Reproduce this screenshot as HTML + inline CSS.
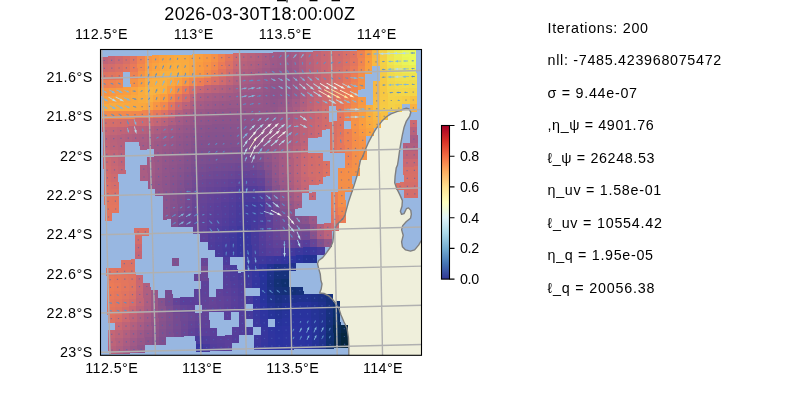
<!DOCTYPE html><html><head><meta charset="utf-8"><title>fig</title><style>html,body{margin:0;padding:0;background:#fff}svg{display:block;will-change:transform}text{font-family:"Liberation Sans",sans-serif;fill:#000}</style></head><body>
<svg width="800" height="400" viewBox="0 0 800 400">
<defs><clipPath id="ax"><rect x="100.5" y="49.5" width="321" height="305.8"/></clipPath>
<linearGradient id="cb" x1="0" y1="0" x2="0" y2="1"><stop offset="0.0" stop-color="#a50026"/><stop offset="0.1" stop-color="#d73027"/><stop offset="0.2" stop-color="#f46d43"/><stop offset="0.3" stop-color="#fdae61"/><stop offset="0.4" stop-color="#fee090"/><stop offset="0.5" stop-color="#ffffbf"/><stop offset="0.6" stop-color="#e0f3f8"/><stop offset="0.7" stop-color="#abd9e9"/><stop offset="0.8" stop-color="#74add1"/><stop offset="0.9" stop-color="#4575b4"/><stop offset="1.0" stop-color="#313695"/></linearGradient></defs>
<rect x="0" y="0" width="800" height="400" fill="#fff"/>
<g clip-path="url(#ax)">
<rect x="100" y="49" width="322" height="307" fill="#98b7e1"/>
<path d="M406.4 108.1 L408.9 108.9 L410.8 112.2 L409.7 116.2 L406.4 121.1 L404 127.6 L402.4 134.9 L400.7 143.9 L399.4 152 L398.3 160.1 L397.5 165 L396.2 168.1 L395.1 176.3 L394.7 182.8 L396.7 188.4 L399.9 194.9 L402.4 200.6 L402 206.3 L400.4 211.2 L401.6 214.4 L404 213.6 L406.4 208.7 L408.5 207.9 L410.8 210.4 L411.3 214.4 L410.5 218.3 L406.4 221.5 L402.7 225.6 L401.6 229.6 L403.2 235.3 L401.6 241.8 L402.4 246.7 L405.6 249.9 L410.5 251.1 L414.6 249.9 L418.6 245.1 L421 241 L430 238 L430 360 L348.8 360 L348.8 346.5 L348.4 337.5 L347 328 L344 322 L341 315 L339 309 L336 304 L333 300 L329 296 L324 293.5 L319.6 293 L321.2 289 L322 284 L320.8 280 L320.3 274.3 L318.7 268.6 L317.5 263.7 L318.7 260.5 L322.7 257.6 L326.8 252.4 L330.9 246.5 L332.8 242 L333.4 236.8 L333.9 232.3 L334.9 228.5 L336.4 225.5 L339 222.5 L342.8 218.8 L345 215 L346.2 210.4 L348.7 201.4 L351.7 192.5 L354.4 184.4 L356.9 176.3 L358.8 168.1 L360.4 160.5 L362.6 156.9 L365 150.4 L368.2 143 L371.5 136.6 L374.7 130.9 L378 126 L382 121.1 L386.1 117 L391 113.8 L397.5 111.4 L404 109Z" fill="#efefdb"/>
<g shape-rendering="crispEdges">
<path d="M100.4 56.7 107.8 56.5 108 64.4 100.7 64.5z" fill="#bf6478"/>
<path d="M107.8 56.5 115.1 56.4 115.3 64.2 108 64.4z" fill="#c66775"/>
<path d="M115.1 56.4 122.5 56.2 122.7 64 115.3 64.2z" fill="#ce6a70"/>
<path d="M122.5 56.2 129.8 56 130 63.8 122.7 64z" fill="#d76f68"/>
<path d="M129.8 56 137.2 55.8 137.4 63.7 130 63.8z" fill="#e2755f"/>
<path d="M137.2 55.8 144.5 55.6 144.7 63.5 137.4 63.7z" fill="#ef8351"/>
<path d="M144.5 55.6 151.8 55.5 152 63.3 144.7 63.5z" fill="#f79544"/>
<path d="M151.8 55.5 159.2 55.3 159.4 63.1 152 63.3z" fill="#fa9b40"/>
<path d="M159.2 55.3 166.5 55.1 166.7 62.9 159.4 63.1z" fill="#faa33f"/>
<path d="M166.5 55.1 173.9 54.9 174.1 62.8 166.7 62.9z" fill="#f9a740"/>
<path d="M173.9 54.9 181.2 54.8 181.4 62.6 174.1 62.8z" fill="#f9ab40"/>
<path d="M181.2 54.8 188.5 54.6 188.7 62.4 181.4 62.6z" fill="#f9aa40"/>
<path d="M188.5 54.6 195.9 54.4 196.1 62.2 188.7 62.4z" fill="#f9a540"/>
<path d="M195.9 54.4 203.2 54.2 203.4 62 196.1 62.2z" fill="#faa03f"/>
<path d="M203.2 54.2 210.6 54 210.8 61.9 203.4 62z" fill="#f99941"/>
<path d="M210.6 54 217.9 53.9 218.1 61.7 210.8 61.9z" fill="#f59047"/>
<path d="M217.9 53.9 225.3 53.7 225.4 61.5 218.1 61.7z" fill="#ee8252"/>
<path d="M225.3 53.7 232.6 53.5 232.8 61.3 225.4 61.5z" fill="#e3765d"/>
<path d="M232.6 53.5 239.9 53.3 240.1 61.1 232.8 61.3z" fill="#d16c6d"/>
<path d="M239.9 53.3 247.3 53.1 247.4 61 240.1 61.1z" fill="#be6479"/>
<path d="M247.3 53.1 254.6 53 254.8 60.8 247.4 61z" fill="#b8627c"/>
<path d="M254.6 53 262 52.8 262.1 60.6 254.8 60.8z" fill="#b3607e"/>
<path d="M262 52.8 269.3 52.6 269.5 60.4 262.1 60.6z" fill="#ab5d82"/>
<path d="M269.3 52.6 276.6 52.4 276.8 60.3 269.5 60.4z" fill="#a25a85"/>
<path d="M276.6 52.4 284 52.3 284.1 60.1 276.8 60.3z" fill="#9f5986"/>
<path d="M284 52.3 291.3 52.1 291.5 59.9 284.1 60.1z" fill="#9f5986"/>
<path d="M291.3 52.1 298.7 51.9 298.8 59.7 291.5 59.9z" fill="#a45b85"/>
<path d="M298.7 51.9 306 51.7 306.2 59.5 298.8 59.7z" fill="#af5f80"/>
<path d="M306 51.7 313.4 51.5 313.5 59.4 306.2 59.5z" fill="#b9627b"/>
<path d="M313.4 51.5 320.7 51.4 320.8 59.2 313.5 59.4z" fill="#c26577"/>
<path d="M320.7 51.4 328 51.2 328.2 59 320.8 59.2z" fill="#ca6873"/>
<path d="M328 51.2 335.4 51 335.5 58.8 328.2 59z" fill="#cd6a70"/>
<path d="M335.4 51 342.7 50.8 342.9 58.6 335.5 58.8z" fill="#d06b6e"/>
<path d="M342.7 50.8 350.1 50.6 350.2 58.5 342.9 58.6z" fill="#d86f68"/>
<path d="M350.1 50.6 357.4 50.5 357.5 58.3 350.2 58.5z" fill="#df7461"/>
<path d="M357.4 50.5 364.7 50.3 364.9 58.1 357.5 58.3z" fill="#ee8251"/>
<path d="M364.7 50.3 372.1 50.1 372.2 57.9 364.9 58.1z" fill="#f99b40"/>
<path d="M372.1 50.1 379.4 49.9 379.6 57.8 372.2 57.9z" fill="#f8b641"/>
<path d="M379.4 49.9 386.8 49.7 386.9 57.6 379.6 57.8z" fill="#f5cf46"/>
<path d="M386.8 49.7 394.1 49.6 394.2 57.4 386.9 57.6z" fill="#eee450"/>
<path d="M394.1 49.6 401.5 49.4 401.6 57.2 394.2 57.4z" fill="#ebef55"/>
<path d="M401.5 49.4 408.8 49.2 408.9 57 401.6 57.2z" fill="#e9f85a"/>
<path d="M408.8 49.2 416.1 49 416.3 56.9 408.9 57z" fill="#e8f95a"/>
<path d="M100.7 64.5 108 64.4 108.2 72.2 100.9 72.4z" fill="#cf6b6f"/>
<path d="M108 64.4 115.3 64.2 115.5 72 108.2 72.2z" fill="#d36d6b"/>
<path d="M115.3 64.2 122.7 64 122.9 71.8 115.5 72z" fill="#d97066"/>
<path d="M122.7 64 130 63.8 130.2 71.7 122.9 71.8z" fill="#e07460"/>
<path d="M130 63.8 137.4 63.7 137.6 71.5 130.2 71.7z" fill="#ea7a58"/>
<path d="M137.4 63.7 144.7 63.5 144.9 71.3 137.6 71.5z" fill="#f28a4b"/>
<path d="M144.7 63.5 152 63.3 152.2 71.1 144.9 71.3z" fill="#fa9b40"/>
<path d="M152 63.3 159.4 63.1 159.6 70.9 152.2 71.1z" fill="#faa23f"/>
<path d="M159.4 63.1 166.7 62.9 166.9 70.8 159.6 70.9z" fill="#f9a940"/>
<path d="M166.7 62.9 174.1 62.8 174.2 70.6 166.9 70.8z" fill="#f9ac40"/>
<path d="M174.1 62.8 181.4 62.6 181.6 70.4 174.2 70.6z" fill="#f9ae40"/>
<path d="M181.4 62.6 188.7 62.4 188.9 70.2 181.6 70.4z" fill="#f9ab40"/>
<path d="M188.7 62.4 196.1 62.2 196.3 70 188.9 70.2z" fill="#f9a540"/>
<path d="M196.1 62.2 203.4 62 203.6 69.9 196.3 70z" fill="#fa9c3f"/>
<path d="M203.4 62 210.8 61.9 210.9 69.7 203.6 69.9z" fill="#f79444"/>
<path d="M210.8 61.9 218.1 61.7 218.3 69.5 210.9 69.7z" fill="#f28a4c"/>
<path d="M218.1 61.7 225.4 61.5 225.6 69.3 218.3 69.5z" fill="#eb7b57"/>
<path d="M225.4 61.5 232.8 61.3 232.9 69.2 225.6 69.3z" fill="#dc7264"/>
<path d="M232.8 61.3 240.1 61.1 240.3 69 232.9 69.2z" fill="#cb6972"/>
<path d="M240.1 61.1 247.4 61 247.6 68.8 240.3 69z" fill="#b7627c"/>
<path d="M247.4 61 254.8 60.8 255 68.6 247.6 68.8z" fill="#b2607e"/>
<path d="M254.8 60.8 262.1 60.6 262.3 68.4 255 68.6z" fill="#ae5e80"/>
<path d="M262.1 60.6 269.5 60.4 269.6 68.3 262.3 68.4z" fill="#a65c84"/>
<path d="M269.5 60.4 276.8 60.3 277 68.1 269.6 68.3z" fill="#9e5987"/>
<path d="M276.8 60.3 284.1 60.1 284.3 67.9 277 68.1z" fill="#9b5887"/>
<path d="M284.1 60.1 291.5 59.9 291.6 67.7 284.3 67.9z" fill="#9b5887"/>
<path d="M291.5 59.9 298.8 59.7 299 67.5 291.6 67.7z" fill="#a15a86"/>
<path d="M298.8 59.7 306.2 59.5 306.3 67.4 299 67.5z" fill="#ad5e81"/>
<path d="M306.2 59.5 313.5 59.4 313.7 67.2 306.3 67.4z" fill="#b9627b"/>
<path d="M313.5 59.4 320.8 59.2 321 67 313.7 67.2z" fill="#c26577"/>
<path d="M320.8 59.2 328.2 59 328.3 66.8 321 67z" fill="#ca6873"/>
<path d="M328.2 59 335.5 58.8 335.7 66.6 328.3 66.8z" fill="#ce6a70"/>
<path d="M335.5 58.8 342.9 58.6 343 66.5 335.7 66.6z" fill="#d16c6d"/>
<path d="M342.9 58.6 350.2 58.5 350.3 66.3 343 66.5z" fill="#da7166"/>
<path d="M350.2 58.5 357.5 58.3 357.7 66.1 350.3 66.3z" fill="#e3765e"/>
<path d="M357.5 58.3 364.9 58.1 365 65.9 357.7 66.1z" fill="#f0864f"/>
<path d="M364.9 58.1 372.2 57.9 372.4 65.8 365 65.9z" fill="#fa9f3f"/>
<path d="M372.2 57.9 379.6 57.8 379.7 65.6 372.4 65.8z" fill="#f8b941"/>
<path d="M379.6 57.8 386.9 57.6 387 65.4 379.7 65.6z" fill="#f4d146"/>
<path d="M386.9 57.6 394.2 57.4 394.4 65.2 387 65.4z" fill="#efe450"/>
<path d="M394.2 57.4 401.6 57.2 401.7 65 394.4 65.2z" fill="#eced55"/>
<path d="M401.6 57.2 408.9 57 409 64.9 401.7 65z" fill="#e9f559"/>
<path d="M408.9 57 416.3 56.9 416.4 64.7 409 64.9z" fill="#e9f85a"/>
<path d="M100.9 72.4 108.2 72.2 108.4 80 101.1 80.2z" fill="#de7362"/>
<path d="M108.2 72.2 115.5 72 115.8 79.8 108.4 80z" fill="#e1755f"/>
<path d="M115.5 72 122.9 71.8 123.1 79.7 115.8 79.8z" fill="#e5775c"/>
<path d="M130.2 71.7 137.6 71.5 137.8 79.3 130.4 79.5z" fill="#ef8351"/>
<path d="M137.6 71.5 144.9 71.3 145.1 79.1 137.8 79.3z" fill="#f69345"/>
<path d="M144.9 71.3 152.2 71.1 152.4 78.9 145.1 79.1z" fill="#faa33f"/>
<path d="M152.2 71.1 159.6 70.9 159.8 78.8 152.4 78.9z" fill="#f9a940"/>
<path d="M159.6 70.9 166.9 70.8 167.1 78.6 159.8 78.8z" fill="#f9b040"/>
<path d="M166.9 70.8 174.2 70.6 174.4 78.4 167.1 78.6z" fill="#f9b140"/>
<path d="M174.2 70.6 181.6 70.4 181.8 78.2 174.4 78.4z" fill="#f9b140"/>
<path d="M181.6 70.4 188.9 70.2 189.1 78 181.8 78.2z" fill="#f9ab40"/>
<path d="M188.9 70.2 196.3 70 196.4 77.9 189.1 78z" fill="#faa23f"/>
<path d="M196.3 70 203.6 69.9 203.8 77.7 196.4 77.9z" fill="#f89742"/>
<path d="M203.6 69.9 210.9 69.7 211.1 77.5 203.8 77.7z" fill="#f38c4a"/>
<path d="M210.9 69.7 218.3 69.5 218.5 77.3 211.1 77.5z" fill="#ed8053"/>
<path d="M218.3 69.5 225.6 69.3 225.8 77.2 218.5 77.3z" fill="#e1755f"/>
<path d="M225.6 69.3 232.9 69.2 233.1 77 225.8 77.2z" fill="#d26d6c"/>
<path d="M232.9 69.2 240.3 69 240.5 76.8 233.1 77z" fill="#c26577"/>
<path d="M240.3 69 247.6 68.8 247.8 76.6 240.5 76.8z" fill="#b05f80"/>
<path d="M247.6 68.8 255 68.6 255.1 76.4 247.8 76.6z" fill="#ac5e81"/>
<path d="M255 68.6 262.3 68.4 262.5 76.3 255.1 76.4z" fill="#a85c83"/>
<path d="M262.3 68.4 269.6 68.3 269.8 76.1 262.5 76.3z" fill="#a05a86"/>
<path d="M269.6 68.3 277 68.1 277.1 75.9 269.8 76.1z" fill="#985788"/>
<path d="M277 68.1 284.3 67.9 284.5 75.7 277.1 75.9z" fill="#965788"/>
<path d="M284.3 67.9 291.6 67.7 291.8 75.5 284.5 75.7z" fill="#975788"/>
<path d="M291.6 67.7 299 67.5 299.1 75.4 291.8 75.5z" fill="#9e5987"/>
<path d="M299 67.5 306.3 67.4 306.5 75.2 299.1 75.4z" fill="#ab5d82"/>
<path d="M306.3 67.4 313.7 67.2 313.8 75 306.5 75.2z" fill="#b7627c"/>
<path d="M313.7 67.2 321 67 321.2 74.8 313.8 75z" fill="#c16577"/>
<path d="M321 67 328.3 66.8 328.5 74.7 321.2 74.8z" fill="#ca6873"/>
<path d="M328.3 66.8 335.7 66.6 335.8 74.5 328.5 74.7z" fill="#cf6b6e"/>
<path d="M335.7 66.6 343 66.5 343.2 74.3 335.8 74.5z" fill="#d46e6a"/>
<path d="M343 66.5 350.3 66.3 350.5 74.1 343.2 74.3z" fill="#de7362"/>
<path d="M350.3 66.3 357.7 66.1 357.8 73.9 350.5 74.1z" fill="#e97959"/>
<path d="M357.7 66.1 365 65.9 365.2 73.8 357.8 73.9z" fill="#f28b4b"/>
<path d="M365 65.9 372.4 65.8 372.5 73.6 365.2 73.8z" fill="#faa13f"/>
<path d="M379.7 65.6 387 65.4 387.2 73.2 379.8 73.4z" fill="#f5ce45"/>
<path d="M387 65.4 394.4 65.2 394.5 73 387.2 73.2z" fill="#f0de4d"/>
<path d="M394.4 65.2 401.7 65 401.8 72.9 394.5 73z" fill="#eee551"/>
<path d="M401.7 65 409 64.9 409.2 72.7 401.8 72.9z" fill="#eceb54"/>
<path d="M409 64.9 416.4 64.7 416.5 72.5 409.2 72.7z" fill="#eced54"/>
<path d="M101.1 80.2 108.4 80 108.6 87.8 101.3 88z" fill="#ee8053"/>
<path d="M108.4 80 115.8 79.8 116 87.7 108.6 87.8z" fill="#ef8351"/>
<path d="M115.8 79.8 123.1 79.7 123.3 87.5 116 87.7z" fill="#f1874e"/>
<path d="M130.4 79.5 137.8 79.3 138 87.1 130.6 87.3z" fill="#f59246"/>
<path d="M137.8 79.3 145.1 79.1 145.3 86.9 138 87.1z" fill="#fa9e3f"/>
<path d="M145.1 79.1 152.4 78.9 152.6 86.8 145.3 86.9z" fill="#f9ac40"/>
<path d="M152.4 78.9 159.8 78.8 160 86.6 152.6 86.8z" fill="#f9ae40"/>
<path d="M159.8 78.8 167.1 78.6 167.3 86.4 160 86.6z" fill="#f9b040"/>
<path d="M167.1 78.6 174.4 78.4 174.6 86.2 167.3 86.4z" fill="#f9a940"/>
<path d="M174.4 78.4 181.8 78.2 182 86 174.6 86.2z" fill="#faa13f"/>
<path d="M181.8 78.2 189.1 78 189.3 85.9 182 86z" fill="#f79544"/>
<path d="M189.1 78 196.4 77.9 196.6 85.7 189.3 85.9z" fill="#f1894d"/>
<path d="M196.4 77.9 203.8 77.7 204 85.5 196.6 85.7z" fill="#ed7e54"/>
<path d="M203.8 77.7 211.1 77.5 211.3 85.3 204 85.5z" fill="#e5775c"/>
<path d="M211.1 77.5 218.5 77.3 218.6 85.2 211.3 85.3z" fill="#db7165"/>
<path d="M218.5 77.3 225.8 77.2 226 85 218.6 85.2z" fill="#d06b6e"/>
<path d="M225.8 77.2 233.1 77 233.3 84.8 226 85z" fill="#c36676"/>
<path d="M233.1 77 240.5 76.8 240.6 84.6 233.3 84.8z" fill="#b6617d"/>
<path d="M240.5 76.8 247.8 76.6 248 84.4 240.6 84.6z" fill="#a85c83"/>
<path d="M247.8 76.6 255.1 76.4 255.3 84.3 248 84.4z" fill="#a55b84"/>
<path d="M255.1 76.4 262.5 76.3 262.6 84.1 255.3 84.3z" fill="#a25a85"/>
<path d="M262.5 76.3 269.8 76.1 270 83.9 262.6 84.1z" fill="#9b5887"/>
<path d="M269.8 76.1 277.1 75.9 277.3 83.7 270 83.9z" fill="#935689"/>
<path d="M277.1 75.9 284.5 75.7 284.6 83.5 277.3 83.7z" fill="#925689"/>
<path d="M284.5 75.7 291.8 75.5 292 83.4 284.6 83.5z" fill="#945689"/>
<path d="M291.8 75.5 299.1 75.4 299.3 83.2 292 83.4z" fill="#9c5987"/>
<path d="M299.1 75.4 306.5 75.2 306.6 83 299.3 83.2z" fill="#a95d82"/>
<path d="M306.5 75.2 313.8 75 314 82.8 306.6 83z" fill="#b6617c"/>
<path d="M313.8 75 321.2 74.8 321.3 82.7 314 82.8z" fill="#c16577"/>
<path d="M321.2 74.8 328.5 74.7 328.6 82.5 321.3 82.7z" fill="#cb6872"/>
<path d="M328.5 74.7 335.8 74.5 336 82.3 328.6 82.5z" fill="#d16c6d"/>
<path d="M335.8 74.5 343.2 74.3 343.3 82.1 336 82.3z" fill="#d76f68"/>
<path d="M343.2 74.3 350.5 74.1 350.6 81.9 343.3 82.1z" fill="#e3765e"/>
<path d="M350.5 74.1 357.8 73.9 358 81.8 350.6 81.9z" fill="#ed7e54"/>
<path d="M357.8 73.9 365.2 73.8 365.3 81.6 358 81.8z" fill="#f48f48"/>
<path d="M379.8 73.4 387.2 73.2 387.3 81 380 81.2z" fill="#f6ca43"/>
<path d="M387.2 73.2 394.5 73 394.6 80.9 387.3 81z" fill="#f2d94a"/>
<path d="M394.5 73 401.8 72.9 402 80.7 394.6 80.9z" fill="#f1de4d"/>
<path d="M401.8 72.9 409.2 72.7 409.3 80.5 402 80.7z" fill="#efe14f"/>
<path d="M409.2 72.7 416.5 72.5 416.6 80.3 409.3 80.5z" fill="#efe24f"/>
<path d="M101.3 88 108.6 87.8 108.8 95.7 101.5 95.8z" fill="#f79444"/>
<path d="M108.6 87.8 116 87.7 116.2 95.5 108.8 95.7z" fill="#f89742"/>
<path d="M116 87.7 123.3 87.5 123.5 95.3 116.2 95.5z" fill="#f99a41"/>
<path d="M123.3 87.5 130.6 87.3 130.8 95.1 123.5 95.3z" fill="#fa9d3f"/>
<path d="M130.6 87.3 138 87.1 138.2 94.9 130.8 95.1z" fill="#faa33f"/>
<path d="M138 87.1 145.3 86.9 145.5 94.8 138.2 94.9z" fill="#f9ac40"/>
<path d="M145.3 86.9 152.6 86.8 152.8 94.6 145.5 94.8z" fill="#f8b441"/>
<path d="M152.6 86.8 160 86.6 160.2 94.4 152.8 94.6z" fill="#f9b140"/>
<path d="M160 86.6 167.3 86.4 167.5 94.2 160.2 94.4z" fill="#f9ae40"/>
<path d="M167.3 86.4 174.6 86.2 174.8 94.1 167.5 94.2z" fill="#fa9b40"/>
<path d="M174.6 86.2 182 86 182.2 93.9 174.8 94.1z" fill="#f38c4a"/>
<path d="M182 86 189.3 85.9 189.5 93.7 182.2 93.9z" fill="#ea7958"/>
<path d="M189.3 85.9 196.6 85.7 196.8 93.5 189.5 93.7z" fill="#d56e69"/>
<path d="M196.6 85.7 204 85.5 204.2 93.3 196.8 93.5z" fill="#ca6873"/>
<path d="M204 85.5 211.3 85.3 211.5 93.2 204.2 93.3z" fill="#c26577"/>
<path d="M211.3 85.3 218.6 85.2 218.8 93 211.5 93.2z" fill="#bb637a"/>
<path d="M218.6 85.2 226 85 226.1 92.8 218.8 93z" fill="#b5617d"/>
<path d="M226 85 233.3 84.8 233.5 92.6 226.1 92.8z" fill="#ae5f80"/>
<path d="M233.3 84.8 240.6 84.6 240.8 92.4 233.5 92.6z" fill="#a75c83"/>
<path d="M240.6 84.6 248 84.4 248.1 92.3 240.8 92.4z" fill="#a15a86"/>
<path d="M248 84.4 255.3 84.3 255.5 92.1 248.1 92.3z" fill="#9f5986"/>
<path d="M255.3 84.3 262.6 84.1 262.8 91.9 255.5 92.1z" fill="#9d5987"/>
<path d="M262.6 84.1 270 83.9 270.1 91.7 262.8 91.9z" fill="#965788"/>
<path d="M270 83.9 277.3 83.7 277.5 91.6 270.1 91.7z" fill="#8f558a"/>
<path d="M277.3 83.7 284.6 83.5 284.8 91.4 277.5 91.6z" fill="#90558a"/>
<path d="M284.6 83.5 292 83.4 292.1 91.2 284.8 91.4z" fill="#945689"/>
<path d="M292 83.4 299.3 83.2 299.5 91 292.1 91.2z" fill="#9c5987"/>
<path d="M299.3 83.2 306.6 83 306.8 90.8 299.5 91z" fill="#aa5d82"/>
<path d="M306.6 83 314 82.8 314.1 90.7 306.8 90.8z" fill="#b7617c"/>
<path d="M314 82.8 321.3 82.7 321.5 90.5 314.1 90.7z" fill="#c16577"/>
<path d="M321.3 82.7 328.6 82.5 328.8 90.3 321.5 90.5z" fill="#cb6972"/>
<path d="M328.6 82.5 336 82.3 336.1 90.1 328.8 90.3z" fill="#d36d6b"/>
<path d="M336 82.3 343.3 82.1 343.5 89.9 336.1 90.1z" fill="#db7165"/>
<path d="M343.3 82.1 350.6 81.9 350.8 89.8 343.5 89.9z" fill="#e7785b"/>
<path d="M350.6 81.9 358 81.8 358.1 89.6 350.8 89.8z" fill="#ee8252"/>
<path d="M358 81.8 365.3 81.6 365.4 89.4 358.1 89.6z" fill="#f59246"/>
<path d="M372.6 81.4 380 81.2 380.1 89.1 372.8 89.2z" fill="#f8b841"/>
<path d="M380 81.2 387.3 81 387.4 88.9 380.1 89.1z" fill="#f7c943"/>
<path d="M387.3 81 394.6 80.9 394.8 88.7 387.4 88.9z" fill="#f3d649"/>
<path d="M394.6 80.9 402 80.7 402.1 88.5 394.8 88.7z" fill="#f2da4b"/>
<path d="M402 80.7 409.3 80.5 409.4 88.3 402.1 88.5z" fill="#f1dc4c"/>
<path d="M409.3 80.5 416.6 80.3 416.8 88.2 409.4 88.3z" fill="#f1db4c"/>
<path d="M101.5 95.8 108.8 95.7 109.1 103.5 101.7 103.7z" fill="#faa03f"/>
<path d="M108.8 95.7 116.2 95.5 116.4 103.3 109.1 103.5z" fill="#faa23f"/>
<path d="M116.2 95.5 123.5 95.3 123.7 103.1 116.4 103.3z" fill="#f9a440"/>
<path d="M123.5 95.3 130.8 95.1 131 102.9 123.7 103.1z" fill="#f9a540"/>
<path d="M130.8 95.1 138.2 94.9 138.4 102.8 131 102.9z" fill="#f9a840"/>
<path d="M138.2 94.9 145.5 94.8 145.7 102.6 138.4 102.8z" fill="#f9ac40"/>
<path d="M145.5 94.8 152.8 94.6 153 102.4 145.7 102.6z" fill="#f9af40"/>
<path d="M152.8 94.6 160.2 94.4 160.4 102.2 153 102.4z" fill="#f9a540"/>
<path d="M160.2 94.4 167.5 94.2 167.7 102.1 160.4 102.2z" fill="#fa9c3f"/>
<path d="M167.5 94.2 174.8 94.1 175 101.9 167.7 102.1z" fill="#f1884d"/>
<path d="M174.8 94.1 182.2 93.9 182.4 101.7 175 101.9z" fill="#e5775c"/>
<path d="M182.2 93.9 189.5 93.7 189.7 101.5 182.4 101.7z" fill="#d26c6c"/>
<path d="M189.5 93.7 196.8 93.5 197 101.3 189.7 101.5z" fill="#bd6479"/>
<path d="M196.8 93.5 204.2 93.3 204.3 101.2 197 101.3z" fill="#b15f7f"/>
<path d="M204.2 93.3 211.5 93.2 211.7 101 204.3 101.2z" fill="#aa5d82"/>
<path d="M211.5 93.2 218.8 93 219 100.8 211.7 101z" fill="#a65c84"/>
<path d="M218.8 93 226.1 92.8 226.3 100.6 219 100.8z" fill="#a35b85"/>
<path d="M226.1 92.8 233.5 92.6 233.7 100.4 226.3 100.6z" fill="#a05a86"/>
<path d="M233.5 92.6 240.8 92.4 241 100.3 233.7 100.4z" fill="#9e5987"/>
<path d="M240.8 92.4 248.1 92.3 248.3 100.1 241 100.3z" fill="#9b5887"/>
<path d="M248.1 92.3 255.5 92.1 255.6 99.9 248.3 100.1z" fill="#9a5888"/>
<path d="M255.5 92.1 262.8 91.9 263 99.7 255.6 99.9z" fill="#995888"/>
<path d="M262.8 91.9 270.1 91.7 270.3 99.6 263 99.7z" fill="#935689"/>
<path d="M270.1 91.7 277.5 91.6 277.6 99.4 270.3 99.6z" fill="#8e548b"/>
<path d="M277.5 91.6 284.8 91.4 285 99.2 277.6 99.4z" fill="#90558a"/>
<path d="M284.8 91.4 292.1 91.2 292.3 99 285 99.2z" fill="#955689"/>
<path d="M292.1 91.2 299.5 91 299.6 98.8 292.3 99z" fill="#9e5986"/>
<path d="M299.5 91 306.8 90.8 307 98.7 299.6 98.8z" fill="#ab5d82"/>
<path d="M306.8 90.8 314.1 90.7 314.3 98.5 307 98.7z" fill="#b8627c"/>
<path d="M314.1 90.7 321.5 90.5 321.6 98.3 314.3 98.5z" fill="#c26577"/>
<path d="M321.5 90.5 328.8 90.3 328.9 98.1 321.6 98.3z" fill="#cc6971"/>
<path d="M328.8 90.3 336.1 90.1 336.3 98 328.9 98.1z" fill="#d56e6a"/>
<path d="M336.1 90.1 343.5 89.9 343.6 97.8 336.3 98z" fill="#de7362"/>
<path d="M343.5 89.9 350.8 89.8 350.9 97.6 343.6 97.8z" fill="#ea7958"/>
<path d="M350.8 89.8 358.1 89.6 358.3 97.4 350.9 97.6z" fill="#f0854f"/>
<path d="M372.8 89.2 380.1 89.1 380.2 96.9 372.9 97.1z" fill="#f8b841"/>
<path d="M380.1 89.1 387.4 88.9 387.6 96.7 380.2 96.9z" fill="#f7c842"/>
<path d="M387.4 88.9 394.8 88.7 394.9 96.5 387.6 96.7z" fill="#f4d348"/>
<path d="M394.8 88.7 402.1 88.5 402.2 96.3 394.9 96.5z" fill="#f3d649"/>
<path d="M402.1 88.5 409.4 88.3 409.6 96.2 402.2 96.3z" fill="#f3d749"/>
<path d="M409.4 88.3 416.8 88.2 416.9 96 409.6 96.2z" fill="#f3d548"/>
<path d="M101.7 103.7 109.1 103.5 109.3 111.3 101.9 111.5z" fill="#f9ab40"/>
<path d="M109.1 103.5 116.4 103.3 116.6 111.1 109.3 111.3z" fill="#f9ac40"/>
<path d="M116.4 103.3 123.7 103.1 123.9 110.9 116.6 111.1z" fill="#f9ab40"/>
<path d="M123.7 103.1 131 102.9 131.3 110.8 123.9 110.9z" fill="#f9a940"/>
<path d="M131 102.9 138.4 102.8 138.6 110.6 131.3 110.8z" fill="#f9a840"/>
<path d="M138.4 102.8 145.7 102.6 145.9 110.4 138.6 110.6z" fill="#f9a840"/>
<path d="M145.7 102.6 153 102.4 153.2 110.2 145.9 110.4z" fill="#f9a440"/>
<path d="M153 102.4 160.4 102.2 160.6 110.1 153.2 110.2z" fill="#f79544"/>
<path d="M160.4 102.2 167.7 102.1 167.9 109.9 160.6 110.1z" fill="#f1884d"/>
<path d="M167.7 102.1 175 101.9 175.2 109.7 167.9 109.9z" fill="#e2755f"/>
<path d="M175 101.9 182.4 101.7 182.5 109.5 175.2 109.7z" fill="#cb6972"/>
<path d="M182.4 101.7 189.7 101.5 189.9 109.3 182.5 109.5z" fill="#bc637a"/>
<path d="M189.7 101.5 197 101.3 197.2 109.2 189.9 109.3z" fill="#ae5f80"/>
<path d="M197 101.3 204.3 101.2 204.5 109 197.2 109.2z" fill="#a65c84"/>
<path d="M204.3 101.2 211.7 101 211.9 108.8 204.5 109z" fill="#a15a86"/>
<path d="M211.7 101 219 100.8 219.2 108.6 211.9 108.8z" fill="#9d5987"/>
<path d="M219 100.8 226.3 100.6 226.5 108.5 219.2 108.6z" fill="#9b5887"/>
<path d="M226.3 100.6 233.7 100.4 233.8 108.3 226.5 108.5z" fill="#995888"/>
<path d="M233.7 100.4 241 100.3 241.2 108.1 233.8 108.3z" fill="#995888"/>
<path d="M241 100.3 248.3 100.1 248.5 107.9 241.2 108.1z" fill="#985788"/>
<path d="M248.3 100.1 255.6 99.9 255.8 107.7 248.5 107.9z" fill="#975788"/>
<path d="M255.6 99.9 263 99.7 263.1 107.6 255.8 107.7z" fill="#975788"/>
<path d="M263 99.7 270.3 99.6 270.5 107.4 263.1 107.6z" fill="#945689"/>
<path d="M270.3 99.6 277.6 99.4 277.8 107.2 270.5 107.4z" fill="#90558a"/>
<path d="M277.6 99.4 285 99.2 285.1 107 277.8 107.2z" fill="#955689"/>
<path d="M285 99.2 292.3 99 292.5 106.8 285.1 107z" fill="#9b5887"/>
<path d="M292.3 99 299.6 98.8 299.8 106.7 292.5 106.8z" fill="#a55b85"/>
<path d="M299.6 98.8 307 98.7 307.1 106.5 299.8 106.7z" fill="#b05f7f"/>
<path d="M307 98.7 314.3 98.5 314.4 106.3 307.1 106.5z" fill="#bc637a"/>
<path d="M314.3 98.5 321.6 98.3 321.8 106.1 314.4 106.3z" fill="#c66775"/>
<path d="M321.6 98.3 328.9 98.1 329.1 106 321.8 106.1z" fill="#cf6b6e"/>
<path d="M328.9 98.1 336.3 98 336.4 105.8 329.1 106z" fill="#d87067"/>
<path d="M336.3 98 343.6 97.8 343.7 105.6 336.4 105.8z" fill="#e1755f"/>
<path d="M343.6 97.8 350.9 97.6 351.1 105.4 343.7 105.6z" fill="#ec7d55"/>
<path d="M350.9 97.6 358.3 97.4 358.4 105.2 351.1 105.4z" fill="#f2894c"/>
<path d="M358.3 97.4 365.6 97.2 365.7 105.1 358.4 105.2z" fill="#f89842"/>
<path d="M372.9 97.1 380.2 96.9 380.4 104.7 373.1 104.9z" fill="#f8bb41"/>
<path d="M380.2 96.9 387.6 96.7 387.7 104.5 380.4 104.7z" fill="#f7c943"/>
<path d="M387.6 96.7 394.9 96.5 395 104.3 387.7 104.5z" fill="#f4d247"/>
<path d="M394.9 96.5 402.2 96.3 402.4 104.2 395 104.3z" fill="#f4d146"/>
<path d="M402.2 96.3 409.6 96.2 409.7 104 402.4 104.2z" fill="#f5cd45"/>
<path d="M409.6 96.2 416.9 96 417 103.8 409.7 104z" fill="#f7c342"/>
<path d="M101.9 111.5 109.3 111.3 109.5 119.1 102.2 119.3z" fill="#f38b4b"/>
<path d="M109.3 111.3 116.6 111.1 116.8 118.9 109.5 119.1z" fill="#f28b4b"/>
<path d="M116.6 111.1 123.9 110.9 124.1 118.8 116.8 118.9z" fill="#f28a4c"/>
<path d="M123.9 110.9 131.3 110.8 131.5 118.6 124.1 118.8z" fill="#f2894d"/>
<path d="M131.3 110.8 138.6 110.6 138.8 118.4 131.5 118.6z" fill="#f1884d"/>
<path d="M138.6 110.6 145.9 110.4 146.1 118.2 138.8 118.4z" fill="#f1864e"/>
<path d="M145.9 110.4 153.2 110.2 153.4 118.1 146.1 118.2z" fill="#ef8351"/>
<path d="M153.2 110.2 160.6 110.1 160.8 117.9 153.4 118.1z" fill="#e87959"/>
<path d="M160.6 110.1 167.9 109.9 168.1 117.7 160.8 117.9z" fill="#dd7263"/>
<path d="M167.9 109.9 175.2 109.7 175.4 117.5 168.1 117.7z" fill="#cb6873"/>
<path d="M175.2 109.7 182.5 109.5 182.7 117.3 175.4 117.5z" fill="#b5617d"/>
<path d="M182.5 109.5 189.9 109.3 190.1 117.2 182.7 117.3z" fill="#ab5d82"/>
<path d="M189.9 109.3 197.2 109.2 197.4 117 190.1 117.2z" fill="#a25a85"/>
<path d="M197.2 109.2 204.5 109 204.7 116.8 197.4 117z" fill="#9c5987"/>
<path d="M204.5 109 211.9 108.8 212 116.6 204.7 116.8z" fill="#985788"/>
<path d="M211.9 108.8 219.2 108.6 219.4 116.5 212 116.6z" fill="#955789"/>
<path d="M219.2 108.6 226.5 108.5 226.7 116.3 219.4 116.5z" fill="#945689"/>
<path d="M226.5 108.5 233.8 108.3 234 116.1 226.7 116.3z" fill="#935689"/>
<path d="M233.8 108.3 241.2 108.1 241.3 115.9 234 116.1z" fill="#945689"/>
<path d="M241.2 108.1 248.5 107.9 248.7 115.7 241.3 115.9z" fill="#945689"/>
<path d="M248.5 107.9 255.8 107.7 256 115.6 248.7 115.7z" fill="#945689"/>
<path d="M255.8 107.7 263.1 107.6 263.3 115.4 256 115.6z" fill="#945689"/>
<path d="M263.1 107.6 270.5 107.4 270.6 115.2 263.3 115.4z" fill="#945689"/>
<path d="M270.5 107.4 277.8 107.2 278 115 270.6 115.2z" fill="#935689"/>
<path d="M277.8 107.2 285.1 107 285.3 114.8 278 115z" fill="#995888"/>
<path d="M285.1 107 292.5 106.8 292.6 114.7 285.3 114.8z" fill="#a15a86"/>
<path d="M292.5 106.8 299.8 106.7 299.9 114.5 292.6 114.7z" fill="#ab5d82"/>
<path d="M299.8 106.7 307.1 106.5 307.3 114.3 299.9 114.5z" fill="#b5617d"/>
<path d="M307.1 106.5 314.4 106.3 314.6 114.1 307.3 114.3z" fill="#bf6478"/>
<path d="M314.4 106.3 321.8 106.1 321.9 114 314.6 114.1z" fill="#c96873"/>
<path d="M321.8 106.1 329.1 106 329.2 113.8 321.9 114z" fill="#d26d6c"/>
<path d="M336.4 105.8 343.7 105.6 343.9 113.4 336.6 113.6z" fill="#e4765d"/>
<path d="M343.7 105.6 351.1 105.4 351.2 113.2 343.9 113.4z" fill="#ee8053"/>
<path d="M351.1 105.4 358.4 105.2 358.5 113.1 351.2 113.2z" fill="#f38c4a"/>
<path d="M358.4 105.2 365.7 105.1 365.9 112.9 358.5 113.1z" fill="#fa9b3f"/>
<path d="M365.7 105.1 373.1 104.9 373.2 112.7 365.9 112.9z" fill="#f9af40"/>
<path d="M373.1 104.9 380.4 104.7 380.5 112.5 373.2 112.7z" fill="#f8be41"/>
<path d="M380.4 104.7 387.7 104.5 387.8 112.4 380.5 112.5z" fill="#f6cb43"/>
<path d="M387.7 104.5 395 104.3 395.2 112.2 387.8 112.4z" fill="#f5d046"/>
<path d="M395 104.3 402.4 104.2 402.5 112 395.2 112.2z" fill="#f6cc44"/>
<path d="M409.7 104 417 103.8 417.1 111.6 409.8 111.8z" fill="#f9b140"/>
<path d="M102.2 119.3 109.5 119.1 109.7 127 102.4 127.1z" fill="#d76f68"/>
<path d="M109.5 119.1 116.8 118.9 117 126.8 109.7 127z" fill="#d56e6a"/>
<path d="M116.8 118.9 124.1 118.8 124.3 126.6 117 126.8z" fill="#d36d6b"/>
<path d="M124.1 118.8 131.5 118.6 131.7 126.4 124.3 126.6z" fill="#d16c6d"/>
<path d="M131.5 118.6 138.8 118.4 139 126.2 131.7 126.4z" fill="#d06b6e"/>
<path d="M138.8 118.4 146.1 118.2 146.3 126.1 139 126.2z" fill="#ce6a70"/>
<path d="M146.1 118.2 153.4 118.1 153.6 125.9 146.3 126.1z" fill="#cb6872"/>
<path d="M153.4 118.1 160.8 117.9 161 125.7 153.6 125.9z" fill="#c36676"/>
<path d="M160.8 117.9 168.1 117.7 168.3 125.5 161 125.7z" fill="#ba637a"/>
<path d="M168.1 117.7 175.4 117.5 175.6 125.3 168.3 125.5z" fill="#b05f7f"/>
<path d="M175.4 117.5 182.7 117.3 182.9 125.2 175.6 125.3z" fill="#a55b85"/>
<path d="M182.7 117.3 190.1 117.2 190.3 125 182.9 125.2z" fill="#9e5986"/>
<path d="M190.1 117.2 197.4 117 197.6 124.8 190.3 125z" fill="#985788"/>
<path d="M197.4 117 204.7 116.8 204.9 124.6 197.6 124.8z" fill="#945689"/>
<path d="M204.7 116.8 212 116.6 212.2 124.5 204.9 124.6z" fill="#91558a"/>
<path d="M212 116.6 219.4 116.5 219.5 124.3 212.2 124.5z" fill="#8f548a"/>
<path d="M219.4 116.5 226.7 116.3 226.9 124.1 219.5 124.3z" fill="#8e548a"/>
<path d="M226.7 116.3 234 116.1 234.2 123.9 226.9 124.1z" fill="#8e548a"/>
<path d="M234 116.1 241.3 115.9 241.5 123.7 234.2 123.9z" fill="#8e548a"/>
<path d="M241.3 115.9 248.7 115.7 248.8 123.6 241.5 123.7z" fill="#8f548a"/>
<path d="M248.7 115.7 256 115.6 256.2 123.4 248.8 123.6z" fill="#90558a"/>
<path d="M256 115.6 263.3 115.4 263.5 123.2 256.2 123.4z" fill="#91558a"/>
<path d="M263.3 115.4 270.6 115.2 270.8 123 263.5 123.2z" fill="#925689"/>
<path d="M270.6 115.2 278 115 278.1 122.9 270.8 123z" fill="#945689"/>
<path d="M278 115 285.3 114.8 285.5 122.7 278.1 122.9z" fill="#9b5887"/>
<path d="M285.3 114.8 292.6 114.7 292.8 122.5 285.5 122.7z" fill="#a55b85"/>
<path d="M292.6 114.7 299.9 114.5 300.1 122.3 292.8 122.5z" fill="#af5f80"/>
<path d="M299.9 114.5 307.3 114.3 307.4 122.1 300.1 122.3z" fill="#b9627b"/>
<path d="M307.3 114.3 314.6 114.1 314.7 122 307.4 122.1z" fill="#c36577"/>
<path d="M314.6 114.1 321.9 114 322.1 121.8 314.7 122z" fill="#cb6872"/>
<path d="M321.9 114 329.2 113.8 329.4 121.6 322.1 121.8z" fill="#d26d6c"/>
<path d="M336.6 113.6 343.9 113.4 344 121.2 336.7 121.4z" fill="#e2755f"/>
<path d="M343.9 113.4 351.2 113.2 351.4 121.1 344 121.2z" fill="#ee8053"/>
<path d="M351.2 113.2 358.5 113.1 358.7 120.9 351.4 121.1z" fill="#f59048"/>
<path d="M358.5 113.1 365.9 112.9 366 120.7 358.7 120.9z" fill="#fa9d3f"/>
<path d="M365.9 112.9 373.2 112.7 373.3 120.5 366 120.7z" fill="#f9ad40"/>
<path d="M373.2 112.7 380.5 112.5 380.7 120.4 373.3 120.5z" fill="#f8b841"/>
<path d="M380.5 112.5 387.8 112.4 388 120.2 380.7 120.4z" fill="#f8c041"/>
<path d="M102.4 127.1 109.7 127 109.9 134.8 102.6 135z" fill="#c86774"/>
<path d="M109.7 127 117 126.8 117.2 134.6 109.9 134.8z" fill="#c36676"/>
<path d="M117 126.8 124.3 126.6 124.6 134.4 117.2 134.6z" fill="#c06478"/>
<path d="M124.3 126.6 131.7 126.4 131.9 134.2 124.6 134.4z" fill="#bd6379"/>
<path d="M131.7 126.4 139 126.2 139.2 134.1 131.9 134.2z" fill="#b9627b"/>
<path d="M139 126.2 146.3 126.1 146.5 133.9 139.2 134.1z" fill="#b6617c"/>
<path d="M146.3 126.1 153.6 125.9 153.8 133.7 146.5 133.9z" fill="#b2607e"/>
<path d="M153.6 125.9 161 125.7 161.2 133.5 153.8 133.7z" fill="#ac5e81"/>
<path d="M161 125.7 168.3 125.5 168.5 133.3 161.2 133.5z" fill="#a75c84"/>
<path d="M168.3 125.5 175.6 125.3 175.8 133.2 168.5 133.3z" fill="#a15a86"/>
<path d="M175.6 125.3 182.9 125.2 183.1 133 175.8 133.2z" fill="#9b5887"/>
<path d="M182.9 125.2 190.3 125 190.4 132.8 183.1 133z" fill="#965789"/>
<path d="M190.3 125 197.6 124.8 197.8 132.6 190.4 132.8z" fill="#91558a"/>
<path d="M197.6 124.8 204.9 124.6 205.1 132.5 197.8 132.6z" fill="#8d548b"/>
<path d="M204.9 124.6 212.2 124.5 212.4 132.3 205.1 132.5z" fill="#8b538b"/>
<path d="M212.2 124.5 219.5 124.3 219.7 132.1 212.4 132.3z" fill="#89538c"/>
<path d="M219.5 124.3 226.9 124.1 227 131.9 219.7 132.1z" fill="#89538c"/>
<path d="M226.9 124.1 234.2 123.9 234.4 131.7 227 131.9z" fill="#8a538c"/>
<path d="M234.2 123.9 241.5 123.7 241.7 131.6 234.4 131.7z" fill="#8a538c"/>
<path d="M241.5 123.7 248.8 123.6 249 131.4 241.7 131.6z" fill="#8b538b"/>
<path d="M248.8 123.6 256.2 123.4 256.3 131.2 249 131.4z" fill="#8c548b"/>
<path d="M256.2 123.4 263.5 123.2 263.7 131 256.3 131.2z" fill="#8e548a"/>
<path d="M263.5 123.2 270.8 123 271 130.9 263.7 131z" fill="#92558a"/>
<path d="M270.8 123 278.1 122.9 278.3 130.7 271 130.9z" fill="#955789"/>
<path d="M278.1 122.9 285.5 122.7 285.6 130.5 278.3 130.7z" fill="#9e5987"/>
<path d="M285.5 122.7 292.8 122.5 292.9 130.3 285.6 130.5z" fill="#a85c83"/>
<path d="M292.8 122.5 300.1 122.3 300.3 130.1 292.9 130.3z" fill="#b2607e"/>
<path d="M300.1 122.3 307.4 122.1 307.6 130 300.3 130.1z" fill="#bc6379"/>
<path d="M307.4 122.1 314.7 122 314.9 129.8 307.6 130z" fill="#c56675"/>
<path d="M314.7 122 322.1 121.8 322.2 129.6 314.9 129.8z" fill="#cc6971"/>
<path d="M322.1 121.8 329.4 121.6 329.5 129.4 322.2 129.6z" fill="#d26c6c"/>
<path d="M329.4 121.6 336.7 121.4 336.9 129.3 329.5 129.4z" fill="#d87067"/>
<path d="M336.7 121.4 344 121.2 344.2 129.1 336.9 129.3z" fill="#df7361"/>
<path d="M351.4 121.1 358.7 120.9 358.8 128.7 351.5 128.9z" fill="#f69345"/>
<path d="M358.7 120.9 366 120.7 366.1 128.5 358.8 128.7z" fill="#fa9e3f"/>
<path d="M366 120.7 373.3 120.5 373.5 128.4 366.1 128.5z" fill="#f9aa40"/>
<path d="M373.3 120.5 380.7 120.4 380.8 128.2 373.5 128.4z" fill="#f9b140"/>
<path d="M409.9 119.6 417.3 119.5 417.4 127.3 410.1 127.5z" fill="#ce6a70"/>
<path d="M102.6 135 109.9 134.8 110.1 142.6 102.8 142.8z" fill="#bf6478"/>
<path d="M109.9 134.8 117.2 134.6 117.4 142.4 110.1 142.6z" fill="#b9627b"/>
<path d="M117.2 134.6 124.6 134.4 124.8 142.2 117.4 142.4z" fill="#b5617d"/>
<path d="M124.6 134.4 131.9 134.2 132.1 142.1 124.8 142.2z" fill="#b1607f"/>
<path d="M131.9 134.2 139.2 134.1 139.4 141.9 132.1 142.1z" fill="#ae5e80"/>
<path d="M139.2 134.1 146.5 133.9 146.7 141.7 139.4 141.9z" fill="#ab5d82"/>
<path d="M146.5 133.9 153.8 133.7 154 141.5 146.7 141.7z" fill="#a75c83"/>
<path d="M153.8 133.7 161.2 133.5 161.4 141.3 154 141.5z" fill="#a35b85"/>
<path d="M161.2 133.5 168.5 133.3 168.7 141.2 161.4 141.3z" fill="#9f5a86"/>
<path d="M168.5 133.3 175.8 133.2 176 141 168.7 141.2z" fill="#9a5887"/>
<path d="M175.8 133.2 183.1 133 183.3 140.8 176 141z" fill="#955689"/>
<path d="M183.1 133 190.4 132.8 190.6 140.6 183.3 140.8z" fill="#90558a"/>
<path d="M190.4 132.8 197.8 132.6 198 140.5 190.6 140.6z" fill="#8b538b"/>
<path d="M197.8 132.6 205.1 132.5 205.3 140.3 198 140.5z" fill="#89538c"/>
<path d="M205.1 132.5 212.4 132.3 212.6 140.1 205.3 140.3z" fill="#87528c"/>
<path d="M212.4 132.3 219.7 132.1 219.9 139.9 212.6 140.1z" fill="#86528d"/>
<path d="M219.7 132.1 227 131.9 227.2 139.7 219.9 139.9z" fill="#86528d"/>
<path d="M227 131.9 234.4 131.7 234.5 139.6 227.2 139.7z" fill="#86528c"/>
<path d="M234.4 131.7 241.7 131.6 241.9 139.4 234.5 139.6z" fill="#88528c"/>
<path d="M241.7 131.6 249 131.4 249.2 139.2 241.9 139.4z" fill="#89538c"/>
<path d="M249 131.4 256.3 131.2 256.5 139 249.2 139.2z" fill="#8c548b"/>
<path d="M256.3 131.2 263.7 131 263.8 138.9 256.5 139z" fill="#8e548a"/>
<path d="M263.7 131 271 130.9 271.1 138.7 263.8 138.9z" fill="#935689"/>
<path d="M271 130.9 278.3 130.7 278.5 138.5 271.1 138.7z" fill="#975788"/>
<path d="M278.3 130.7 285.6 130.5 285.8 138.3 278.5 138.5z" fill="#9f5986"/>
<path d="M285.6 130.5 292.9 130.3 293.1 138.1 285.8 138.3z" fill="#a85c83"/>
<path d="M292.9 130.3 300.3 130.1 300.4 138 293.1 138.1z" fill="#b2607e"/>
<path d="M300.3 130.1 307.6 130 307.7 137.8 300.4 138z" fill="#bd6379"/>
<path d="M307.6 130 314.9 129.8 315.1 137.6 307.7 137.8z" fill="#c66675"/>
<path d="M314.9 129.8 322.2 129.6 322.4 137.4 315.1 137.6z" fill="#cc6971"/>
<path d="M329.5 129.4 336.9 129.3 337 137.1 329.7 137.3z" fill="#da7165"/>
<path d="M336.9 129.3 344.2 129.1 344.3 136.9 337 137.1z" fill="#e2755e"/>
<path d="M344.2 129.1 351.5 128.9 351.7 136.7 344.3 136.9z" fill="#ee8152"/>
<path d="M351.5 128.9 358.8 128.7 359 136.5 351.7 136.7z" fill="#f59047"/>
<path d="M358.8 128.7 366.1 128.5 366.3 136.4 359 136.5z" fill="#f99941"/>
<path d="M366.1 128.5 373.5 128.4 373.6 136.2 366.3 136.4z" fill="#faa33f"/>
<path d="M410.1 127.5 417.4 127.3 417.5 135.1 410.2 135.3z" fill="#b9627b"/>
<path d="M102.8 142.8 110.1 142.6 110.3 150.4 103 150.6z" fill="#c16577"/>
<path d="M110.1 142.6 117.4 142.4 117.7 150.2 110.3 150.4z" fill="#ba637a"/>
<path d="M117.4 142.4 124.8 142.2 125 150.1 117.7 150.2z" fill="#b5617d"/>
<path d="M139.4 141.9 146.7 141.7 146.9 149.5 139.6 149.7z" fill="#a75c84"/>
<path d="M146.7 141.7 154 141.5 154.2 149.4 146.9 149.5z" fill="#a35b85"/>
<path d="M154 141.5 161.4 141.3 161.6 149.2 154.2 149.4z" fill="#9e5986"/>
<path d="M161.4 141.3 168.7 141.2 168.9 149 161.6 149.2z" fill="#9a5887"/>
<path d="M168.7 141.2 176 141 176.2 148.8 168.9 149z" fill="#965789"/>
<path d="M176 141 183.3 140.8 183.5 148.6 176.2 148.8z" fill="#91558a"/>
<path d="M183.3 140.8 190.6 140.6 190.8 148.5 183.5 148.6z" fill="#8c548b"/>
<path d="M190.6 140.6 198 140.5 198.1 148.3 190.8 148.5z" fill="#87528c"/>
<path d="M198 140.5 205.3 140.3 205.5 148.1 198.1 148.3z" fill="#84518d"/>
<path d="M205.3 140.3 212.6 140.1 212.8 147.9 205.5 148.1z" fill="#83518d"/>
<path d="M212.6 140.1 219.9 139.9 220.1 147.7 212.8 147.9z" fill="#82518d"/>
<path d="M219.9 139.9 227.2 139.7 227.4 147.6 220.1 147.7z" fill="#82518d"/>
<path d="M227.2 139.7 234.5 139.6 234.7 147.4 227.4 147.6z" fill="#83518d"/>
<path d="M234.5 139.6 241.9 139.4 242 147.2 234.7 147.4z" fill="#84518d"/>
<path d="M241.9 139.4 249.2 139.2 249.4 147 242 147.2z" fill="#86528d"/>
<path d="M249.2 139.2 256.5 139 256.7 146.9 249.4 147z" fill="#8a538c"/>
<path d="M256.5 139 263.8 138.9 264 146.7 256.7 146.9z" fill="#8d548b"/>
<path d="M263.8 138.9 271.1 138.7 271.3 146.5 264 146.7z" fill="#935689"/>
<path d="M271.1 138.7 278.5 138.5 278.6 146.3 271.3 146.5z" fill="#995888"/>
<path d="M278.5 138.5 285.8 138.3 285.9 146.1 278.6 146.3z" fill="#a15a86"/>
<path d="M285.8 138.3 293.1 138.1 293.3 146 285.9 146.1z" fill="#a95d83"/>
<path d="M293.1 138.1 300.4 138 300.6 145.8 293.3 146z" fill="#b3607e"/>
<path d="M300.4 138 307.7 137.8 307.9 145.6 300.6 145.8z" fill="#be6479"/>
<path d="M329.7 137.3 337 137.1 337.2 144.9 329.8 145.1z" fill="#dc7263"/>
<path d="M337 137.1 344.3 136.9 344.5 144.7 337.2 144.9z" fill="#e6775c"/>
<path d="M344.3 136.9 351.7 136.7 351.8 144.5 344.5 144.7z" fill="#ee8152"/>
<path d="M351.7 136.7 359 136.5 359.1 144.4 351.8 144.5z" fill="#f48e49"/>
<path d="M359 136.5 366.3 136.4 366.4 144.2 359.1 144.4z" fill="#f79444"/>
<path d="M410.2 135.3 417.5 135.1 417.6 142.9 410.3 143.1z" fill="#aa5d82"/>
<path d="M103 150.6 110.3 150.4 110.5 158.2 103.2 158.4z" fill="#c96874"/>
<path d="M110.3 150.4 117.7 150.2 117.9 158.1 110.5 158.2z" fill="#c26577"/>
<path d="M117.7 150.2 125 150.1 125.2 157.9 117.9 158.1z" fill="#bb637a"/>
<path d="M154.2 149.4 161.6 149.2 161.8 157 154.4 157.2z" fill="#9c5987"/>
<path d="M161.6 149.2 168.9 149 169.1 156.8 161.8 157z" fill="#975788"/>
<path d="M168.9 149 176.2 148.8 176.4 156.6 169.1 156.8z" fill="#935689"/>
<path d="M176.2 148.8 183.5 148.6 183.7 156.5 176.4 156.6z" fill="#8f558a"/>
<path d="M183.5 148.6 190.8 148.5 191 156.3 183.7 156.5z" fill="#89538c"/>
<path d="M190.8 148.5 198.1 148.3 198.3 156.1 191 156.3z" fill="#83518d"/>
<path d="M198.1 148.3 205.5 148.1 205.6 155.9 198.3 156.1z" fill="#81508e"/>
<path d="M205.5 148.1 212.8 147.9 213 155.8 205.6 155.9z" fill="#7f508e"/>
<path d="M212.8 147.9 220.1 147.7 220.3 155.6 213 155.8z" fill="#7f4f8e"/>
<path d="M220.1 147.7 227.4 147.6 227.6 155.4 220.3 155.6z" fill="#7f4f8e"/>
<path d="M227.4 147.6 234.7 147.4 234.9 155.2 227.6 155.4z" fill="#7f4f8e"/>
<path d="M234.7 147.4 242 147.2 242.2 155 234.9 155.2z" fill="#7e4f8f"/>
<path d="M242 147.2 249.4 147 249.5 154.9 242.2 155z" fill="#7f508e"/>
<path d="M249.4 147 256.7 146.9 256.8 154.7 249.5 154.9z" fill="#84518d"/>
<path d="M256.7 146.9 264 146.7 264.2 154.5 256.8 154.7z" fill="#88538c"/>
<path d="M264 146.7 271.3 146.5 271.5 154.3 264.2 154.5z" fill="#91558a"/>
<path d="M271.3 146.5 278.6 146.3 278.8 154.2 271.5 154.3z" fill="#9a5887"/>
<path d="M278.6 146.3 285.9 146.1 286.1 154 278.8 154.2z" fill="#a35b85"/>
<path d="M285.9 146.1 293.3 146 293.4 153.8 286.1 154z" fill="#ad5e81"/>
<path d="M293.3 146 300.6 145.8 300.7 153.6 293.4 153.8z" fill="#b8627b"/>
<path d="M300.6 145.8 307.9 145.6 308.1 153.4 300.7 153.6z" fill="#c46676"/>
<path d="M329.8 145.1 337.2 144.9 337.3 152.7 330 152.9z" fill="#de7362"/>
<path d="M337.2 144.9 344.5 144.7 344.6 152.5 337.3 152.7z" fill="#e6775b"/>
<path d="M344.5 144.7 351.8 144.5 351.9 152.4 344.6 152.5z" fill="#ee8152"/>
<path d="M351.8 144.5 359.1 144.4 359.3 152.2 351.9 152.4z" fill="#f48e49"/>
<path d="M359.1 144.4 366.4 144.2 366.6 152 359.3 152.2z" fill="#f69345"/>
<path d="M403 143.3 410.3 143.1 410.5 150.9 403.1 151.1z" fill="#b4607e"/>
<path d="M410.3 143.1 417.6 142.9 417.8 150.8 410.5 150.9z" fill="#b15f7f"/>
<path d="M103.2 158.4 110.5 158.2 110.8 166.1 103.4 166.2z" fill="#cd6a70"/>
<path d="M110.5 158.2 117.9 158.1 118.1 165.9 110.8 166.1z" fill="#c66775"/>
<path d="M117.9 158.1 125.2 157.9 125.4 165.7 118.1 165.9z" fill="#bf6478"/>
<path d="M147.1 157.4 154.4 157.2 154.6 165 147.3 165.2z" fill="#a15a86"/>
<path d="M154.4 157.2 161.8 157 162 164.8 154.6 165z" fill="#9a5887"/>
<path d="M161.8 157 169.1 156.8 169.3 164.6 162 164.8z" fill="#945689"/>
<path d="M169.1 156.8 176.4 156.6 176.6 164.5 169.3 164.6z" fill="#90558a"/>
<path d="M176.4 156.6 183.7 156.5 183.9 164.3 176.6 164.5z" fill="#8d548b"/>
<path d="M183.7 156.5 191 156.3 191.2 164.1 183.9 164.3z" fill="#86528c"/>
<path d="M191 156.3 198.3 156.1 198.5 163.9 191.2 164.1z" fill="#80508e"/>
<path d="M198.3 156.1 205.6 155.9 205.8 163.8 198.5 163.9z" fill="#7d4f8f"/>
<path d="M205.6 155.9 213 155.8 213.1 163.6 205.8 163.8z" fill="#7b4e90"/>
<path d="M213 155.8 220.3 155.6 220.5 163.4 213.1 163.6z" fill="#7a4d90"/>
<path d="M220.3 155.6 227.6 155.4 227.8 163.2 220.5 163.4z" fill="#7a4d90"/>
<path d="M227.6 155.4 234.9 155.2 235.1 163 227.8 163.2z" fill="#794d90"/>
<path d="M234.9 155.2 242.2 155 242.4 162.9 235.1 163z" fill="#784c91"/>
<path d="M242.2 155 249.5 154.9 249.7 162.7 242.4 162.9z" fill="#784c91"/>
<path d="M249.5 154.9 256.8 154.7 257 162.5 249.7 162.7z" fill="#7d4f8f"/>
<path d="M256.8 154.7 264.2 154.5 264.3 162.3 257 162.5z" fill="#83518d"/>
<path d="M264.2 154.5 271.5 154.3 271.6 162.2 264.3 162.3z" fill="#8f558a"/>
<path d="M271.5 154.3 278.8 154.2 279 162 271.6 162.2z" fill="#9b5887"/>
<path d="M278.8 154.2 286.1 154 286.3 161.8 279 162z" fill="#a55b84"/>
<path d="M286.1 154 293.4 153.8 293.6 161.6 286.3 161.8z" fill="#b05f7f"/>
<path d="M293.4 153.8 300.7 153.6 300.9 161.4 293.6 161.6z" fill="#bd6479"/>
<path d="M300.7 153.6 308.1 153.4 308.2 161.3 300.9 161.4z" fill="#cb6872"/>
<path d="M308.1 153.4 315.4 153.3 315.5 161.1 308.2 161.3z" fill="#d26c6c"/>
<path d="M315.4 153.3 322.7 153.1 322.8 160.9 315.5 161.1z" fill="#d56e6a"/>
<path d="M344.6 152.5 351.9 152.4 352.1 160.2 344.8 160.4z" fill="#ee8152"/>
<path d="M351.9 152.4 359.3 152.2 359.4 160 352.1 160.2z" fill="#f48e49"/>
<path d="M359.3 152.2 366.6 152 366.7 159.8 359.4 160z" fill="#f59246"/>
<path d="M403.1 151.1 410.5 150.9 410.6 158.8 403.3 159z" fill="#bf6478"/>
<path d="M410.5 150.9 417.8 150.8 417.9 158.6 410.6 158.8z" fill="#bf6478"/>
<path d="M103.4 166.2 110.8 166.1 111 173.9 103.7 174.1z" fill="#d06b6e"/>
<path d="M110.8 166.1 118.1 165.9 118.3 173.7 111 173.9z" fill="#ca6873"/>
<path d="M118.1 165.9 125.4 165.7 125.6 173.5 118.3 173.7z" fill="#c36676"/>
<path d="M140 165.4 147.3 165.2 147.5 173 140.2 173.2z" fill="#aa5d82"/>
<path d="M147.3 165.2 154.6 165 154.8 172.8 147.5 173z" fill="#a15a86"/>
<path d="M154.6 165 162 164.8 162.1 172.6 154.8 172.8z" fill="#995888"/>
<path d="M162 164.8 169.3 164.6 169.5 172.5 162.1 172.6z" fill="#92558a"/>
<path d="M169.3 164.6 176.6 164.5 176.8 172.3 169.5 172.5z" fill="#8e548b"/>
<path d="M176.6 164.5 183.9 164.3 184.1 172.1 176.8 172.3z" fill="#89538c"/>
<path d="M183.9 164.3 191.2 164.1 191.4 171.9 184.1 172.1z" fill="#83518d"/>
<path d="M191.2 164.1 198.5 163.9 198.7 171.8 191.4 171.9z" fill="#7c4e8f"/>
<path d="M198.5 163.9 205.8 163.8 206 171.6 198.7 171.8z" fill="#794d90"/>
<path d="M205.8 163.8 213.1 163.6 213.3 171.4 206 171.6z" fill="#764b91"/>
<path d="M213.1 163.6 220.5 163.4 220.6 171.2 213.3 171.4z" fill="#744b92"/>
<path d="M220.5 163.4 227.8 163.2 227.9 171 220.6 171.2z" fill="#734a92"/>
<path d="M227.8 163.2 235.1 163 235.3 170.9 227.9 171z" fill="#724993"/>
<path d="M235.1 163 242.4 162.9 242.6 170.7 235.3 170.9z" fill="#6f4893"/>
<path d="M242.4 162.9 249.7 162.7 249.9 170.5 242.6 170.7z" fill="#6f4894"/>
<path d="M249.7 162.7 257 162.5 257.2 170.3 249.9 170.5z" fill="#734a92"/>
<path d="M257 162.5 264.3 162.3 264.5 170.2 257.2 170.3z" fill="#784d90"/>
<path d="M264.3 162.3 271.6 162.2 271.8 170 264.5 170.2z" fill="#88528c"/>
<path d="M271.6 162.2 279 162 279.1 169.8 271.8 170z" fill="#975788"/>
<path d="M279 162 286.3 161.8 286.4 169.6 279.1 169.8z" fill="#a45b85"/>
<path d="M286.3 161.8 293.6 161.6 293.7 169.4 286.4 169.6z" fill="#b05f7f"/>
<path d="M293.6 161.6 300.9 161.4 301.1 169.3 293.7 169.4z" fill="#bd6479"/>
<path d="M300.9 161.4 308.2 161.3 308.4 169.1 301.1 169.3z" fill="#cb6972"/>
<path d="M308.2 161.3 315.5 161.1 315.7 168.9 308.4 169.1z" fill="#d26c6c"/>
<path d="M315.5 161.1 322.8 160.9 323 168.7 315.7 168.9z" fill="#d56e69"/>
<path d="M322.8 160.9 330.1 160.7 330.3 168.6 323 168.7z" fill="#db7164"/>
<path d="M344.8 160.4 352.1 160.2 352.2 168 344.9 168.2z" fill="#f1884d"/>
<path d="M352.1 160.2 359.4 160 359.5 167.8 352.2 168z" fill="#f59048"/>
<path d="M403.3 159 410.6 158.8 410.7 166.6 403.4 166.8z" fill="#cc6972"/>
<path d="M410.6 158.8 417.9 158.6 418 166.4 410.7 166.6z" fill="#cb6972"/>
<path d="M103.7 174.1 111 173.9 111.2 181.7 103.9 181.9z" fill="#d46d6a"/>
<path d="M111 173.9 118.3 173.7 118.5 181.5 111.2 181.7z" fill="#cf6b6f"/>
<path d="M140.2 173.2 147.5 173 147.7 180.8 140.4 181z" fill="#a95d83"/>
<path d="M147.5 173 154.8 172.8 155 180.6 147.7 180.8z" fill="#9f5986"/>
<path d="M154.8 172.8 162.1 172.6 162.3 180.5 155 180.6z" fill="#975788"/>
<path d="M162.1 172.6 169.5 172.5 169.7 180.3 162.3 180.5z" fill="#90558a"/>
<path d="M169.5 172.5 176.8 172.3 177 180.1 169.7 180.3z" fill="#8b538b"/>
<path d="M176.8 172.3 184.1 172.1 184.3 179.9 177 180.1z" fill="#85528d"/>
<path d="M184.1 172.1 191.4 171.9 191.6 179.8 184.3 179.9z" fill="#7e4f8e"/>
<path d="M191.4 171.9 198.7 171.8 198.9 179.6 191.6 179.8z" fill="#784c91"/>
<path d="M198.7 171.8 206 171.6 206.2 179.4 198.9 179.6z" fill="#744a92"/>
<path d="M206 171.6 213.3 171.4 213.5 179.2 206.2 179.4z" fill="#714993"/>
<path d="M213.3 171.4 220.6 171.2 220.8 179 213.5 179.2z" fill="#6e4894"/>
<path d="M220.6 171.2 227.9 171 228.1 178.9 220.8 179z" fill="#6d4794"/>
<path d="M227.9 171 235.3 170.9 235.4 178.7 228.1 178.9z" fill="#6a4695"/>
<path d="M235.3 170.9 242.6 170.7 242.7 178.5 235.4 178.7z" fill="#674496"/>
<path d="M242.6 170.7 249.9 170.5 250.1 178.3 242.7 178.5z" fill="#654497"/>
<path d="M249.9 170.5 257.2 170.3 257.4 178.2 250.1 178.3z" fill="#694596"/>
<path d="M257.2 170.3 264.5 170.2 264.7 178 257.4 178.2z" fill="#6e4894"/>
<path d="M264.5 170.2 271.8 170 272 177.8 264.7 178z" fill="#81508e"/>
<path d="M271.8 170 279.1 169.8 279.3 177.6 272 177.8z" fill="#945689"/>
<path d="M279.1 169.8 286.4 169.6 286.6 177.4 279.3 177.6z" fill="#a25a86"/>
<path d="M286.4 169.6 293.7 169.4 293.9 177.3 286.6 177.4z" fill="#af5f80"/>
<path d="M293.7 169.4 301.1 169.3 301.2 177.1 293.9 177.3z" fill="#bd6479"/>
<path d="M301.1 169.3 308.4 169.1 308.5 176.9 301.2 177.1z" fill="#cb6972"/>
<path d="M308.4 169.1 315.7 168.9 315.8 176.7 308.5 176.9z" fill="#d26d6c"/>
<path d="M315.7 168.9 323 168.7 323.1 176.6 315.8 176.7z" fill="#d56e69"/>
<path d="M323 168.7 330.3 168.6 330.4 176.4 323.1 176.6z" fill="#de7362"/>
<path d="M337.6 168.4 344.9 168.2 345.1 176 337.8 176.2z" fill="#f48d49"/>
<path d="M344.9 168.2 352.2 168 352.4 175.8 345.1 176z" fill="#f48f48"/>
<path d="M352.2 168 359.5 167.8 359.7 175.7 352.4 175.8z" fill="#f59246"/>
<path d="M403.4 166.8 410.7 166.6 410.8 174.4 403.5 174.6z" fill="#d76f68"/>
<path d="M410.7 166.6 418 166.4 418.2 174.2 410.8 174.4z" fill="#d76f68"/>
<path d="M103.9 181.9 111.2 181.7 111.4 189.5 104.1 189.7z" fill="#d97067"/>
<path d="M111.2 181.7 118.5 181.5 118.7 189.4 111.4 189.5z" fill="#d56e6a"/>
<path d="M147.7 180.8 155 180.6 155.2 188.5 147.9 188.6z" fill="#9b5887"/>
<path d="M155 180.6 162.3 180.5 162.5 188.3 155.2 188.5z" fill="#945689"/>
<path d="M162.3 180.5 169.7 180.3 169.9 188.1 162.5 188.3z" fill="#8e548b"/>
<path d="M169.7 180.3 177 180.1 177.2 187.9 169.9 188.1z" fill="#88528c"/>
<path d="M177 180.1 184.3 179.9 184.5 187.8 177.2 187.9z" fill="#82508e"/>
<path d="M184.3 179.9 191.6 179.8 191.8 187.6 184.5 187.8z" fill="#7a4d90"/>
<path d="M191.6 179.8 198.9 179.6 199.1 187.4 191.8 187.6z" fill="#724a93"/>
<path d="M198.9 179.6 206.2 179.4 206.4 187.2 199.1 187.4z" fill="#6e4894"/>
<path d="M206.2 179.4 213.5 179.2 213.7 187 206.4 187.2z" fill="#6b4695"/>
<path d="M213.5 179.2 220.8 179 221 186.9 213.7 187z" fill="#684596"/>
<path d="M220.8 179 228.1 178.9 228.3 186.7 221 186.9z" fill="#664497"/>
<path d="M228.1 178.9 235.4 178.7 235.6 186.5 228.3 186.7z" fill="#624298"/>
<path d="M235.4 178.7 242.7 178.5 242.9 186.3 235.6 186.5z" fill="#5e4099"/>
<path d="M242.7 178.5 250.1 178.3 250.2 186.2 242.9 186.3z" fill="#5c409a"/>
<path d="M250.1 178.3 257.4 178.2 257.5 186 250.2 186.2z" fill="#5f4199"/>
<path d="M257.4 178.2 264.7 178 264.8 185.8 257.5 186z" fill="#644397"/>
<path d="M264.7 178 272 177.8 272.1 185.6 264.8 185.8z" fill="#794d90"/>
<path d="M272 177.8 279.3 177.6 279.5 185.4 272.1 185.6z" fill="#8d548b"/>
<path d="M279.3 177.6 286.6 177.4 286.8 185.3 279.5 185.4z" fill="#9c5987"/>
<path d="M286.6 177.4 293.9 177.3 294.1 185.1 286.8 185.3z" fill="#ac5e81"/>
<path d="M293.9 177.3 301.2 177.1 301.4 184.9 294.1 185.1z" fill="#ba637b"/>
<path d="M301.2 177.1 308.5 176.9 308.7 184.7 301.4 184.9z" fill="#c86774"/>
<path d="M308.5 176.9 315.8 176.7 316 184.6 308.7 184.7z" fill="#d06b6e"/>
<path d="M315.8 176.7 323.1 176.6 323.3 184.4 316 184.6z" fill="#d56e6a"/>
<path d="M337.8 176.2 345.1 176 345.2 183.9 337.9 184z" fill="#f48f48"/>
<path d="M345.1 176 352.4 175.8 352.5 183.7 345.2 183.9z" fill="#f48f48"/>
<path d="M403.5 174.6 410.8 174.4 411 182.3 403.7 182.4z" fill="#d87067"/>
<path d="M410.8 174.4 418.2 174.2 418.3 182.1 411 182.3z" fill="#d87067"/>
<path d="M104.1 189.7 111.4 189.5 111.6 197.4 104.3 197.5z" fill="#dd7363"/>
<path d="M111.4 189.5 118.7 189.4 118.9 197.2 111.6 197.4z" fill="#db7165"/>
<path d="M155.2 188.5 162.5 188.3 162.7 196.1 155.4 196.3z" fill="#935689"/>
<path d="M162.5 188.3 169.9 188.1 170 195.9 162.7 196.1z" fill="#8c548b"/>
<path d="M169.9 188.1 177.2 187.9 177.4 195.8 170 195.9z" fill="#86528d"/>
<path d="M177.2 187.9 184.5 187.8 184.7 195.6 177.4 195.8z" fill="#7f508e"/>
<path d="M184.5 187.8 191.8 187.6 192 195.4 184.7 195.6z" fill="#764b91"/>
<path d="M191.8 187.6 199.1 187.4 199.3 195.2 192 195.4z" fill="#6e4894"/>
<path d="M199.1 187.4 206.4 187.2 206.6 195 199.3 195.2z" fill="#6a4695"/>
<path d="M206.4 187.2 213.7 187 213.9 194.9 206.6 195z" fill="#664496"/>
<path d="M213.7 187 221 186.9 221.2 194.7 213.9 194.9z" fill="#634397"/>
<path d="M221 186.9 228.3 186.7 228.5 194.5 221.2 194.7z" fill="#5f4199"/>
<path d="M228.3 186.7 235.6 186.5 235.8 194.3 228.5 194.5z" fill="#5b3f9a"/>
<path d="M235.6 186.5 242.9 186.3 243.1 194.2 235.8 194.3z" fill="#553d9b"/>
<path d="M242.9 186.3 250.2 186.2 250.4 194 243.1 194.2z" fill="#513d9b"/>
<path d="M250.2 186.2 257.5 186 257.7 193.8 250.4 194z" fill="#533d9b"/>
<path d="M257.5 186 264.8 185.8 265 193.6 257.7 193.8z" fill="#5a3f9a"/>
<path d="M264.8 185.8 272.1 185.6 272.3 193.5 265 193.6z" fill="#704993"/>
<path d="M272.1 185.6 279.5 185.4 279.6 193.3 272.3 193.5z" fill="#86528c"/>
<path d="M279.5 185.4 286.8 185.3 286.9 193.1 279.6 193.3z" fill="#975788"/>
<path d="M286.8 185.3 294.1 185.1 294.2 192.9 286.9 193.1z" fill="#a85c83"/>
<path d="M294.1 185.1 301.4 184.9 301.5 192.7 294.2 192.9z" fill="#b7617c"/>
<path d="M301.4 184.9 308.7 184.7 308.8 192.6 301.5 192.7z" fill="#c56676"/>
<path d="M337.9 184 345.2 183.9 345.4 191.7 338.1 191.9z" fill="#f48e49"/>
<path d="M345.2 183.9 352.5 183.7 352.7 191.5 345.4 191.7z" fill="#f48f48"/>
<path d="M396.4 182.6 403.7 182.4 403.8 190.3 396.5 190.4z" fill="#d97066"/>
<path d="M403.7 182.4 411 182.3 411.1 190.1 403.8 190.3z" fill="#d56e6a"/>
<path d="M411 182.3 418.3 182.1 418.4 189.9 411.1 190.1z" fill="#d56e6a"/>
<path d="M104.3 197.5 111.6 197.4 111.8 205.2 104.5 205.4z" fill="#e2755f"/>
<path d="M111.6 197.4 118.9 197.2 119.1 205 111.8 205.2z" fill="#e1755f"/>
<path d="M162.7 196.1 170 195.9 170.2 203.8 162.9 203.9z" fill="#8c548b"/>
<path d="M170 195.9 177.4 195.8 177.5 203.6 170.2 203.8z" fill="#86528d"/>
<path d="M177.4 195.8 184.7 195.6 184.8 203.4 177.5 203.6z" fill="#7f4f8e"/>
<path d="M184.7 195.6 192 195.4 192.2 203.2 184.8 203.4z" fill="#754b92"/>
<path d="M192 195.4 199.3 195.2 199.5 203.1 192.2 203.2z" fill="#6c4795"/>
<path d="M199.3 195.2 206.6 195 206.8 202.9 199.5 203.1z" fill="#674496"/>
<path d="M206.6 195 213.9 194.9 214.1 202.7 206.8 202.9z" fill="#634298"/>
<path d="M213.9 194.9 221.2 194.7 221.4 202.5 214.1 202.7z" fill="#5f4199"/>
<path d="M221.2 194.7 228.5 194.5 228.7 202.3 221.4 202.5z" fill="#5c3f9a"/>
<path d="M228.5 194.5 235.8 194.3 236 202.2 228.7 202.3z" fill="#563e9b"/>
<path d="M235.8 194.3 243.1 194.2 243.3 202 236 202.2z" fill="#503c9b"/>
<path d="M243.1 194.2 250.4 194 250.6 201.8 243.3 202z" fill="#4c3b9c"/>
<path d="M250.4 194 257.7 193.8 257.9 201.6 250.6 201.8z" fill="#4b3b9c"/>
<path d="M257.7 193.8 265 193.6 265.2 201.5 257.9 201.6z" fill="#513d9b"/>
<path d="M265 193.6 272.3 193.5 272.5 201.3 265.2 201.5z" fill="#684596"/>
<path d="M272.3 193.5 279.6 193.3 279.8 201.1 272.5 201.3z" fill="#7c4e8f"/>
<path d="M279.6 193.3 286.9 193.1 287.1 200.9 279.8 201.1z" fill="#8e548b"/>
<path d="M286.9 193.1 294.2 192.9 294.4 200.7 287.1 200.9z" fill="#9f5a86"/>
<path d="M294.2 192.9 301.5 192.7 301.7 200.6 294.4 200.7z" fill="#ad5e81"/>
<path d="M308.8 192.6 316.1 192.4 316.3 200.2 309 200.4z" fill="#c56675"/>
<path d="M330.8 192 338.1 191.9 338.2 199.7 330.9 199.9z" fill="#ed7e54"/>
<path d="M338.1 191.9 345.4 191.7 345.5 199.5 338.2 199.7z" fill="#f48e49"/>
<path d="M403.8 190.3 411.1 190.1 411.2 197.9 403.9 198.1z" fill="#d56e6a"/>
<path d="M411.1 190.1 418.4 189.9 418.5 197.7 411.2 197.9z" fill="#d56e6a"/>
<path d="M104.5 205.4 111.8 205.2 112 213 104.7 213.2z" fill="#e4765d"/>
<path d="M111.8 205.2 119.1 205 119.3 212.8 112 213z" fill="#e3765e"/>
<path d="M162.9 203.9 170.2 203.8 170.4 211.6 163.1 211.8z" fill="#8c548b"/>
<path d="M170.2 203.8 177.5 203.6 177.7 211.4 170.4 211.6z" fill="#84518d"/>
<path d="M177.5 203.6 184.8 203.4 185 211.2 177.7 211.4z" fill="#7c4e8f"/>
<path d="M184.8 203.4 192.2 203.2 192.3 211.1 185 211.2z" fill="#734a92"/>
<path d="M192.2 203.2 199.5 203.1 199.6 210.9 192.3 211.1z" fill="#694695"/>
<path d="M199.5 203.1 206.8 202.9 206.9 210.7 199.6 210.9z" fill="#644397"/>
<path d="M206.8 202.9 214.1 202.7 214.2 210.5 206.9 210.7z" fill="#5f4199"/>
<path d="M214.1 202.7 221.4 202.5 221.5 210.3 214.2 210.5z" fill="#5c3f9a"/>
<path d="M221.4 202.5 228.7 202.3 228.8 210.2 221.5 210.3z" fill="#573e9a"/>
<path d="M228.7 202.3 236 202.2 236.1 210 228.8 210.2z" fill="#523d9b"/>
<path d="M236 202.2 243.3 202 243.4 209.8 236.1 210z" fill="#4b3b9c"/>
<path d="M243.3 202 250.6 201.8 250.7 209.6 243.4 209.8z" fill="#463a9d"/>
<path d="M250.6 201.8 257.9 201.6 258 209.5 250.7 209.6z" fill="#44399d"/>
<path d="M257.9 201.6 265.2 201.5 265.3 209.3 258 209.5z" fill="#483a9c"/>
<path d="M265.2 201.5 272.5 201.3 272.6 209.1 265.3 209.3z" fill="#5f4199"/>
<path d="M272.5 201.3 279.8 201.1 279.9 208.9 272.6 209.1z" fill="#724993"/>
<path d="M279.8 201.1 287.1 200.9 287.2 208.7 279.9 208.9z" fill="#84518d"/>
<path d="M287.1 200.9 294.4 200.7 294.5 208.6 287.2 208.7z" fill="#975788"/>
<path d="M294.4 200.7 301.7 200.6 301.9 208.4 294.5 208.6z" fill="#a35b85"/>
<path d="M330.9 199.9 338.2 199.7 338.4 207.5 331.1 207.7z" fill="#ec7d55"/>
<path d="M338.2 199.7 345.5 199.5 345.7 207.3 338.4 207.5z" fill="#f48e49"/>
<path d="M104.7 213.2 112 213 112.2 220.8 105 221z" fill="#e2755f"/>
<path d="M163.1 211.8 170.4 211.6 170.6 219.4 163.3 219.6z" fill="#8c548b"/>
<path d="M170.4 211.6 177.7 211.4 177.9 219.2 170.6 219.4z" fill="#80508e"/>
<path d="M177.7 211.4 185 211.2 185.2 219.1 177.9 219.2z" fill="#754b92"/>
<path d="M185 211.2 192.3 211.1 192.5 218.9 185.2 219.1z" fill="#6e4894"/>
<path d="M192.3 211.1 199.6 210.9 199.8 218.7 192.5 218.9z" fill="#674596"/>
<path d="M199.6 210.9 206.9 210.7 207.1 218.5 199.8 218.7z" fill="#624298"/>
<path d="M206.9 210.7 214.2 210.5 214.4 218.3 207.1 218.5z" fill="#5d4099"/>
<path d="M214.2 210.5 221.5 210.3 221.7 218.2 214.4 218.3z" fill="#593f9a"/>
<path d="M221.5 210.3 228.8 210.2 229 218 221.7 218.2z" fill="#553e9b"/>
<path d="M228.8 210.2 236.1 210 236.3 217.8 229 218z" fill="#4f3c9b"/>
<path d="M236.1 210 243.4 209.8 243.6 217.6 236.3 217.8z" fill="#483a9c"/>
<path d="M243.4 209.8 250.7 209.6 250.9 217.5 243.6 217.6z" fill="#453a9d"/>
<path d="M250.7 209.6 258 209.5 258.2 217.3 250.9 217.5z" fill="#453a9d"/>
<path d="M258 209.5 265.3 209.3 265.5 217.1 258.2 217.3z" fill="#4a3b9c"/>
<path d="M265.3 209.3 272.6 209.1 272.8 216.9 265.5 217.1z" fill="#5e4199"/>
<path d="M272.6 209.1 279.9 208.9 280.1 216.7 272.8 216.9z" fill="#6e4894"/>
<path d="M279.9 208.9 287.2 208.7 287.4 216.6 280.1 216.7z" fill="#7d4f8f"/>
<path d="M287.2 208.7 294.5 208.6 294.7 216.4 287.4 216.6z" fill="#8b538b"/>
<path d="M331.1 207.7 338.4 207.5 338.5 215.3 331.2 215.5z" fill="#e7785a"/>
<path d="M338.4 207.5 345.7 207.3 345.8 215.2 338.5 215.3z" fill="#f0864e"/>
<path d="M170.6 219.4 177.9 219.2 178.1 227.1 170.8 227.2z" fill="#7d4f8f"/>
<path d="M177.9 219.2 185.2 219.1 185.4 226.9 178.1 227.1z" fill="#704993"/>
<path d="M185.2 219.1 192.5 218.9 192.7 226.7 185.4 226.9z" fill="#6b4695"/>
<path d="M192.5 218.9 199.8 218.7 200 226.5 192.7 226.7z" fill="#664496"/>
<path d="M199.8 218.7 207.1 218.5 207.3 226.3 200 226.5z" fill="#614298"/>
<path d="M207.1 218.5 214.4 218.3 214.6 226.2 207.3 226.3z" fill="#5b3f9a"/>
<path d="M214.4 218.3 221.7 218.2 221.9 226 214.6 226.2z" fill="#573e9b"/>
<path d="M221.7 218.2 229 218 229.2 225.8 221.9 226z" fill="#523d9b"/>
<path d="M229 218 236.3 217.8 236.5 225.6 229.2 225.8z" fill="#4c3b9c"/>
<path d="M236.3 217.8 243.6 217.6 243.8 225.5 236.5 225.6z" fill="#463a9d"/>
<path d="M243.6 217.6 250.9 217.5 251.1 225.3 243.8 225.5z" fill="#43399d"/>
<path d="M250.9 217.5 258.2 217.3 258.4 225.1 251.1 225.3z" fill="#463a9d"/>
<path d="M258.2 217.3 265.5 217.1 265.7 224.9 258.4 225.1z" fill="#4c3b9c"/>
<path d="M265.5 217.1 272.8 216.9 273 224.7 265.7 224.9z" fill="#5d4099"/>
<path d="M272.8 216.9 280.1 216.7 280.3 224.6 273 224.7z" fill="#6b4695"/>
<path d="M280.1 216.7 287.4 216.6 287.6 224.4 280.3 224.6z" fill="#754b92"/>
<path d="M287.4 216.6 294.7 216.4 294.9 224.2 287.6 224.4z" fill="#80508e"/>
<path d="M294.7 216.4 302 216.2 302.2 224 294.9 224.2z" fill="#84518d"/>
<path d="M302 216.2 309.3 216 309.5 223.9 302.2 224z" fill="#89538c"/>
<path d="M309.3 216 316.6 215.9 316.8 223.7 309.5 223.9z" fill="#9c5887"/>
<path d="M331.2 215.5 338.5 215.3 338.7 223.2 331.4 223.3z" fill="#e07460"/>
<path d="M338.5 215.3 345.8 215.2 345.9 223 338.7 223.2z" fill="#ec7c55"/>
<path d="M134.4 228.1 141.6 227.9 141.9 235.8 134.6 235.9z" fill="#d97066"/>
<path d="M141.6 227.9 148.9 227.8 149.1 235.6 141.9 235.8z" fill="#d97066"/>
<path d="M192.7 226.7 200 226.5 200.2 234.3 192.9 234.5z" fill="#664497"/>
<path d="M200 226.5 207.3 226.3 207.5 234.2 200.2 234.3z" fill="#5f4199"/>
<path d="M207.3 226.3 214.6 226.2 214.8 234 207.5 234.2z" fill="#573e9b"/>
<path d="M214.6 226.2 221.9 226 222.1 233.8 214.8 234z" fill="#523d9b"/>
<path d="M221.9 226 229.2 225.8 229.4 233.6 222.1 233.8z" fill="#4d3c9c"/>
<path d="M229.2 225.8 236.5 225.6 236.7 233.5 229.4 233.6z" fill="#473a9d"/>
<path d="M236.5 225.6 243.8 225.5 244 233.3 236.7 233.5z" fill="#3f389d"/>
<path d="M243.8 225.5 251.1 225.3 251.3 233.1 244 233.3z" fill="#3f389d"/>
<path d="M251.1 225.3 258.4 225.1 258.6 232.9 251.3 233.1z" fill="#473a9c"/>
<path d="M258.4 225.1 265.7 224.9 265.9 232.8 258.6 232.9z" fill="#503c9b"/>
<path d="M265.7 224.9 273 224.7 273.2 232.6 265.9 232.8z" fill="#5e4099"/>
<path d="M273 224.7 280.3 224.6 280.4 232.4 273.2 232.6z" fill="#694595"/>
<path d="M280.3 224.6 287.6 224.4 287.7 232.2 280.4 232.4z" fill="#724a92"/>
<path d="M287.6 224.4 294.9 224.2 295 232 287.7 232.2z" fill="#7c4e8f"/>
<path d="M294.9 224.2 302.2 224 302.3 231.9 295 232z" fill="#7c4e8f"/>
<path d="M302.2 224 309.5 223.9 309.6 231.7 302.3 231.9z" fill="#7b4e90"/>
<path d="M309.5 223.9 316.8 223.7 316.9 231.5 309.6 231.7z" fill="#91558a"/>
<path d="M316.8 223.7 324.1 223.5 324.2 231.3 316.9 231.5z" fill="#b05f7f"/>
<path d="M324.1 223.5 331.4 223.3 331.5 231.2 324.2 231.3z" fill="#c66675"/>
<path d="M331.4 223.3 338.7 223.2 338.8 231 331.5 231.2z" fill="#d16c6d"/>
<path d="M134.6 235.9 141.9 235.8 142.1 243.6 134.8 243.8z" fill="#d46d6a"/>
<path d="M200.2 234.3 207.5 234.2 207.7 242 200.4 242.2z" fill="#5d4099"/>
<path d="M207.5 234.2 214.8 234 215 241.8 207.7 242z" fill="#523d9b"/>
<path d="M214.8 234 222.1 233.8 222.3 241.6 215 241.8z" fill="#4d3c9c"/>
<path d="M222.1 233.8 229.4 233.6 229.6 241.5 222.3 241.6z" fill="#493a9c"/>
<path d="M229.4 233.6 236.7 233.5 236.9 241.3 229.6 241.5z" fill="#41399d"/>
<path d="M236.7 233.5 244 233.3 244.1 241.1 236.9 241.3z" fill="#38369e"/>
<path d="M244 233.3 251.3 233.1 251.4 240.9 244.1 241.1z" fill="#3b379e"/>
<path d="M251.3 233.1 258.6 232.9 258.7 240.8 251.4 240.9z" fill="#483a9c"/>
<path d="M258.6 232.9 265.9 232.8 266 240.6 258.7 240.8z" fill="#553d9b"/>
<path d="M265.9 232.8 273.2 232.6 273.3 240.4 266 240.6z" fill="#5f4199"/>
<path d="M273.2 232.6 280.4 232.4 280.6 240.2 273.3 240.4z" fill="#674596"/>
<path d="M280.4 232.4 287.7 232.2 287.9 240 280.6 240.2z" fill="#704993"/>
<path d="M287.7 232.2 295 232 295.2 239.9 287.9 240z" fill="#784d90"/>
<path d="M295 232 302.3 231.9 302.5 239.7 295.2 239.9z" fill="#744a92"/>
<path d="M302.3 231.9 309.6 231.7 309.8 239.5 302.5 239.7z" fill="#6e4894"/>
<path d="M309.6 231.7 316.9 231.5 317.1 239.3 309.8 239.5z" fill="#87528c"/>
<path d="M316.9 231.5 324.2 231.3 324.4 239.2 317.1 239.3z" fill="#ab5d82"/>
<path d="M324.2 231.3 331.5 231.2 331.7 239 324.4 239.2z" fill="#bc637a"/>
<path d="M134.8 243.8 142.1 243.6 142.3 251.4 135 251.6z" fill="#cb6872"/>
<path d="M207.7 242 215 241.8 215.2 249.6 207.9 249.8z" fill="#4f3c9b"/>
<path d="M215 241.8 222.3 241.6 222.5 249.5 215.2 249.6z" fill="#4a3b9c"/>
<path d="M222.3 241.6 229.6 241.5 229.7 249.3 222.5 249.5z" fill="#463a9d"/>
<path d="M229.6 241.5 236.9 241.3 237 249.1 229.7 249.3z" fill="#3f389d"/>
<path d="M236.9 241.3 244.1 241.1 244.3 248.9 237 249.1z" fill="#37369e"/>
<path d="M244.1 241.1 251.4 240.9 251.6 248.8 244.3 248.9z" fill="#3a379e"/>
<path d="M251.4 240.9 258.7 240.8 258.9 248.6 251.6 248.8z" fill="#473a9c"/>
<path d="M258.7 240.8 266 240.6 266.2 248.4 258.9 248.6z" fill="#523d9b"/>
<path d="M266 240.6 273.3 240.4 273.5 248.2 266.2 248.4z" fill="#5b3f9a"/>
<path d="M273.3 240.4 280.6 240.2 280.8 248 273.5 248.2z" fill="#614298"/>
<path d="M280.6 240.2 287.9 240 288.1 247.9 280.8 248z" fill="#624298"/>
<path d="M287.9 240 295.2 239.9 295.4 247.7 288.1 247.9z" fill="#624298"/>
<path d="M295.2 239.9 302.5 239.7 302.6 247.5 295.4 247.7z" fill="#5d4099"/>
<path d="M302.5 239.7 309.8 239.5 309.9 247.3 302.6 247.5z" fill="#573e9b"/>
<path d="M309.8 239.5 317.1 239.3 317.2 247.2 309.9 247.3z" fill="#684596"/>
<path d="M317.1 239.3 324.4 239.2 324.5 247 317.2 247.2z" fill="#80508e"/>
<path d="M324.4 239.2 331.7 239 331.8 246.8 324.5 247z" fill="#935689"/>
<path d="M135 251.6 142.3 251.4 142.5 259.2 135.2 259.4z" fill="#c46676"/>
<path d="M215.2 249.6 222.5 249.5 222.6 257.3 215.3 257.5z" fill="#493b9c"/>
<path d="M222.5 249.5 229.7 249.3 229.9 257.1 222.6 257.3z" fill="#44399d"/>
<path d="M229.7 249.3 237 249.1 237.2 256.9 229.9 257.1z" fill="#3e389e"/>
<path d="M237 249.1 244.3 248.9 244.5 256.8 237.2 256.9z" fill="#37369e"/>
<path d="M244.3 248.9 251.6 248.8 251.8 256.6 244.5 256.8z" fill="#3a379e"/>
<path d="M251.6 248.8 258.9 248.6 259.1 256.4 251.8 256.6z" fill="#453a9d"/>
<path d="M258.9 248.6 266.2 248.4 266.4 256.2 259.1 256.4z" fill="#4f3c9b"/>
<path d="M266.2 248.4 273.5 248.2 273.7 256 266.4 256.2z" fill="#563e9b"/>
<path d="M273.5 248.2 280.8 248 280.9 255.9 273.7 256z" fill="#5a3f9a"/>
<path d="M280.8 248 288.1 247.9 288.2 255.7 280.9 255.9z" fill="#4e3c9c"/>
<path d="M288.1 247.9 295.4 247.7 295.5 255.5 288.2 255.7z" fill="#44399d"/>
<path d="M295.4 247.7 302.6 247.5 302.8 255.3 295.5 255.5z" fill="#3d389e"/>
<path d="M302.6 247.5 309.9 247.3 310.1 255.2 302.8 255.3z" fill="#37369e"/>
<path d="M309.9 247.3 317.2 247.2 317.4 255 310.1 255.2z" fill="#3c379e"/>
<path d="M317.2 247.2 324.5 247 324.7 254.8 317.4 255z" fill="#453a9d"/>
<path d="M120.6 259.8 127.9 259.6 128.1 267.4 120.8 267.6z" fill="#dd7263"/>
<path d="M127.9 259.6 135.2 259.4 135.4 267.2 128.1 267.4z" fill="#dc7264"/>
<path d="M171.6 258.5 178.9 258.3 179.1 266.2 171.8 266.3z" fill="#80508e"/>
<path d="M200.8 257.8 208.1 257.6 208.2 265.5 201 265.6z" fill="#694596"/>
<path d="M222.6 257.3 229.9 257.1 230.1 264.9 222.8 265.1z" fill="#4d3c9c"/>
<path d="M244.5 256.8 251.8 256.6 252 264.4 244.7 264.6z" fill="#3b379e"/>
<path d="M251.8 256.6 259.1 256.4 259.2 264.2 252 264.4z" fill="#3f389d"/>
<path d="M259.1 256.4 266.4 256.2 266.5 264 259.2 264.2z" fill="#40389d"/>
<path d="M266.4 256.2 273.7 256 273.8 263.9 266.5 264z" fill="#3c379e"/>
<path d="M273.7 256 280.9 255.9 281.1 263.7 273.8 263.9z" fill="#38369e"/>
<path d="M280.9 255.9 288.2 255.7 288.4 263.5 281.1 263.7z" fill="#33359f"/>
<path d="M288.2 255.7 295.5 255.5 295.7 263.3 288.4 263.5z" fill="#2e34a0"/>
<path d="M295.5 255.5 302.8 255.3 303 263.2 295.7 263.3z" fill="#28339c"/>
<path d="M302.8 255.3 310.1 255.2 310.3 263 303 263.2z" fill="#243295"/>
<path d="M310.1 255.2 317.4 255 317.5 262.8 310.3 263z" fill="#223292"/>
<path d="M106.2 267.9 113.5 267.8 113.7 275.6 106.5 275.8z" fill="#e3755e"/>
<path d="M113.5 267.8 120.8 267.6 121 275.4 113.7 275.6z" fill="#e07460"/>
<path d="M120.8 267.6 128.1 267.4 128.3 275.2 121 275.4z" fill="#df7361"/>
<path d="M128.1 267.4 135.4 267.2 135.6 275.1 128.3 275.2z" fill="#de7362"/>
<path d="M201 265.6 208.2 265.5 208.4 273.3 201.1 273.5z" fill="#754b92"/>
<path d="M222.8 265.1 230.1 264.9 230.3 272.8 223 272.9z" fill="#563e9b"/>
<path d="M230.1 264.9 237.4 264.8 237.6 272.6 230.3 272.8z" fill="#4a3b9c"/>
<path d="M244.7 264.6 252 264.4 252.1 272.2 244.9 272.4z" fill="#3b379e"/>
<path d="M252 264.4 259.2 264.2 259.4 272.1 252.1 272.2z" fill="#37369e"/>
<path d="M259.2 264.2 266.5 264 266.7 271.9 259.4 272.1z" fill="#2f349f"/>
<path d="M266.5 264 273.8 263.9 274 271.7 266.7 271.9z" fill="#233294"/>
<path d="M273.8 263.9 281.1 263.7 281.3 271.5 274 271.7z" fill="#1d3288"/>
<path d="M281.1 263.7 288.4 263.5 288.6 271.3 281.3 271.5z" fill="#1f328c"/>
<path d="M288.4 263.5 295.7 263.3 295.8 271.2 288.6 271.3z" fill="#21328f"/>
<path d="M106.5 275.8 113.7 275.6 114 283.4 106.7 283.6z" fill="#e97959"/>
<path d="M113.7 275.6 121 275.4 121.2 283.2 114 283.4z" fill="#e6775b"/>
<path d="M121 275.4 128.3 275.2 128.5 283.1 121.2 283.2z" fill="#e3765e"/>
<path d="M128.3 275.2 135.6 275.1 135.8 282.9 128.5 283.1z" fill="#e07461"/>
<path d="M135.6 275.1 142.9 274.9 143.1 282.7 135.8 282.9z" fill="#c86774"/>
<path d="M193.9 273.6 201.1 273.5 201.3 281.3 194.1 281.5z" fill="#664496"/>
<path d="M201.1 273.5 208.4 273.3 208.6 281.1 201.3 281.3z" fill="#6a4695"/>
<path d="M223 272.9 230.3 272.8 230.5 280.6 223.2 280.8z" fill="#563e9b"/>
<path d="M230.3 272.8 237.6 272.6 237.7 280.4 230.5 280.6z" fill="#4e3c9c"/>
<path d="M237.6 272.6 244.9 272.4 245 280.2 237.7 280.4z" fill="#473a9c"/>
<path d="M244.9 272.4 252.1 272.2 252.3 280.1 245 280.2z" fill="#3e389e"/>
<path d="M252.1 272.2 259.4 272.1 259.6 279.9 252.3 280.1z" fill="#35369f"/>
<path d="M259.4 272.1 266.7 271.9 266.9 279.7 259.6 279.9z" fill="#29339e"/>
<path d="M266.7 271.9 274 271.7 274.2 279.5 266.9 279.7z" fill="#1e328b"/>
<path d="M274 271.7 281.3 271.5 281.4 279.3 274.2 279.5z" fill="#16317c"/>
<path d="M281.3 271.5 288.6 271.3 288.7 279.2 281.4 279.3z" fill="#16317c"/>
<path d="M106.7 283.6 114 283.4 114.2 291.2 106.9 291.4z" fill="#ec7b56"/>
<path d="M114 283.4 121.2 283.2 121.4 291.1 114.2 291.2z" fill="#e97959"/>
<path d="M121.2 283.2 128.5 283.1 128.7 290.9 121.4 291.1z" fill="#e4765d"/>
<path d="M128.5 283.1 135.8 282.9 136 290.7 128.7 290.9z" fill="#df7461"/>
<path d="M135.8 282.9 143.1 282.7 143.3 290.5 136 290.7z" fill="#c96873"/>
<path d="M143.1 282.7 150.4 282.5 150.6 290.3 143.3 290.5z" fill="#b05f7f"/>
<path d="M201.3 281.3 208.6 281.1 208.8 288.9 201.5 289.1z" fill="#5f4199"/>
<path d="M223.2 280.8 230.5 280.6 230.6 288.4 223.4 288.6z" fill="#573e9a"/>
<path d="M230.5 280.6 237.7 280.4 237.9 288.2 230.6 288.4z" fill="#523d9b"/>
<path d="M237.7 280.4 245 280.2 245.2 288.1 237.9 288.2z" fill="#4d3c9c"/>
<path d="M245 280.2 252.3 280.1 252.5 287.9 245.2 288.1z" fill="#42399d"/>
<path d="M252.3 280.1 259.6 279.9 259.8 287.7 252.5 287.9z" fill="#33359f"/>
<path d="M259.6 279.9 266.9 279.7 267 287.5 259.8 287.7z" fill="#263398"/>
<path d="M266.9 279.7 274.2 279.5 274.3 287.3 267 287.5z" fill="#1b3185"/>
<path d="M274.2 279.5 281.4 279.3 281.6 287.2 274.3 287.3z" fill="#133175"/>
<path d="M281.4 279.3 288.7 279.2 288.9 287 281.6 287.2z" fill="#0f306f"/>
<path d="M106.9 291.4 114.2 291.2 114.4 299.1 107.1 299.2z" fill="#e97959"/>
<path d="M114.2 291.2 121.4 291.1 121.7 298.9 114.4 299.1z" fill="#e5775c"/>
<path d="M121.4 291.1 128.7 290.9 128.9 298.7 121.7 298.9z" fill="#e07460"/>
<path d="M128.7 290.9 136 290.7 136.2 298.5 128.9 298.7z" fill="#da7166"/>
<path d="M136 290.7 143.3 290.5 143.5 298.3 136.2 298.5z" fill="#c66675"/>
<path d="M143.3 290.5 150.6 290.3 150.8 298.2 143.5 298.3z" fill="#af5f80"/>
<path d="M150.6 290.3 157.8 290.2 158 298 150.8 298.2z" fill="#9a5887"/>
<path d="M165.1 290 172.4 289.8 172.6 297.6 165.3 297.8z" fill="#764b91"/>
<path d="M194.2 289.3 201.5 289.1 201.7 296.9 194.4 297.1z" fill="#5c409a"/>
<path d="M201.5 289.1 208.8 288.9 209 296.8 201.7 296.9z" fill="#604198"/>
<path d="M216.1 288.8 223.4 288.6 223.5 296.4 216.3 296.6z" fill="#604199"/>
<path d="M223.4 288.6 230.6 288.4 230.8 296.2 223.5 296.4z" fill="#5b3f9a"/>
<path d="M230.6 288.4 237.9 288.2 238.1 296.1 230.8 296.2z" fill="#563e9b"/>
<path d="M237.9 288.2 245.2 288.1 245.4 295.9 238.1 296.1z" fill="#503c9b"/>
<path d="M259.8 287.7 267 287.5 267.2 295.3 259.9 295.5z" fill="#27339a"/>
<path d="M267 287.5 274.3 287.3 274.5 295.2 267.2 295.3z" fill="#1d3288"/>
<path d="M274.3 287.3 281.6 287.2 281.8 295 274.5 295.2z" fill="#16317b"/>
<path d="M281.6 287.2 288.9 287 289 294.8 281.8 295z" fill="#153179"/>
<path d="M288.9 287 296.2 286.8 296.3 294.6 289 294.8z" fill="#143177"/>
<path d="M296.2 286.8 303.4 286.6 303.6 294.5 296.3 294.6z" fill="#16317c"/>
<path d="M107.1 299.2 114.4 299.1 114.6 306.9 107.3 307.1z" fill="#e6775c"/>
<path d="M114.4 299.1 121.7 298.9 121.9 306.7 114.6 306.9z" fill="#e2755f"/>
<path d="M121.7 298.9 128.9 298.7 129.1 306.5 121.9 306.7z" fill="#db7164"/>
<path d="M128.9 298.7 136.2 298.5 136.4 306.3 129.1 306.5z" fill="#d46d6b"/>
<path d="M136.2 298.5 143.5 298.3 143.7 306.2 136.4 306.3z" fill="#c16577"/>
<path d="M143.5 298.3 150.8 298.2 151 306 143.7 306.2z" fill="#ad5e81"/>
<path d="M150.8 298.2 158 298 158.2 305.8 151 306z" fill="#9a5888"/>
<path d="M158 298 165.3 297.8 165.5 305.6 158.2 305.8z" fill="#86528c"/>
<path d="M165.3 297.8 172.6 297.6 172.8 305.5 165.5 305.6z" fill="#754b92"/>
<path d="M172.6 297.6 179.9 297.5 180.1 305.3 172.8 305.5z" fill="#644397"/>
<path d="M179.9 297.5 187.2 297.3 187.3 305.1 180.1 305.3z" fill="#5b3f9a"/>
<path d="M187.2 297.3 194.4 297.1 194.6 304.9 187.3 305.1z" fill="#5b3f9a"/>
<path d="M194.4 297.1 201.7 296.9 201.9 304.8 194.6 304.9z" fill="#5d409a"/>
<path d="M201.7 296.9 209 296.8 209.2 304.6 201.9 304.8z" fill="#624298"/>
<path d="M209 296.8 216.3 296.6 216.5 304.4 209.2 304.6z" fill="#664497"/>
<path d="M216.3 296.6 223.5 296.4 223.7 304.2 216.5 304.4z" fill="#624298"/>
<path d="M223.5 296.4 230.8 296.2 231 304.1 223.7 304.2z" fill="#5f4199"/>
<path d="M230.8 296.2 238.1 296.1 238.3 303.9 231 304.1z" fill="#593f9a"/>
<path d="M238.1 296.1 245.4 295.9 245.6 303.7 238.3 303.9z" fill="#533d9b"/>
<path d="M245.4 295.9 252.7 295.7 252.8 303.5 245.6 303.7z" fill="#463a9d"/>
<path d="M252.7 295.7 259.9 295.5 260.1 303.3 252.8 303.5z" fill="#36369f"/>
<path d="M259.9 295.5 267.2 295.3 267.4 303.2 260.1 303.3z" fill="#28339d"/>
<path d="M267.2 295.3 274.5 295.2 274.7 303 267.4 303.2z" fill="#20328e"/>
<path d="M274.5 295.2 281.8 295 281.9 302.8 274.7 303z" fill="#1b3185"/>
<path d="M281.8 295 289 294.8 289.2 302.6 281.9 302.8z" fill="#1e328a"/>
<path d="M289 294.8 296.3 294.6 296.5 302.5 289.2 302.6z" fill="#20328e"/>
<path d="M296.3 294.6 303.6 294.5 303.8 302.3 296.5 302.5z" fill="#21328f"/>
<path d="M303.6 294.5 310.9 294.3 311 302.1 303.8 302.3z" fill="#213290"/>
<path d="M310.9 294.3 318.2 294.1 318.3 301.9 311 302.1z" fill="#1f328c"/>
<path d="M318.2 294.1 325.4 293.9 325.6 301.8 318.3 301.9z" fill="#1d3288"/>
<path d="M325.4 293.9 332.7 293.8 332.9 301.6 325.6 301.8z" fill="#17317e"/>
<path d="M107.3 307.1 114.6 306.9 114.8 314.7 107.5 314.9z" fill="#e2755e"/>
<path d="M114.6 306.9 121.9 306.7 122.1 314.5 114.8 314.7z" fill="#dd7363"/>
<path d="M121.9 306.7 129.1 306.5 129.3 314.3 122.1 314.5z" fill="#d46d6b"/>
<path d="M129.1 306.5 136.4 306.3 136.6 314.2 129.3 314.3z" fill="#ca6873"/>
<path d="M136.4 306.3 143.7 306.2 143.9 314 136.6 314.2z" fill="#b9627b"/>
<path d="M143.7 306.2 151 306 151.2 313.8 143.9 314z" fill="#a95d83"/>
<path d="M151 306 158.2 305.8 158.4 313.6 151.2 313.8z" fill="#985788"/>
<path d="M158.2 305.8 165.5 305.6 165.7 313.5 158.4 313.6z" fill="#88538c"/>
<path d="M165.5 305.6 172.8 305.5 173 313.3 165.7 313.5z" fill="#7a4d90"/>
<path d="M172.8 305.5 180.1 305.3 180.3 313.1 173 313.3z" fill="#6d4794"/>
<path d="M180.1 305.3 187.3 305.1 187.5 312.9 180.3 313.1z" fill="#654497"/>
<path d="M187.3 305.1 194.6 304.9 194.8 312.8 187.5 312.9z" fill="#624298"/>
<path d="M201.9 304.8 209.2 304.6 209.4 312.4 202.1 312.6z" fill="#634397"/>
<path d="M209.2 304.6 216.5 304.4 216.6 312.2 209.4 312.4z" fill="#644397"/>
<path d="M216.5 304.4 223.7 304.2 223.9 312.1 216.6 312.2z" fill="#614298"/>
<path d="M223.7 304.2 231 304.1 231.2 311.9 223.9 312.1z" fill="#5d4099"/>
<path d="M231 304.1 238.3 303.9 238.5 311.7 231.2 311.9z" fill="#583e9a"/>
<path d="M238.3 303.9 245.6 303.7 245.7 311.5 238.5 311.7z" fill="#533d9b"/>
<path d="M252.8 303.5 260.1 303.3 260.3 311.2 253 311.3z" fill="#38369e"/>
<path d="M260.1 303.3 267.4 303.2 267.6 311 260.3 311.2z" fill="#2b33a0"/>
<path d="M267.4 303.2 274.7 303 274.8 310.8 267.6 311z" fill="#233294"/>
<path d="M274.7 303 281.9 302.8 282.1 310.6 274.8 310.8z" fill="#20328d"/>
<path d="M281.9 302.8 289.2 302.6 289.4 310.5 282.1 310.6z" fill="#233294"/>
<path d="M289.2 302.6 296.5 302.5 296.6 310.3 289.4 310.5z" fill="#263399"/>
<path d="M296.5 302.5 303.8 302.3 303.9 310.1 296.6 310.3z" fill="#263399"/>
<path d="M303.8 302.3 311 302.1 311.2 309.9 303.9 310.1z" fill="#263399"/>
<path d="M311 302.1 318.3 301.9 318.5 309.8 311.2 309.9z" fill="#233294"/>
<path d="M318.3 301.9 325.6 301.8 325.7 309.6 318.5 309.8z" fill="#20328e"/>
<path d="M325.6 301.8 332.9 301.6 333 309.4 325.7 309.6z" fill="#193180"/>
<path d="M332.9 301.6 340.1 301.4 340.3 309.2 333 309.4z" fill="#103070"/>
<path d="M107.5 314.9 114.8 314.7 115 322.5 107.7 322.7z" fill="#dd7263"/>
<path d="M114.8 314.7 122.1 314.5 122.3 322.3 115 322.5z" fill="#d76f68"/>
<path d="M122.1 314.5 129.3 314.3 129.6 322.2 122.3 322.3z" fill="#cc6972"/>
<path d="M129.3 314.3 136.6 314.2 136.8 322 129.6 322.2z" fill="#bf6478"/>
<path d="M136.6 314.2 143.9 314 144.1 321.8 136.8 322z" fill="#b1607f"/>
<path d="M143.9 314 151.2 313.8 151.4 321.6 144.1 321.8z" fill="#a45b85"/>
<path d="M151.2 313.8 158.4 313.6 158.6 321.5 151.4 321.6z" fill="#975788"/>
<path d="M158.4 313.6 165.7 313.5 165.9 321.3 158.6 321.5z" fill="#8a538b"/>
<path d="M165.7 313.5 173 313.3 173.2 321.1 165.9 321.3z" fill="#80508e"/>
<path d="M173 313.3 180.3 313.1 180.5 320.9 173.2 321.1z" fill="#764b91"/>
<path d="M180.3 313.1 187.5 312.9 187.7 320.8 180.5 320.9z" fill="#6e4894"/>
<path d="M187.5 312.9 194.8 312.8 195 320.6 187.7 320.8z" fill="#694695"/>
<path d="M194.8 312.8 202.1 312.6 202.3 320.4 195 320.6z" fill="#654497"/>
<path d="M202.1 312.6 209.4 312.4 209.5 320.2 202.3 320.4z" fill="#644397"/>
<path d="M223.9 312.1 231.2 311.9 231.4 319.7 224.1 319.9z" fill="#5b3f9a"/>
<path d="M238.5 311.7 245.7 311.5 245.9 319.4 238.6 319.5z" fill="#523d9b"/>
<path d="M245.7 311.5 253 311.3 253.2 319.2 245.9 319.4z" fill="#473a9c"/>
<path d="M253 311.3 260.3 311.2 260.4 319 253.2 319.2z" fill="#39379e"/>
<path d="M260.3 311.2 267.6 311 267.7 318.8 260.4 319z" fill="#2e34a0"/>
<path d="M267.6 311 274.8 310.8 275 318.6 267.7 318.8z" fill="#27339a"/>
<path d="M274.8 310.8 282.1 310.6 282.3 318.5 275 318.6z" fill="#243295"/>
<path d="M282.1 310.6 289.4 310.5 289.5 318.3 282.3 318.5z" fill="#27339a"/>
<path d="M289.4 310.5 296.6 310.3 296.8 318.1 289.5 318.3z" fill="#29339e"/>
<path d="M296.6 310.3 303.9 310.1 304.1 317.9 296.8 318.1z" fill="#29339e"/>
<path d="M303.9 310.1 311.2 309.9 311.4 317.8 304.1 317.9z" fill="#29339e"/>
<path d="M311.2 309.9 318.5 309.8 318.6 317.6 311.4 317.8z" fill="#253397"/>
<path d="M318.5 309.8 325.7 309.6 325.9 317.4 318.6 317.6z" fill="#223291"/>
<path d="M325.7 309.6 333 309.4 333.2 317.2 325.9 317.4z" fill="#183180"/>
<path d="M333 309.4 340.3 309.2 340.4 317.1 333.2 317.2z" fill="#0d306c"/>
<path d="M115 322.5 122.3 322.3 122.5 330.2 115.2 330.3z" fill="#ca6873"/>
<path d="M122.3 322.3 129.6 322.2 129.8 330 122.5 330.2z" fill="#bf6478"/>
<path d="M129.6 322.2 136.8 322 137 329.8 129.8 330z" fill="#b3607e"/>
<path d="M136.8 322 144.1 321.8 144.3 329.6 137 329.8z" fill="#a85c83"/>
<path d="M144.1 321.8 151.4 321.6 151.6 329.5 144.3 329.6z" fill="#9c5987"/>
<path d="M151.4 321.6 158.6 321.5 158.8 329.3 151.6 329.5z" fill="#91558a"/>
<path d="M158.6 321.5 165.9 321.3 166.1 329.1 158.8 329.3z" fill="#86528c"/>
<path d="M165.9 321.3 173.2 321.1 173.4 328.9 166.1 329.1z" fill="#7d4f8f"/>
<path d="M173.2 321.1 180.5 320.9 180.7 328.8 173.4 328.9z" fill="#754b92"/>
<path d="M180.5 320.9 187.7 320.8 187.9 328.6 180.7 328.8z" fill="#6d4794"/>
<path d="M187.7 320.8 195 320.6 195.2 328.4 187.9 328.6z" fill="#654497"/>
<path d="M195 320.6 202.3 320.4 202.5 328.2 195.2 328.4z" fill="#614298"/>
<path d="M202.3 320.4 209.5 320.2 209.7 328.1 202.5 328.2z" fill="#604198"/>
<path d="M238.6 319.5 245.9 319.4 246.1 327.2 238.8 327.4z" fill="#523d9b"/>
<path d="M253.2 319.2 260.4 319 260.6 326.8 253.3 327z" fill="#3c389e"/>
<path d="M260.4 319 267.7 318.8 267.9 326.6 260.6 326.8z" fill="#32359f"/>
<path d="M275 318.6 282.3 318.5 282.4 326.3 275.2 326.5z" fill="#27339b"/>
<path d="M282.3 318.5 289.5 318.3 289.7 326.1 282.4 326.3z" fill="#29339e"/>
<path d="M289.5 318.3 296.8 318.1 297 325.9 289.7 326.1z" fill="#2b33a0"/>
<path d="M296.8 318.1 304.1 317.9 304.2 325.8 297 325.9z" fill="#2b33a0"/>
<path d="M304.1 317.9 311.4 317.8 311.5 325.6 304.2 325.8z" fill="#2a33a0"/>
<path d="M311.4 317.8 318.6 317.6 318.8 325.4 311.5 325.6z" fill="#263399"/>
<path d="M318.6 317.6 325.9 317.4 326 325.2 318.8 325.4z" fill="#223292"/>
<path d="M325.9 317.4 333.2 317.2 333.3 325.1 326 325.2z" fill="#17317d"/>
<path d="M333.2 317.2 340.4 317.1 340.6 324.9 333.3 325.1z" fill="#0c2e64"/>
<path d="M108 330.5 115.2 330.3 115.4 338.2 108.2 338.3z" fill="#c56675"/>
<path d="M115.2 330.3 122.5 330.2 122.7 338 115.4 338.2z" fill="#bd6479"/>
<path d="M122.5 330.2 129.8 330 130 337.8 122.7 338z" fill="#b3607e"/>
<path d="M129.8 330 137 329.8 137.2 337.6 130 337.8z" fill="#a95d83"/>
<path d="M137 329.8 144.3 329.6 144.5 337.5 137.2 337.6z" fill="#9f5986"/>
<path d="M144.3 329.6 151.6 329.5 151.8 337.3 144.5 337.5z" fill="#955689"/>
<path d="M151.6 329.5 158.8 329.3 159 337.1 151.8 337.3z" fill="#8c548b"/>
<path d="M158.8 329.3 166.1 329.1 166.3 336.9 159 337.1z" fill="#82518e"/>
<path d="M166.1 329.1 173.4 328.9 173.6 336.8 166.3 336.9z" fill="#7b4e90"/>
<path d="M173.4 328.9 180.7 328.8 180.8 336.6 173.6 336.8z" fill="#744a92"/>
<path d="M180.7 328.8 187.9 328.6 188.1 336.4 180.8 336.6z" fill="#6b4695"/>
<path d="M187.9 328.6 195.2 328.4 195.4 336.2 188.1 336.4z" fill="#614298"/>
<path d="M195.2 328.4 202.5 328.2 202.7 336.1 195.4 336.2z" fill="#5c3f9a"/>
<path d="M202.5 328.2 209.7 328.1 209.9 335.9 202.7 336.1z" fill="#5c3f9a"/>
<path d="M209.7 328.1 217 327.9 217.2 335.7 209.9 335.9z" fill="#5b3f9a"/>
<path d="M231.5 327.5 238.8 327.4 239 335.2 231.7 335.4z" fill="#573e9b"/>
<path d="M238.8 327.4 246.1 327.2 246.3 335 239 335.2z" fill="#523d9b"/>
<path d="M246.1 327.2 253.3 327 253.5 334.8 246.3 335z" fill="#4a3b9c"/>
<path d="M260.6 326.8 267.9 326.6 268.1 334.5 260.8 334.6z" fill="#37369e"/>
<path d="M267.9 326.6 275.2 326.5 275.3 334.3 268.1 334.5z" fill="#2e34a0"/>
<path d="M275.2 326.5 282.4 326.3 282.6 334.1 275.3 334.3z" fill="#2a339f"/>
<path d="M282.4 326.3 289.7 326.1 289.9 333.9 282.6 334.1z" fill="#2c33a0"/>
<path d="M289.7 326.1 297 325.9 297.1 333.8 289.9 333.9z" fill="#2e34a0"/>
<path d="M297 325.9 304.2 325.8 304.4 333.6 297.1 333.8z" fill="#2c33a0"/>
<path d="M304.2 325.8 311.5 325.6 311.7 333.4 304.4 333.6z" fill="#2a33a0"/>
<path d="M311.5 325.6 318.8 325.4 318.9 333.2 311.7 333.4z" fill="#263399"/>
<path d="M318.8 325.4 326 325.2 326.2 333.1 318.9 333.2z" fill="#223292"/>
<path d="M326 325.2 333.3 325.1 333.5 332.9 326.2 333.1z" fill="#143178"/>
<path d="M333.3 325.1 340.6 324.9 340.7 332.7 333.5 332.9z" fill="#0a2c58"/>
<path d="M340.6 324.9 347.9 324.7 348 332.5 340.7 332.7z" fill="#082849"/>
<path d="M108.2 338.3 115.4 338.2 115.7 346 108.4 346.2z" fill="#be6479"/>
<path d="M115.4 338.2 122.7 338 122.9 345.8 115.7 346z" fill="#b5617d"/>
<path d="M122.7 338 130 337.8 130.2 345.6 122.9 345.8z" fill="#ab5d82"/>
<path d="M130 337.8 137.2 337.6 137.4 345.5 130.2 345.6z" fill="#a15a86"/>
<path d="M137.2 337.6 144.5 337.5 144.7 345.3 137.4 345.5z" fill="#975788"/>
<path d="M144.5 337.5 151.8 337.3 152 345.1 144.7 345.3z" fill="#8e548b"/>
<path d="M151.8 337.3 159 337.1 159.2 344.9 152 345.1z" fill="#86528d"/>
<path d="M159 337.1 166.3 336.9 166.5 344.8 159.2 344.9z" fill="#7e4f8f"/>
<path d="M195.4 336.2 202.7 336.1 202.8 343.9 195.6 344.1z" fill="#493b9c"/>
<path d="M202.7 336.1 209.9 335.9 210.1 343.7 202.8 343.9z" fill="#513d9b"/>
<path d="M209.9 335.9 217.2 335.7 217.4 343.5 210.1 343.7z" fill="#573e9a"/>
<path d="M217.2 335.7 224.5 335.5 224.6 343.4 217.4 343.5z" fill="#593f9a"/>
<path d="M224.5 335.5 231.7 335.4 231.9 343.2 224.6 343.4z" fill="#5b3f9a"/>
<path d="M231.7 335.4 239 335.2 239.2 343 231.9 343.2z" fill="#553d9b"/>
<path d="M253.5 334.8 260.8 334.6 261 342.5 253.7 342.6z" fill="#3f389d"/>
<path d="M260.8 334.6 268.1 334.5 268.2 342.3 261 342.5z" fill="#37369e"/>
<path d="M268.1 334.5 275.3 334.3 275.5 342.1 268.2 342.3z" fill="#2f349f"/>
<path d="M275.3 334.3 282.6 334.1 282.8 341.9 275.5 342.1z" fill="#2b33a0"/>
<path d="M282.6 334.1 289.9 333.9 290 341.8 282.8 341.9z" fill="#2d34a0"/>
<path d="M289.9 333.9 297.1 333.8 297.3 341.6 290 341.8z" fill="#2e349f"/>
<path d="M297.1 333.8 304.4 333.6 304.6 341.4 297.3 341.6z" fill="#2c34a0"/>
<path d="M304.4 333.6 311.7 333.4 311.8 341.2 304.6 341.4z" fill="#2a33a0"/>
<path d="M311.7 333.4 318.9 333.2 319.1 341.1 311.8 341.2z" fill="#263398"/>
<path d="M318.9 333.2 326.2 333.1 326.4 340.9 319.1 341.1z" fill="#213290"/>
<path d="M326.2 333.1 333.5 332.9 333.6 340.7 326.4 340.9z" fill="#113073"/>
<path d="M333.5 332.9 340.7 332.7 340.9 340.5 333.6 340.7z" fill="#092a4f"/>
<path d="M340.7 332.7 348 332.5 348.1 340.4 340.9 340.5z" fill="#062640"/>
<path d="M108.4 346.2 115.7 346 115.9 353.8 108.6 354z" fill="#b7617c"/>
<path d="M115.7 346 122.9 345.8 123.1 353.6 115.9 353.8z" fill="#ae5f80"/>
<path d="M122.9 345.8 130.2 345.6 130.4 353.5 123.1 353.6z" fill="#a45b85"/>
<path d="M130.2 345.6 137.4 345.5 137.7 353.3 130.4 353.5z" fill="#9a5887"/>
<path d="M137.4 345.5 144.7 345.3 144.9 353.1 137.7 353.3z" fill="#90558a"/>
<path d="M195.6 344.1 202.8 343.9 203 351.7 195.8 351.9z" fill="#35369f"/>
<path d="M202.8 343.9 210.1 343.7 210.3 351.5 203 351.7z" fill="#463a9d"/>
<path d="M210.1 343.7 217.4 343.5 217.6 351.4 210.3 351.5z" fill="#533d9b"/>
<path d="M217.4 343.5 224.6 343.4 224.8 351.2 217.6 351.4z" fill="#573e9a"/>
<path d="M224.6 343.4 231.9 343.2 232.1 351 224.8 351.2z" fill="#5b3f9a"/>
<path d="M253.7 342.6 261 342.5 261.1 350.3 253.9 350.5z" fill="#3c379e"/>
<path d="M261 342.5 268.2 342.3 268.4 350.1 261.1 350.3z" fill="#35369f"/>
<path d="M268.2 342.3 275.5 342.1 275.7 349.9 268.4 350.1z" fill="#2e34a0"/>
<path d="M275.5 342.1 282.8 341.9 282.9 349.8 275.7 349.9z" fill="#2b33a0"/>
<path d="M282.8 341.9 290 341.8 290.2 349.6 282.9 349.8z" fill="#2d34a0"/>
<path d="M290 341.8 297.3 341.6 297.5 349.4 290.2 349.6z" fill="#2e349f"/>
<path d="M297.3 341.6 304.6 341.4 304.7 349.2 297.5 349.4z" fill="#2c34a0"/>
<path d="M304.6 341.4 311.8 341.2 312 349.1 304.7 349.2z" fill="#2a33a0"/>
<path d="M311.8 341.2 319.1 341.1 319.2 348.9 312 349.1z" fill="#253297"/>
<path d="M319.1 341.1 326.4 340.9 326.5 348.7 319.2 348.9z" fill="#20328e"/>
<path d="M326.4 340.9 333.6 340.7 333.8 348.5 326.5 348.7z" fill="#0f306f"/>
<path d="M333.6 340.7 340.9 340.5 341 348.4 333.8 348.5z" fill="#08284a"/>
<path d="M340.9 340.5 348.1 340.4 348.3 348.2 341 348.4z" fill="#05253b"/>
</g>
<path d="M406.4 108.1 L408.9 108.9 L410.8 112.2 L409.7 116.2 L406.4 121.1 L404 127.6 L402.4 134.9 L400.7 143.9 L399.4 152 L398.3 160.1 L397.5 165 L396.2 168.1 L395.1 176.3 L394.7 182.8 L396.7 188.4 L399.9 194.9 L402.4 200.6 L402 206.3 L400.4 211.2 L401.6 214.4 L404 213.6 L406.4 208.7 L408.5 207.9 L410.8 210.4 L411.3 214.4 L410.5 218.3 L406.4 221.5 L402.7 225.6 L401.6 229.6 L403.2 235.3 L401.6 241.8 L402.4 246.7 L405.6 249.9 L410.5 251.1 L414.6 249.9 L418.6 245.1 L421 241 L430 238 L430 360 L348.8 360 L348.8 346.5 L348.4 337.5 L347 328 L344 322 L341 315 L339 309 L336 304 L333 300 L329 296 L324 293.5 L319.6 293 L321.2 289 L322 284 L320.8 280 L320.3 274.3 L318.7 268.6 L317.5 263.7 L318.7 260.5 L322.7 257.6 L326.8 252.4 L330.9 246.5 L332.8 242 L333.4 236.8 L333.9 232.3 L334.9 228.5 L336.4 225.5 L339 222.5 L342.8 218.8 L345 215 L346.2 210.4 L348.7 201.4 L351.7 192.5 L354.4 184.4 L356.9 176.3 L358.8 168.1 L360.4 160.5 L362.6 156.9 L365 150.4 L368.2 143 L371.5 136.6 L374.7 130.9 L378 126 L382 121.1 L386.1 117 L391 113.8 L397.5 111.4 L404 109Z" fill="none" stroke="#7f7f7f" stroke-width="1.4" stroke-linejoin="round"/>
<path d="M100.9 19.5L110.5 371.6M146.8 18.4L155.9 370.5M192.8 17.3L201.3 369.4M238.7 16.2L246.6 368.3M284.7 15L292 367.2M330.6 13.9L337.4 366.1M376.6 12.8L382.7 365M422.5 11.7L428.1 363.9M83.1 39.5L432 31M84.2 78.6L432.6 70.2M85.3 117.8L433.2 109.3M86.4 156.9L433.8 148.4M87.5 196L434.4 187.6M88.5 235.1L435.1 226.7M89.6 274.2L435.7 265.8M90.7 313.3L436.3 304.9M91.8 352.4L436.9 344.1" fill="none" stroke="#b0b0b0" stroke-width="1.4"/>
<path d="M103.6 59.9h1.2v1.2h-1.2zM111.0 59.8h1.2v1.2h-1.2zM118.3 59.6h1.2v1.2h-1.2zM125.6 59.4h1.2v1.2h-1.2zM133.0 59.2h1.2v1.2h-1.2zM140.3 59.1h1.2v1.2h-1.2zM147.7 58.9h1.2v1.2h-1.2zM184.4 58.0h1.2v1.2h-1.2zM191.7 57.8h1.2v1.2h-1.2zM199.0 57.6h1.2v1.2h-1.2zM206.4 57.4h1.2v1.2h-1.2zM213.7 57.3h1.2v1.2h-1.2zM221.1 57.1h1.2v1.2h-1.2zM228.4 56.9h1.2v1.2h-1.2zM235.8 56.7h1.2v1.2h-1.2zM243.1 56.5h1.2v1.2h-1.2zM250.4 56.4h1.2v1.2h-1.2zM257.8 56.2h1.2v1.2h-1.2zM265.1 56.0h1.2v1.2h-1.2zM323.8 54.6h1.2v1.2h-1.2zM331.2 54.4h1.2v1.2h-1.2zM338.5 54.2h1.2v1.2h-1.2zM345.9 54.0h1.2v1.2h-1.2zM353.2 53.9h1.2v1.2h-1.2zM103.8 67.8h1.2v1.2h-1.2zM111.2 67.6h1.2v1.2h-1.2zM118.5 67.4h1.2v1.2h-1.2zM125.8 67.2h1.2v1.2h-1.2zM133.2 67.1h1.2v1.2h-1.2zM140.5 66.9h1.2v1.2h-1.2zM191.9 65.6h1.2v1.2h-1.2zM199.2 65.4h1.2v1.2h-1.2zM206.6 65.3h1.2v1.2h-1.2zM213.9 65.1h1.2v1.2h-1.2zM221.3 64.9h1.2v1.2h-1.2zM228.6 64.7h1.2v1.2h-1.2zM235.9 64.6h1.2v1.2h-1.2zM243.3 64.4h1.2v1.2h-1.2zM250.6 64.2h1.2v1.2h-1.2zM257.9 64.0h1.2v1.2h-1.2zM265.3 63.8h1.2v1.2h-1.2zM272.6 63.7h1.2v1.2h-1.2zM353.3 61.7h1.2v1.2h-1.2zM360.7 61.5h1.2v1.2h-1.2zM368.0 61.3h1.2v1.2h-1.2zM375.4 61.2h1.2v1.2h-1.2zM104.0 75.6h1.2v1.2h-1.2zM111.4 75.4h1.2v1.2h-1.2zM118.7 75.2h1.2v1.2h-1.2zM133.4 74.9h1.2v1.2h-1.2zM199.4 73.3h1.2v1.2h-1.2zM206.8 73.1h1.2v1.2h-1.2zM214.1 72.9h1.2v1.2h-1.2zM221.4 72.7h1.2v1.2h-1.2zM228.8 72.6h1.2v1.2h-1.2zM236.1 72.4h1.2v1.2h-1.2zM243.4 72.2h1.2v1.2h-1.2zM250.8 72.0h1.2v1.2h-1.2zM258.1 71.8h1.2v1.2h-1.2zM324.1 70.2h1.2v1.2h-1.2zM331.5 70.1h1.2v1.2h-1.2zM338.8 69.9h1.2v1.2h-1.2zM346.2 69.7h1.2v1.2h-1.2zM353.5 69.5h1.2v1.2h-1.2zM360.8 69.3h1.2v1.2h-1.2zM368.2 69.2h1.2v1.2h-1.2zM133.6 82.7h1.2v1.2h-1.2zM199.6 81.1h1.2v1.2h-1.2zM206.9 80.9h1.2v1.2h-1.2zM214.3 80.7h1.2v1.2h-1.2zM221.6 80.6h1.2v1.2h-1.2zM228.9 80.4h1.2v1.2h-1.2zM236.3 80.2h1.2v1.2h-1.2zM199.8 88.9h1.2v1.2h-1.2zM207.1 88.7h1.2v1.2h-1.2zM214.5 88.6h1.2v1.2h-1.2zM221.8 88.4h1.2v1.2h-1.2zM229.1 88.2h1.2v1.2h-1.2zM375.8 84.6h1.2v1.2h-1.2zM192.7 96.9h1.2v1.2h-1.2zM200.0 96.7h1.2v1.2h-1.2zM207.3 96.6h1.2v1.2h-1.2zM214.6 96.4h1.2v1.2h-1.2zM222.0 96.2h1.2v1.2h-1.2zM229.3 96.0h1.2v1.2h-1.2zM375.9 92.5h1.2v1.2h-1.2zM383.2 92.3h1.2v1.2h-1.2zM412.6 91.6h1.2v1.2h-1.2zM141.5 106.0h1.2v1.2h-1.2zM148.9 105.8h1.2v1.2h-1.2zM156.2 105.6h1.2v1.2h-1.2zM185.5 104.9h1.2v1.2h-1.2zM192.8 104.7h1.2v1.2h-1.2zM200.2 104.6h1.2v1.2h-1.2zM207.5 104.4h1.2v1.2h-1.2zM214.8 104.2h1.2v1.2h-1.2zM222.2 104.0h1.2v1.2h-1.2zM229.5 103.8h1.2v1.2h-1.2zM236.8 103.7h1.2v1.2h-1.2zM266.1 103.0h1.2v1.2h-1.2zM273.5 102.8h1.2v1.2h-1.2zM280.8 102.6h1.2v1.2h-1.2zM288.1 102.4h1.2v1.2h-1.2zM295.4 102.2h1.2v1.2h-1.2zM302.8 102.1h1.2v1.2h-1.2zM376.0 100.3h1.2v1.2h-1.2zM383.4 100.1h1.2v1.2h-1.2zM390.7 99.9h1.2v1.2h-1.2zM405.4 99.6h1.2v1.2h-1.2zM412.7 99.4h1.2v1.2h-1.2zM134.4 114.0h1.2v1.2h-1.2zM141.7 113.8h1.2v1.2h-1.2zM149.1 113.6h1.2v1.2h-1.2zM156.4 113.5h1.2v1.2h-1.2zM163.7 113.3h1.2v1.2h-1.2zM171.1 113.1h1.2v1.2h-1.2zM178.4 112.9h1.2v1.2h-1.2zM185.7 112.7h1.2v1.2h-1.2zM193.0 112.6h1.2v1.2h-1.2zM200.4 112.4h1.2v1.2h-1.2zM207.7 112.2h1.2v1.2h-1.2zM215.0 112.0h1.2v1.2h-1.2zM222.3 111.9h1.2v1.2h-1.2zM229.7 111.7h1.2v1.2h-1.2zM237.0 111.5h1.2v1.2h-1.2zM244.3 111.3h1.2v1.2h-1.2zM266.3 110.8h1.2v1.2h-1.2zM273.6 110.6h1.2v1.2h-1.2zM280.9 110.4h1.2v1.2h-1.2zM288.3 110.2h1.2v1.2h-1.2zM295.6 110.1h1.2v1.2h-1.2zM302.9 109.9h1.2v1.2h-1.2zM310.3 109.7h1.2v1.2h-1.2zM317.6 109.5h1.2v1.2h-1.2zM324.9 109.4h1.2v1.2h-1.2zM376.2 108.1h1.2v1.2h-1.2zM383.5 107.9h1.2v1.2h-1.2zM390.8 107.8h1.2v1.2h-1.2zM398.2 107.6h1.2v1.2h-1.2zM412.8 107.2h1.2v1.2h-1.2zM105.3 122.5h1.2v1.2h-1.2zM112.7 122.3h1.2v1.2h-1.2zM120.0 122.2h1.2v1.2h-1.2zM149.3 121.5h1.2v1.2h-1.2zM156.6 121.3h1.2v1.2h-1.2zM163.9 121.1h1.2v1.2h-1.2zM171.2 120.9h1.2v1.2h-1.2zM178.6 120.7h1.2v1.2h-1.2zM185.9 120.6h1.2v1.2h-1.2zM193.2 120.4h1.2v1.2h-1.2zM200.5 120.2h1.2v1.2h-1.2zM207.9 120.0h1.2v1.2h-1.2zM215.2 119.9h1.2v1.2h-1.2zM222.5 119.7h1.2v1.2h-1.2zM229.8 119.5h1.2v1.2h-1.2zM237.2 119.3h1.2v1.2h-1.2zM317.7 117.4h1.2v1.2h-1.2zM325.1 117.2h1.2v1.2h-1.2zM339.7 116.8h1.2v1.2h-1.2zM376.3 115.9h1.2v1.2h-1.2zM383.6 115.8h1.2v1.2h-1.2zM105.5 130.4h1.2v1.2h-1.2zM112.9 130.2h1.2v1.2h-1.2zM120.2 130.0h1.2v1.2h-1.2zM149.5 129.3h1.2v1.2h-1.2zM156.8 129.1h1.2v1.2h-1.2zM178.8 128.6h1.2v1.2h-1.2zM186.1 128.4h1.2v1.2h-1.2zM193.4 128.2h1.2v1.2h-1.2zM200.7 128.0h1.2v1.2h-1.2zM208.1 127.9h1.2v1.2h-1.2zM215.4 127.7h1.2v1.2h-1.2zM222.7 127.5h1.2v1.2h-1.2zM230.0 127.3h1.2v1.2h-1.2zM317.9 125.2h1.2v1.2h-1.2zM325.2 125.0h1.2v1.2h-1.2zM332.5 124.8h1.2v1.2h-1.2zM339.9 124.6h1.2v1.2h-1.2zM354.5 124.3h1.2v1.2h-1.2zM361.8 124.1h1.2v1.2h-1.2zM369.1 123.9h1.2v1.2h-1.2zM376.5 123.8h1.2v1.2h-1.2zM413.1 122.9h1.2v1.2h-1.2zM105.8 138.2h1.2v1.2h-1.2zM113.1 138.0h1.2v1.2h-1.2zM120.4 137.8h1.2v1.2h-1.2zM127.7 137.6h1.2v1.2h-1.2zM135.0 137.5h1.2v1.2h-1.2zM142.4 137.3h1.2v1.2h-1.2zM149.7 137.1h1.2v1.2h-1.2zM179.0 136.4h1.2v1.2h-1.2zM186.3 136.2h1.2v1.2h-1.2zM193.6 136.0h1.2v1.2h-1.2zM200.9 135.9h1.2v1.2h-1.2zM208.2 135.7h1.2v1.2h-1.2zM215.6 135.5h1.2v1.2h-1.2zM222.9 135.3h1.2v1.2h-1.2zM230.2 135.1h1.2v1.2h-1.2zM310.7 133.2h1.2v1.2h-1.2zM318.0 133.0h1.2v1.2h-1.2zM332.7 132.7h1.2v1.2h-1.2zM347.3 132.3h1.2v1.2h-1.2zM354.6 132.1h1.2v1.2h-1.2zM362.0 131.9h1.2v1.2h-1.2zM369.3 131.8h1.2v1.2h-1.2zM413.2 130.7h1.2v1.2h-1.2zM106.0 146.0h1.2v1.2h-1.2zM113.3 145.8h1.2v1.2h-1.2zM120.6 145.6h1.2v1.2h-1.2zM142.6 145.1h1.2v1.2h-1.2zM149.9 144.9h1.2v1.2h-1.2zM157.2 144.8h1.2v1.2h-1.2zM179.2 144.2h1.2v1.2h-1.2zM186.5 144.0h1.2v1.2h-1.2zM193.8 143.9h1.2v1.2h-1.2zM201.1 143.7h1.2v1.2h-1.2zM230.4 143.0h1.2v1.2h-1.2zM303.6 141.2h1.2v1.2h-1.2zM332.8 140.5h1.2v1.2h-1.2zM347.5 140.1h1.2v1.2h-1.2zM354.8 139.9h1.2v1.2h-1.2zM362.1 139.8h1.2v1.2h-1.2zM413.3 138.5h1.2v1.2h-1.2zM106.2 153.8h1.2v1.2h-1.2zM113.5 153.6h1.2v1.2h-1.2zM120.8 153.5h1.2v1.2h-1.2zM157.4 152.6h1.2v1.2h-1.2zM164.7 152.4h1.2v1.2h-1.2zM172.0 152.2h1.2v1.2h-1.2zM179.3 152.0h1.2v1.2h-1.2zM186.7 151.9h1.2v1.2h-1.2zM194.0 151.7h1.2v1.2h-1.2zM201.3 151.5h1.2v1.2h-1.2zM230.6 150.8h1.2v1.2h-1.2zM237.9 150.6h1.2v1.2h-1.2zM296.4 149.2h1.2v1.2h-1.2zM303.7 149.0h1.2v1.2h-1.2zM333.0 148.3h1.2v1.2h-1.2zM340.3 148.1h1.2v1.2h-1.2zM347.6 147.9h1.2v1.2h-1.2zM354.9 147.8h1.2v1.2h-1.2zM362.2 147.6h1.2v1.2h-1.2zM406.1 146.5h1.2v1.2h-1.2zM413.5 146.3h1.2v1.2h-1.2zM106.4 161.6h1.2v1.2h-1.2zM113.7 161.5h1.2v1.2h-1.2zM121.0 161.3h1.2v1.2h-1.2zM150.3 160.6h1.2v1.2h-1.2zM157.6 160.4h1.2v1.2h-1.2zM164.9 160.2h1.2v1.2h-1.2zM172.2 160.0h1.2v1.2h-1.2zM179.5 159.9h1.2v1.2h-1.2zM186.9 159.7h1.2v1.2h-1.2zM194.2 159.5h1.2v1.2h-1.2zM201.5 159.3h1.2v1.2h-1.2zM208.8 159.2h1.2v1.2h-1.2zM223.4 158.8h1.2v1.2h-1.2zM230.7 158.6h1.2v1.2h-1.2zM238.0 158.4h1.2v1.2h-1.2zM267.3 157.7h1.2v1.2h-1.2zM274.6 157.6h1.2v1.2h-1.2zM281.9 157.4h1.2v1.2h-1.2zM289.2 157.2h1.2v1.2h-1.2zM296.6 157.0h1.2v1.2h-1.2zM303.9 156.8h1.2v1.2h-1.2zM311.2 156.7h1.2v1.2h-1.2zM318.5 156.5h1.2v1.2h-1.2zM347.8 155.8h1.2v1.2h-1.2zM355.1 155.6h1.2v1.2h-1.2zM362.4 155.4h1.2v1.2h-1.2zM406.3 154.4h1.2v1.2h-1.2zM413.6 154.2h1.2v1.2h-1.2zM106.6 169.5h1.2v1.2h-1.2zM113.9 169.3h1.2v1.2h-1.2zM121.2 169.1h1.2v1.2h-1.2zM143.2 168.6h1.2v1.2h-1.2zM150.5 168.4h1.2v1.2h-1.2zM157.8 168.2h1.2v1.2h-1.2zM165.1 168.0h1.2v1.2h-1.2zM172.4 167.9h1.2v1.2h-1.2zM179.7 167.7h1.2v1.2h-1.2zM187.0 167.5h1.2v1.2h-1.2zM194.4 167.3h1.2v1.2h-1.2zM201.7 167.2h1.2v1.2h-1.2zM209.0 167.0h1.2v1.2h-1.2zM216.3 166.8h1.2v1.2h-1.2zM223.6 166.6h1.2v1.2h-1.2zM230.9 166.4h1.2v1.2h-1.2zM238.2 166.3h1.2v1.2h-1.2zM245.5 166.1h1.2v1.2h-1.2zM260.2 165.7h1.2v1.2h-1.2zM267.5 165.6h1.2v1.2h-1.2zM274.8 165.4h1.2v1.2h-1.2zM282.1 165.2h1.2v1.2h-1.2zM289.4 165.0h1.2v1.2h-1.2zM296.7 164.8h1.2v1.2h-1.2zM304.0 164.7h1.2v1.2h-1.2zM311.3 164.5h1.2v1.2h-1.2zM318.7 164.3h1.2v1.2h-1.2zM326.0 164.1h1.2v1.2h-1.2zM347.9 163.6h1.2v1.2h-1.2zM355.2 163.4h1.2v1.2h-1.2zM406.4 162.2h1.2v1.2h-1.2zM413.7 162.0h1.2v1.2h-1.2zM106.8 177.3h1.2v1.2h-1.2zM114.1 177.1h1.2v1.2h-1.2zM143.4 176.4h1.2v1.2h-1.2zM150.7 176.2h1.2v1.2h-1.2zM158.0 176.0h1.2v1.2h-1.2zM165.3 175.9h1.2v1.2h-1.2zM172.6 175.7h1.2v1.2h-1.2zM179.9 175.5h1.2v1.2h-1.2zM187.2 175.3h1.2v1.2h-1.2zM194.5 175.2h1.2v1.2h-1.2zM201.9 175.0h1.2v1.2h-1.2zM209.2 174.8h1.2v1.2h-1.2zM216.5 174.6h1.2v1.2h-1.2zM223.8 174.4h1.2v1.2h-1.2zM231.1 174.3h1.2v1.2h-1.2zM238.4 174.1h1.2v1.2h-1.2zM245.7 173.9h1.2v1.2h-1.2zM253.0 173.7h1.2v1.2h-1.2zM260.3 173.6h1.2v1.2h-1.2zM267.6 173.4h1.2v1.2h-1.2zM274.9 173.2h1.2v1.2h-1.2zM282.3 173.0h1.2v1.2h-1.2zM289.6 172.8h1.2v1.2h-1.2zM296.9 172.7h1.2v1.2h-1.2zM304.2 172.5h1.2v1.2h-1.2zM311.5 172.3h1.2v1.2h-1.2zM318.8 172.1h1.2v1.2h-1.2zM326.1 172.0h1.2v1.2h-1.2zM340.7 171.6h1.2v1.2h-1.2zM348.0 171.4h1.2v1.2h-1.2zM355.4 171.2h1.2v1.2h-1.2zM406.5 170.0h1.2v1.2h-1.2zM413.8 169.8h1.2v1.2h-1.2zM107.0 185.1h1.2v1.2h-1.2zM114.3 184.9h1.2v1.2h-1.2zM150.9 184.0h1.2v1.2h-1.2zM158.2 183.9h1.2v1.2h-1.2zM165.5 183.7h1.2v1.2h-1.2zM172.8 183.5h1.2v1.2h-1.2zM180.1 183.3h1.2v1.2h-1.2zM187.4 183.2h1.2v1.2h-1.2zM194.7 183.0h1.2v1.2h-1.2zM202.0 182.8h1.2v1.2h-1.2zM209.3 182.6h1.2v1.2h-1.2zM216.7 182.4h1.2v1.2h-1.2zM224.0 182.3h1.2v1.2h-1.2zM231.3 182.1h1.2v1.2h-1.2zM253.2 181.6h1.2v1.2h-1.2zM260.5 181.4h1.2v1.2h-1.2zM267.8 181.2h1.2v1.2h-1.2zM275.1 181.0h1.2v1.2h-1.2zM282.4 180.8h1.2v1.2h-1.2zM289.7 180.7h1.2v1.2h-1.2zM297.0 180.5h1.2v1.2h-1.2zM304.3 180.3h1.2v1.2h-1.2zM311.7 180.1h1.2v1.2h-1.2zM319.0 180.0h1.2v1.2h-1.2zM340.9 179.4h1.2v1.2h-1.2zM348.2 179.2h1.2v1.2h-1.2zM406.7 177.8h1.2v1.2h-1.2zM414.0 177.7h1.2v1.2h-1.2zM107.3 192.9h1.2v1.2h-1.2zM114.6 192.8h1.2v1.2h-1.2zM158.4 191.7h1.2v1.2h-1.2zM165.7 191.5h1.2v1.2h-1.2zM173.0 191.3h1.2v1.2h-1.2zM180.3 191.2h1.2v1.2h-1.2zM202.2 190.6h1.2v1.2h-1.2zM209.5 190.4h1.2v1.2h-1.2zM216.8 190.3h1.2v1.2h-1.2zM224.1 190.1h1.2v1.2h-1.2zM231.4 189.9h1.2v1.2h-1.2zM260.7 189.2h1.2v1.2h-1.2zM268.0 189.0h1.2v1.2h-1.2zM275.3 188.9h1.2v1.2h-1.2zM282.6 188.7h1.2v1.2h-1.2zM289.9 188.5h1.2v1.2h-1.2zM297.2 188.3h1.2v1.2h-1.2zM304.5 188.1h1.2v1.2h-1.2zM341.0 187.3h1.2v1.2h-1.2zM348.3 187.1h1.2v1.2h-1.2zM399.5 185.8h1.2v1.2h-1.2zM406.8 185.7h1.2v1.2h-1.2zM414.1 185.5h1.2v1.2h-1.2zM107.5 200.8h1.2v1.2h-1.2zM114.8 200.6h1.2v1.2h-1.2zM165.9 199.3h1.2v1.2h-1.2zM173.2 199.2h1.2v1.2h-1.2zM180.5 199.0h1.2v1.2h-1.2zM195.1 198.6h1.2v1.2h-1.2zM202.4 198.4h1.2v1.2h-1.2zM209.7 198.3h1.2v1.2h-1.2zM217.0 198.1h1.2v1.2h-1.2zM224.3 197.9h1.2v1.2h-1.2zM231.6 197.7h1.2v1.2h-1.2zM238.9 197.6h1.2v1.2h-1.2zM246.2 197.4h1.2v1.2h-1.2zM290.1 196.3h1.2v1.2h-1.2zM297.4 196.1h1.2v1.2h-1.2zM312.0 195.8h1.2v1.2h-1.2zM333.9 195.3h1.2v1.2h-1.2zM341.2 195.1h1.2v1.2h-1.2zM406.9 193.5h1.2v1.2h-1.2zM414.2 193.3h1.2v1.2h-1.2zM107.7 208.6h1.2v1.2h-1.2zM115.0 208.4h1.2v1.2h-1.2zM166.1 207.2h1.2v1.2h-1.2zM202.6 206.3h1.2v1.2h-1.2zM209.9 206.1h1.2v1.2h-1.2zM217.2 205.9h1.2v1.2h-1.2zM224.5 205.7h1.2v1.2h-1.2zM231.8 205.6h1.2v1.2h-1.2zM239.1 205.4h1.2v1.2h-1.2zM290.2 204.1h1.2v1.2h-1.2zM297.5 204.0h1.2v1.2h-1.2zM334.0 203.1h1.2v1.2h-1.2zM341.3 202.9h1.2v1.2h-1.2zM107.9 216.4h1.2v1.2h-1.2zM217.4 213.7h1.2v1.2h-1.2zM224.7 213.6h1.2v1.2h-1.2zM232.0 213.4h1.2v1.2h-1.2zM239.3 213.2h1.2v1.2h-1.2zM334.2 210.9h1.2v1.2h-1.2zM341.5 210.7h1.2v1.2h-1.2zM224.9 221.4h1.2v1.2h-1.2zM232.2 221.2h1.2v1.2h-1.2zM239.5 221.0h1.2v1.2h-1.2zM246.8 220.9h1.2v1.2h-1.2zM275.9 220.1h1.2v1.2h-1.2zM305.1 219.4h1.2v1.2h-1.2zM312.4 219.3h1.2v1.2h-1.2zM334.3 218.7h1.2v1.2h-1.2zM341.6 218.6h1.2v1.2h-1.2zM137.5 231.3h1.2v1.2h-1.2zM144.8 231.2h1.2v1.2h-1.2zM195.9 229.9h1.2v1.2h-1.2zM203.2 229.7h1.2v1.2h-1.2zM225.0 229.2h1.2v1.2h-1.2zM232.3 229.0h1.2v1.2h-1.2zM239.6 228.9h1.2v1.2h-1.2zM246.9 228.7h1.2v1.2h-1.2zM254.2 228.5h1.2v1.2h-1.2zM276.1 228.0h1.2v1.2h-1.2zM305.3 227.3h1.2v1.2h-1.2zM312.6 227.1h1.2v1.2h-1.2zM319.9 226.9h1.2v1.2h-1.2zM327.2 226.7h1.2v1.2h-1.2zM334.5 226.6h1.2v1.2h-1.2zM137.7 239.2h1.2v1.2h-1.2zM203.3 237.6h1.2v1.2h-1.2zM210.6 237.4h1.2v1.2h-1.2zM217.9 237.2h1.2v1.2h-1.2zM225.2 237.0h1.2v1.2h-1.2zM232.5 236.9h1.2v1.2h-1.2zM239.8 236.7h1.2v1.2h-1.2zM247.1 236.5h1.2v1.2h-1.2zM254.4 236.3h1.2v1.2h-1.2zM261.7 236.2h1.2v1.2h-1.2zM269.0 236.0h1.2v1.2h-1.2zM276.3 235.8h1.2v1.2h-1.2zM283.6 235.6h1.2v1.2h-1.2zM305.5 235.1h1.2v1.2h-1.2zM312.7 234.9h1.2v1.2h-1.2zM320.0 234.7h1.2v1.2h-1.2zM327.3 234.6h1.2v1.2h-1.2zM137.9 247.0h1.2v1.2h-1.2zM210.8 245.2h1.2v1.2h-1.2zM218.1 245.0h1.2v1.2h-1.2zM240.0 244.5h1.2v1.2h-1.2zM247.3 244.3h1.2v1.2h-1.2zM254.6 244.2h1.2v1.2h-1.2zM261.9 244.0h1.2v1.2h-1.2zM269.2 243.8h1.2v1.2h-1.2zM276.4 243.6h1.2v1.2h-1.2zM291.0 243.3h1.2v1.2h-1.2zM305.6 242.9h1.2v1.2h-1.2zM312.9 242.7h1.2v1.2h-1.2zM320.2 242.6h1.2v1.2h-1.2zM327.5 242.4h1.2v1.2h-1.2zM138.1 254.8h1.2v1.2h-1.2zM218.3 252.9h1.2v1.2h-1.2zM240.2 252.3h1.2v1.2h-1.2zM262.0 251.8h1.2v1.2h-1.2zM269.3 251.6h1.2v1.2h-1.2zM276.6 251.4h1.2v1.2h-1.2zM291.2 251.1h1.2v1.2h-1.2zM298.5 250.9h1.2v1.2h-1.2zM305.8 250.7h1.2v1.2h-1.2zM313.1 250.6h1.2v1.2h-1.2zM320.3 250.4h1.2v1.2h-1.2zM123.7 263.0h1.2v1.2h-1.2zM131.0 262.8h1.2v1.2h-1.2zM174.8 261.7h1.2v1.2h-1.2zM203.9 261.0h1.2v1.2h-1.2zM225.8 260.5h1.2v1.2h-1.2zM262.2 259.6h1.2v1.2h-1.2zM269.5 259.4h1.2v1.2h-1.2zM276.8 259.3h1.2v1.2h-1.2zM284.1 259.1h1.2v1.2h-1.2zM291.4 258.9h1.2v1.2h-1.2zM298.6 258.7h1.2v1.2h-1.2zM305.9 258.6h1.2v1.2h-1.2zM313.2 258.4h1.2v1.2h-1.2zM109.4 271.2h1.2v1.2h-1.2zM116.7 271.0h1.2v1.2h-1.2zM124.0 270.8h1.2v1.2h-1.2zM131.2 270.6h1.2v1.2h-1.2zM204.1 268.9h1.2v1.2h-1.2zM226.0 268.3h1.2v1.2h-1.2zM233.2 268.2h1.2v1.2h-1.2zM262.4 267.5h1.2v1.2h-1.2zM269.7 267.3h1.2v1.2h-1.2zM276.9 267.1h1.2v1.2h-1.2zM284.2 266.9h1.2v1.2h-1.2zM291.5 266.7h1.2v1.2h-1.2zM109.6 279.0h1.2v1.2h-1.2zM116.9 278.8h1.2v1.2h-1.2zM124.2 278.6h1.2v1.2h-1.2zM131.5 278.5h1.2v1.2h-1.2zM138.7 278.3h1.2v1.2h-1.2zM197.0 276.9h1.2v1.2h-1.2zM204.3 276.7h1.2v1.2h-1.2zM226.1 276.2h1.2v1.2h-1.2zM233.4 276.0h1.2v1.2h-1.2zM240.7 275.8h1.2v1.2h-1.2zM255.3 275.5h1.2v1.2h-1.2zM262.5 275.3h1.2v1.2h-1.2zM269.8 275.1h1.2v1.2h-1.2zM277.1 274.9h1.2v1.2h-1.2zM284.4 274.7h1.2v1.2h-1.2zM109.8 286.8h1.2v1.2h-1.2zM117.1 286.6h1.2v1.2h-1.2zM124.4 286.5h1.2v1.2h-1.2zM131.7 286.3h1.2v1.2h-1.2zM138.9 286.1h1.2v1.2h-1.2zM146.2 285.9h1.2v1.2h-1.2zM204.5 284.5h1.2v1.2h-1.2zM226.3 284.0h1.2v1.2h-1.2zM233.6 283.8h1.2v1.2h-1.2zM240.9 283.6h1.2v1.2h-1.2zM248.2 283.5h1.2v1.2h-1.2zM255.4 283.3h1.2v1.2h-1.2zM262.7 283.1h1.2v1.2h-1.2zM270.0 282.9h1.2v1.2h-1.2zM277.3 282.7h1.2v1.2h-1.2zM284.6 282.6h1.2v1.2h-1.2zM110.0 294.6h1.2v1.2h-1.2zM124.6 294.3h1.2v1.2h-1.2zM131.9 294.1h1.2v1.2h-1.2zM139.1 293.9h1.2v1.2h-1.2zM146.4 293.7h1.2v1.2h-1.2zM153.7 293.6h1.2v1.2h-1.2zM168.3 293.2h1.2v1.2h-1.2zM197.4 292.5h1.2v1.2h-1.2zM204.7 292.3h1.2v1.2h-1.2zM219.2 292.0h1.2v1.2h-1.2zM226.5 291.8h1.2v1.2h-1.2zM233.8 291.6h1.2v1.2h-1.2zM241.1 291.5h1.2v1.2h-1.2zM292.0 290.2h1.2v1.2h-1.2zM299.3 290.0h1.2v1.2h-1.2zM139.4 301.7h1.2v1.2h-1.2zM146.6 301.6h1.2v1.2h-1.2zM153.9 301.4h1.2v1.2h-1.2zM161.2 301.2h1.2v1.2h-1.2zM168.5 301.0h1.2v1.2h-1.2zM175.7 300.9h1.2v1.2h-1.2zM183.0 300.7h1.2v1.2h-1.2zM190.3 300.5h1.2v1.2h-1.2zM197.6 300.3h1.2v1.2h-1.2zM204.8 300.2h1.2v1.2h-1.2zM212.1 300.0h1.2v1.2h-1.2zM219.4 299.8h1.2v1.2h-1.2zM226.7 299.6h1.2v1.2h-1.2zM234.0 299.5h1.2v1.2h-1.2zM241.2 299.3h1.2v1.2h-1.2zM248.5 299.1h1.2v1.2h-1.2zM255.8 298.9h1.2v1.2h-1.2zM263.1 298.7h1.2v1.2h-1.2zM277.6 298.4h1.2v1.2h-1.2zM284.9 298.2h1.2v1.2h-1.2zM292.2 298.0h1.2v1.2h-1.2zM299.4 297.9h1.2v1.2h-1.2zM306.7 297.7h1.2v1.2h-1.2zM314.0 297.5h1.2v1.2h-1.2zM321.3 297.3h1.2v1.2h-1.2zM328.5 297.2h1.2v1.2h-1.2zM132.3 309.7h1.2v1.2h-1.2zM139.6 309.6h1.2v1.2h-1.2zM146.8 309.4h1.2v1.2h-1.2zM154.1 309.2h1.2v1.2h-1.2zM161.4 309.0h1.2v1.2h-1.2zM168.7 308.9h1.2v1.2h-1.2zM175.9 308.7h1.2v1.2h-1.2zM183.2 308.5h1.2v1.2h-1.2zM190.5 308.3h1.2v1.2h-1.2zM205.0 308.0h1.2v1.2h-1.2zM212.3 307.8h1.2v1.2h-1.2zM219.6 307.6h1.2v1.2h-1.2zM226.9 307.5h1.2v1.2h-1.2zM234.1 307.3h1.2v1.2h-1.2zM241.4 307.1h1.2v1.2h-1.2zM256.0 306.7h1.2v1.2h-1.2zM263.2 306.6h1.2v1.2h-1.2zM270.5 306.4h1.2v1.2h-1.2zM277.8 306.2h1.2v1.2h-1.2zM285.1 306.0h1.2v1.2h-1.2zM292.3 305.9h1.2v1.2h-1.2zM299.6 305.7h1.2v1.2h-1.2zM306.9 305.5h1.2v1.2h-1.2zM314.2 305.3h1.2v1.2h-1.2zM321.4 305.2h1.2v1.2h-1.2zM328.7 305.0h1.2v1.2h-1.2zM336.0 304.8h1.2v1.2h-1.2zM110.7 318.1h1.2v1.2h-1.2zM117.9 317.9h1.2v1.2h-1.2zM125.2 317.7h1.2v1.2h-1.2zM132.5 317.6h1.2v1.2h-1.2zM139.8 317.4h1.2v1.2h-1.2zM147.0 317.2h1.2v1.2h-1.2zM154.3 317.0h1.2v1.2h-1.2zM161.6 316.9h1.2v1.2h-1.2zM168.9 316.7h1.2v1.2h-1.2zM176.1 316.5h1.2v1.2h-1.2zM183.4 316.3h1.2v1.2h-1.2zM190.7 316.2h1.2v1.2h-1.2zM197.9 316.0h1.2v1.2h-1.2zM205.2 315.8h1.2v1.2h-1.2zM227.0 315.3h1.2v1.2h-1.2zM241.6 314.9h1.2v1.2h-1.2zM248.9 314.7h1.2v1.2h-1.2zM256.1 314.6h1.2v1.2h-1.2zM263.4 314.4h1.2v1.2h-1.2zM270.7 314.2h1.2v1.2h-1.2zM277.9 314.0h1.2v1.2h-1.2zM285.2 313.9h1.2v1.2h-1.2zM292.5 313.7h1.2v1.2h-1.2zM299.8 313.5h1.2v1.2h-1.2zM307.0 313.3h1.2v1.2h-1.2zM314.3 313.2h1.2v1.2h-1.2zM321.6 313.0h1.2v1.2h-1.2zM328.9 312.8h1.2v1.2h-1.2zM336.1 312.6h1.2v1.2h-1.2zM118.2 325.7h1.2v1.2h-1.2zM125.4 325.6h1.2v1.2h-1.2zM132.7 325.4h1.2v1.2h-1.2zM140.0 325.2h1.2v1.2h-1.2zM147.2 325.0h1.2v1.2h-1.2zM154.5 324.9h1.2v1.2h-1.2zM161.8 324.7h1.2v1.2h-1.2zM169.1 324.5h1.2v1.2h-1.2zM176.3 324.3h1.2v1.2h-1.2zM183.6 324.2h1.2v1.2h-1.2zM190.9 324.0h1.2v1.2h-1.2zM198.1 323.8h1.2v1.2h-1.2zM205.4 323.6h1.2v1.2h-1.2zM241.8 322.8h1.2v1.2h-1.2zM256.3 322.4h1.2v1.2h-1.2zM263.6 322.2h1.2v1.2h-1.2zM278.1 321.9h1.2v1.2h-1.2zM285.4 321.7h1.2v1.2h-1.2zM292.7 321.5h1.2v1.2h-1.2zM329.0 320.6h1.2v1.2h-1.2zM336.3 320.5h1.2v1.2h-1.2zM111.1 333.7h1.2v1.2h-1.2zM118.4 333.6h1.2v1.2h-1.2zM125.6 333.4h1.2v1.2h-1.2zM132.9 333.2h1.2v1.2h-1.2zM140.2 333.0h1.2v1.2h-1.2zM147.4 332.9h1.2v1.2h-1.2zM154.7 332.7h1.2v1.2h-1.2zM162.0 332.5h1.2v1.2h-1.2zM169.2 332.3h1.2v1.2h-1.2zM176.5 332.2h1.2v1.2h-1.2zM183.8 332.0h1.2v1.2h-1.2zM191.1 331.8h1.2v1.2h-1.2zM198.3 331.6h1.2v1.2h-1.2zM205.6 331.5h1.2v1.2h-1.2zM212.9 331.3h1.2v1.2h-1.2zM234.7 330.8h1.2v1.2h-1.2zM241.9 330.6h1.2v1.2h-1.2zM249.2 330.4h1.2v1.2h-1.2zM263.7 330.0h1.2v1.2h-1.2zM271.0 329.9h1.2v1.2h-1.2zM278.3 329.7h1.2v1.2h-1.2zM285.5 329.5h1.2v1.2h-1.2zM336.4 328.3h1.2v1.2h-1.2zM343.7 328.1h1.2v1.2h-1.2zM111.3 341.6h1.2v1.2h-1.2zM118.6 341.4h1.2v1.2h-1.2zM125.8 341.2h1.2v1.2h-1.2zM133.1 341.0h1.2v1.2h-1.2zM140.4 340.9h1.2v1.2h-1.2zM147.6 340.7h1.2v1.2h-1.2zM154.9 340.5h1.2v1.2h-1.2zM162.2 340.3h1.2v1.2h-1.2zM198.5 339.5h1.2v1.2h-1.2zM205.8 339.3h1.2v1.2h-1.2zM213.0 339.1h1.2v1.2h-1.2zM220.3 338.9h1.2v1.2h-1.2zM227.6 338.8h1.2v1.2h-1.2zM234.8 338.6h1.2v1.2h-1.2zM256.6 338.0h1.2v1.2h-1.2zM263.9 337.9h1.2v1.2h-1.2zM271.2 337.7h1.2v1.2h-1.2zM278.4 337.5h1.2v1.2h-1.2zM285.7 337.3h1.2v1.2h-1.2zM336.6 336.1h1.2v1.2h-1.2zM343.8 335.9h1.2v1.2h-1.2zM111.5 349.4h1.2v1.2h-1.2zM118.8 349.2h1.2v1.2h-1.2zM126.1 349.0h1.2v1.2h-1.2zM133.3 348.9h1.2v1.2h-1.2zM140.6 348.7h1.2v1.2h-1.2zM198.7 347.3h1.2v1.2h-1.2zM206.0 347.1h1.2v1.2h-1.2zM213.2 346.9h1.2v1.2h-1.2zM220.5 346.8h1.2v1.2h-1.2zM227.8 346.6h1.2v1.2h-1.2zM256.8 345.9h1.2v1.2h-1.2zM264.1 345.7h1.2v1.2h-1.2zM271.3 345.5h1.2v1.2h-1.2zM278.6 345.3h1.2v1.2h-1.2zM285.9 345.2h1.2v1.2h-1.2zM293.1 345.0h1.2v1.2h-1.2zM300.4 344.8h1.2v1.2h-1.2zM307.7 344.6h1.2v1.2h-1.2zM314.9 344.5h1.2v1.2h-1.2zM322.2 344.3h1.2v1.2h-1.2zM329.5 344.1h1.2v1.2h-1.2zM336.7 343.9h1.2v1.2h-1.2zM344.0 343.8h1.2v1.2h-1.2z" fill="#4763b4" fill-opacity="0.6"/><path d="M155.6 60.5 156.0 59.4 156.3 59.5 156.0 58.2 154.9 59.0 155.2 59.1 154.8 60.3zM162.9 60.5 163.3 59.3 163.7 59.4 163.4 57.9 162.2 58.9 162.6 59.0 162.1 60.2zM170.2 60.4 170.7 59.1 171.0 59.2 170.8 57.7 169.6 58.7 169.9 58.8 169.4 60.1zM177.6 60.0 178.0 58.9 178.3 59.0 178.0 57.6 176.9 58.5 177.2 58.6 176.8 59.8zM272.4 57.7 273.4 56.7 273.6 57.0 274.0 55.5 272.5 55.9 272.8 56.1 271.8 57.1zM279.4 58.0 280.7 56.5 281.1 56.9 281.7 54.8 279.7 55.7 280.1 56.0 278.8 57.4zM286.5 58.2 288.1 56.3 288.5 56.7 289.3 54.2 287.0 55.4 287.4 55.8 285.9 57.7zM309.1 57.4 310.1 55.8 310.5 56.0 310.8 53.9 309.0 55.1 309.4 55.3 308.3 57.0zM317.1 56.6 317.5 55.5 317.8 55.6 317.5 54.3 316.4 55.1 316.7 55.2 316.3 56.3zM362.4 53.7 361.1 53.9 361.1 53.5 359.9 54.4 361.2 55.0 361.2 54.7 362.5 54.6zM370.5 53.6 368.5 53.7 368.5 53.2 366.5 54.2 368.5 55.0 368.5 54.5 370.5 54.5zM414.9 52.6 412.5 52.6 412.5 52.1 410.1 53.0 412.5 54.0 412.5 53.5 414.9 53.5zM148.4 68.8 148.9 67.4 149.2 67.6 149.0 66.0 147.7 67.0 148.1 67.2 147.6 68.5zM155.6 69.0 156.2 67.3 156.6 67.4 156.4 65.4 155.0 66.8 155.4 67.0 154.8 68.7zM162.8 69.0 163.5 67.1 164.0 67.3 163.9 65.0 162.3 66.6 162.7 66.8 162.0 68.8zM170.2 68.9 170.9 66.9 171.3 67.1 171.2 64.8 169.6 66.4 170.1 66.6 169.4 68.6zM177.6 68.5 178.2 66.7 178.6 66.9 178.5 64.8 177.0 66.3 177.4 66.4 176.8 68.2zM185.0 68.0 185.6 66.5 185.9 66.7 185.7 65.0 184.4 66.1 184.8 66.3 184.2 67.7zM279.6 63.3 280.2 64.3 279.9 64.5 281.2 65.1 281.2 63.7 280.9 63.9 280.3 62.8zM287.0 62.7 287.5 64.0 287.2 64.2 288.4 65.2 288.6 63.6 288.3 63.8 287.8 62.5zM294.4 62.3 294.8 63.8 294.4 63.9 295.6 65.3 296.0 63.5 295.6 63.6 295.3 62.1zM302.0 62.0 302.2 63.6 301.8 63.6 302.7 65.2 303.4 63.5 303.0 63.5 302.9 61.9zM309.8 61.8 309.5 63.3 309.1 63.2 309.7 64.9 310.7 63.5 310.3 63.4 310.6 61.9zM317.7 61.7 316.9 63.0 316.6 62.8 316.4 64.5 317.9 63.6 317.6 63.4 318.4 62.1zM325.5 61.5 324.3 62.7 324.0 62.4 323.4 64.2 325.2 63.6 324.9 63.3 326.1 62.2zM333.1 61.5 331.7 62.5 331.4 62.1 330.5 63.8 332.4 63.5 332.2 63.2 333.6 62.2zM340.3 61.5 339.0 62.3 338.8 62.0 338.0 63.5 339.7 63.3 339.5 63.0 340.8 62.2zM347.4 61.5 346.4 62.1 346.2 61.8 345.6 63.1 347.0 63.1 346.8 62.8 347.8 62.2zM384.7 61.2 383.3 61.2 383.3 60.8 381.9 61.6 383.3 62.4 383.3 62.0 384.7 62.0zM414.0 60.4 412.7 60.4 412.7 60.1 411.3 60.9 412.7 61.6 412.7 61.3 414.0 61.3zM141.2 76.6 141.7 75.5 142.0 75.6 141.9 74.2 140.6 75.0 140.9 75.1 140.4 76.3zM148.4 77.0 149.1 75.3 149.5 75.4 149.3 73.4 147.8 74.8 148.3 75.0 147.6 76.7zM155.6 77.3 156.4 75.1 156.9 75.3 156.8 72.7 155.1 74.6 155.6 74.8 154.8 77.0zM177.6 76.9 178.4 74.5 178.9 74.7 178.9 72.1 177.1 74.1 177.6 74.3 176.8 76.6zM185.1 76.2 185.7 74.4 186.2 74.5 186.0 72.4 184.5 73.9 185.0 74.1 184.3 75.9zM192.6 75.5 193.1 74.2 193.4 74.3 193.2 72.7 192.0 73.8 192.3 73.9 191.8 75.2zM264.8 72.1 265.9 72.6 265.7 72.9 267.1 72.8 266.4 71.6 266.2 71.9 265.1 71.4zM271.7 71.5 273.2 72.4 272.9 72.8 274.9 73.1 273.9 71.4 273.6 71.7 272.1 70.8zM279.0 71.0 280.4 72.2 280.2 72.6 282.1 73.1 281.3 71.2 281.0 71.6 279.6 70.4zM286.6 70.6 287.7 72.0 287.4 72.2 289.2 73.1 288.7 71.2 288.4 71.5 287.3 70.0zM294.1 70.1 295.0 71.8 294.6 72.0 296.4 73.2 296.2 71.1 295.8 71.3 294.8 69.7zM301.5 69.7 302.4 71.5 301.9 71.8 303.6 73.2 303.6 71.0 303.1 71.2 302.2 69.3zM308.9 69.6 309.7 71.4 309.3 71.5 310.8 72.9 310.9 70.8 310.5 71.0 309.7 69.3zM316.6 69.8 317.0 71.1 316.7 71.2 317.8 72.4 318.2 70.8 317.8 70.9 317.4 69.5zM385.3 69.0 383.4 69.0 383.4 68.5 381.6 69.4 383.4 70.3 383.4 69.8 385.3 69.8zM414.5 68.3 412.8 68.3 412.8 67.8 411.0 68.7 412.8 69.5 412.8 69.1 414.5 69.1zM103.5 83.7 104.7 84.4 104.5 84.7 106.0 84.7 105.2 83.4 105.1 83.6 104.0 83.0zM110.5 83.4 112.0 84.2 111.8 84.6 113.7 84.6 112.6 83.1 112.4 83.5 110.9 82.7zM117.8 83.4 119.4 84.0 119.2 84.4 121.1 84.3 119.9 82.9 119.7 83.3 118.1 82.6zM141.1 84.5 141.9 83.4 142.2 83.6 142.3 82.0 140.9 82.7 141.2 82.9 140.4 84.0zM148.5 84.9 149.3 83.1 149.7 83.3 149.7 81.1 148.0 82.6 148.5 82.8 147.7 84.6zM185.2 84.2 185.9 82.2 186.4 82.4 186.3 80.0 184.7 81.7 185.1 81.9 184.4 83.9zM192.8 83.4 193.3 82.0 193.6 82.1 193.4 80.5 192.1 81.6 192.5 81.7 192.0 83.1zM242.5 81.5 244.3 81.0 244.4 81.5 246.1 80.1 244.0 79.8 244.1 80.2 242.3 80.7zM249.3 81.4 251.6 80.9 251.8 81.4 253.9 79.9 251.3 79.5 251.5 80.0 249.1 80.6zM257.0 80.8 258.9 80.7 258.9 81.1 260.8 80.2 258.9 79.4 258.9 79.8 257.0 79.9zM264.2 79.9 266.1 80.5 265.9 80.9 268.1 80.7 266.5 79.2 266.3 79.7 264.5 79.1zM323.1 77.8 324.6 79.0 324.4 79.4 326.5 79.8 325.4 77.9 325.1 78.3 323.5 77.2zM330.7 78.0 332.0 78.8 331.8 79.2 333.6 79.3 332.7 77.8 332.4 78.1 331.1 77.3zM338.2 78.0 339.4 78.7 339.2 79.0 340.7 78.9 339.9 77.6 339.8 77.9 338.6 77.3zM345.2 78.1 346.8 78.5 346.7 78.9 348.5 78.5 347.1 77.3 347.0 77.7 345.4 77.3zM385.5 76.8 383.6 76.8 383.6 76.3 381.6 77.2 383.6 78.1 383.6 77.6 385.5 77.6zM414.8 76.1 412.9 76.1 412.9 75.6 411.0 76.5 412.9 77.4 412.9 76.9 414.8 76.9zM132.6 91.4 134.4 91.5 134.3 92.0 136.2 91.3 134.5 90.3 134.4 90.7 132.7 90.6zM140.9 92.1 142.0 91.3 142.2 91.6 142.8 90.2 141.3 90.3 141.5 90.6 140.4 91.4zM148.6 92.5 149.4 91.0 149.8 91.2 149.9 89.2 148.3 90.4 148.7 90.6 147.8 92.1zM156.0 92.9 156.8 90.7 157.3 90.9 157.2 88.4 155.5 90.3 156.0 90.4 155.2 92.6zM178.0 92.5 178.8 90.2 179.3 90.4 179.2 87.8 177.5 89.7 178.0 89.9 177.2 92.2zM185.5 91.8 186.1 90.0 186.6 90.2 186.4 88.1 184.9 89.6 185.3 89.7 184.7 91.5zM193.0 91.1 193.5 89.8 193.8 90.0 193.5 88.4 192.3 89.4 192.7 89.6 192.2 90.8zM236.0 89.3 237.2 89.0 237.2 89.3 238.2 88.3 236.9 87.9 236.9 88.2 235.8 88.5zM264.3 87.8 266.3 88.3 266.2 88.8 268.3 88.4 266.6 87.0 266.5 87.5 264.6 87.0zM271.3 87.0 273.5 88.1 273.3 88.6 275.9 88.9 274.2 86.9 273.9 87.4 271.7 86.2zM359.5 85.3 361.6 86.0 361.4 86.5 363.8 86.2 362.0 84.7 361.8 85.2 359.7 84.5zM385.3 84.6 383.7 84.6 383.7 84.2 382.1 85.1 383.7 85.9 383.7 85.5 385.3 85.5zM414.6 83.9 413.0 83.9 413.0 83.5 411.5 84.3 413.0 85.1 413.0 84.8 414.6 84.8zM132.3 98.7 134.5 99.3 134.4 99.9 136.8 99.6 134.9 98.0 134.7 98.5 132.5 97.9zM140.8 99.5 142.1 99.2 142.1 99.5 143.2 98.4 141.7 98.0 141.8 98.4 140.6 98.7zM148.8 99.9 149.6 98.8 149.9 99.0 150.1 97.5 148.6 98.1 148.9 98.3 148.1 99.4zM156.4 100.2 157.0 98.6 157.4 98.7 157.2 96.8 155.8 98.1 156.2 98.3 155.6 99.9zM163.6 100.2 164.3 98.4 164.8 98.5 164.6 96.4 163.1 97.9 163.5 98.1 162.9 100.0zM171.0 100.1 171.7 98.2 172.1 98.4 172.0 96.2 170.4 97.7 170.9 97.9 170.2 99.8zM178.4 99.7 179.0 98.0 179.4 98.2 179.2 96.2 177.8 97.6 178.2 97.7 177.6 99.4zM185.8 99.2 186.3 97.8 186.7 98.0 186.4 96.3 185.2 97.4 185.5 97.6 185.0 98.9zM236.2 97.2 237.3 96.9 237.4 97.2 238.4 96.1 237.0 95.7 237.1 96.0 236.0 96.4zM257.1 96.8 259.3 96.3 259.4 96.9 261.5 95.5 259.0 95.0 259.1 95.5 256.9 95.9zM265.4 96.0 266.5 96.2 266.5 96.5 267.7 95.9 266.6 95.0 266.6 95.3 265.5 95.2zM272.6 95.4 273.7 95.9 273.5 96.2 274.9 96.1 274.2 94.9 274.1 95.2 273.0 94.6zM279.8 95.0 281.0 95.7 280.8 96.0 282.4 96.1 281.6 94.7 281.4 95.0 280.3 94.3zM287.0 94.5 288.3 95.5 288.0 95.9 289.9 96.2 289.1 94.5 288.8 94.9 287.5 93.8zM294.0 93.9 295.6 95.3 295.3 95.7 297.5 96.5 296.5 94.3 296.2 94.7 294.5 93.3zM393.1 92.3 391.2 92.3 391.2 91.8 389.2 92.7 391.2 93.6 391.2 93.1 393.1 93.1zM400.9 92.1 398.5 92.1 398.5 91.5 396.1 92.5 398.5 93.5 398.5 92.9 400.9 92.9zM407.7 91.9 405.8 91.9 405.8 91.5 403.9 92.3 405.8 93.2 405.8 92.8 407.7 92.8zM132.9 106.6 134.7 107.2 134.5 107.6 136.6 107.4 135.1 105.9 135.0 106.4 133.2 105.8zM164.1 107.4 164.5 106.2 164.8 106.3 164.6 104.9 163.4 105.8 163.7 105.9 163.3 107.1zM171.4 107.2 171.9 106.0 172.2 106.1 171.9 104.7 170.7 105.6 171.1 105.7 170.6 106.9zM178.8 106.9 179.2 105.8 179.5 105.9 179.2 104.6 178.1 105.4 178.4 105.6 178.0 106.6zM243.0 105.0 244.8 104.5 245.0 104.9 246.5 103.6 244.5 103.2 244.6 103.7 242.8 104.2zM250.0 104.9 252.2 104.3 252.3 104.8 254.2 103.3 251.8 103.0 252.0 103.5 249.8 104.1zM258.2 104.4 259.5 104.1 259.6 104.5 260.7 103.4 259.2 103.0 259.3 103.3 258.0 103.6zM309.4 102.1 310.5 102.8 310.3 103.1 311.7 103.2 311.1 101.9 310.9 102.1 309.9 101.4zM316.1 101.7 317.8 102.7 317.6 103.1 319.7 103.3 318.5 101.5 318.2 101.9 316.5 100.9zM360.7 101.1 361.8 101.6 361.7 101.9 363.1 101.8 362.3 100.6 362.2 100.9 361.1 100.3zM399.8 99.9 398.6 99.9 398.6 99.6 397.4 100.3 398.6 101.1 398.6 100.8 399.8 100.8zM104.2 114.9 105.5 115.7 105.3 116.0 107.0 116.0 106.1 114.6 105.9 114.9 104.7 114.2zM111.1 114.5 112.8 115.5 112.6 115.9 114.7 116.1 113.5 114.4 113.3 114.8 111.5 113.8zM118.4 114.3 120.2 115.3 119.9 115.7 122.1 116.0 120.8 114.2 120.6 114.6 118.8 113.6zM126.1 114.4 127.5 115.1 127.3 115.5 129.1 115.5 128.1 114.0 127.9 114.4 126.5 113.7zM251.2 112.6 252.4 112.1 252.5 112.4 253.4 111.2 251.9 111.0 252.1 111.4 250.9 111.9zM258.8 112.5 259.8 111.9 259.9 112.2 260.5 111.0 259.2 110.9 259.4 111.2 258.4 111.7zM338.6 109.7 340.1 110.0 340.0 110.4 341.6 109.9 340.3 108.8 340.2 109.2 338.8 108.9zM368.2 109.3 369.5 109.3 369.5 109.6 370.7 108.9 369.5 108.1 369.5 108.5 368.2 108.5zM126.6 120.6 127.5 122.8 127.0 123.0 128.9 124.8 128.8 122.2 128.3 122.4 127.3 120.2zM141.7 121.3 142.2 122.4 141.9 122.5 143.0 123.3 143.2 121.9 142.9 122.1 142.5 121.0zM244.4 120.8 245.3 120.1 245.5 120.3 246.0 119.0 244.6 119.1 244.8 119.4 243.9 120.1zM251.1 121.1 252.7 119.9 253.0 120.3 253.9 118.4 251.9 118.9 252.2 119.2 250.6 120.4zM280.3 120.5 282.0 119.2 282.3 119.6 283.3 117.5 281.1 118.1 281.4 118.5 279.8 119.9zM288.1 119.8 289.3 119.0 289.5 119.3 290.2 117.8 288.6 118.0 288.8 118.3 287.6 119.2zM294.3 118.3 296.2 118.9 296.1 119.4 298.3 119.1 296.6 117.6 296.5 118.1 294.5 117.5zM309.3 117.3 310.7 118.5 310.5 118.8 312.5 119.3 311.5 117.4 311.3 117.8 309.8 116.6zM368.3 117.1 369.6 117.1 369.6 117.5 370.9 116.7 369.6 115.9 369.6 116.3 368.3 116.3zM141.9 128.6 142.3 130.2 142.0 130.3 143.2 131.7 143.6 129.8 143.2 130.0 142.7 128.4zM163.7 130.8 165.0 129.9 165.2 130.2 166.0 128.6 164.2 128.9 164.5 129.2 163.2 130.2zM171.3 130.4 172.3 129.7 172.5 129.9 173.0 128.6 171.6 128.8 171.8 129.0 170.8 129.8zM237.3 128.8 238.2 128.1 238.4 128.3 238.8 127.0 237.5 127.2 237.7 127.4 236.8 128.2zM243.8 129.5 245.5 127.9 245.9 128.3 247.0 125.9 244.6 126.8 245.0 127.3 243.2 128.9zM309.3 125.4 311.0 126.3 310.7 126.7 312.8 126.9 311.6 125.2 311.4 125.6 309.7 124.7zM156.6 138.7 157.8 137.9 158.1 138.2 158.8 136.7 157.1 136.9 157.4 137.2 156.1 138.1zM163.1 139.1 165.2 137.7 165.5 138.2 166.9 135.9 164.3 136.5 164.7 137.0 162.7 138.4zM170.9 138.6 172.5 137.5 172.7 137.9 173.8 136.1 171.7 136.5 172.0 136.8 170.4 137.9zM237.2 136.9 238.4 135.9 238.6 136.2 239.3 134.6 237.6 135.0 237.8 135.2 236.7 136.2zM295.2 135.8 296.9 134.5 297.2 134.9 298.4 132.8 296.1 133.4 296.4 133.8 294.7 135.1zM303.2 134.8 304.2 134.3 304.3 134.6 305.0 133.5 303.7 133.3 303.8 133.6 302.8 134.1zM341.2 134.2 341.0 133.0 341.3 132.9 340.4 131.9 339.9 133.2 340.2 133.1 340.4 134.4zM163.9 146.5 165.4 145.5 165.6 145.9 166.5 144.2 164.6 144.5 164.9 144.8 163.4 145.8zM171.6 146.1 172.7 145.3 172.9 145.6 173.5 144.2 172.0 144.4 172.2 144.7 171.1 145.4zM208.3 145.2 209.3 144.4 209.5 144.7 210.0 143.3 208.5 143.5 208.8 143.8 207.8 144.6zM215.6 145.1 216.6 144.2 216.8 144.5 217.4 143.1 215.8 143.3 216.1 143.6 215.0 144.5zM223.1 144.8 223.9 144.1 224.1 144.3 224.5 143.0 223.2 143.2 223.4 143.4 222.5 144.2zM237.6 144.7 238.6 143.7 238.9 144.0 239.3 142.4 237.7 142.8 238.0 143.1 237.0 144.1zM295.9 143.3 297.1 142.3 297.4 142.6 298.1 140.9 296.3 141.3 296.6 141.6 295.3 142.7zM341.5 142.8 341.2 140.8 341.6 140.7 340.4 139.0 339.9 141.1 340.3 141.0 340.7 142.9zM208.4 153.1 209.5 152.3 209.7 152.5 210.3 151.1 208.7 151.3 208.9 151.6 207.9 152.5zM215.7 153.0 216.8 152.1 217.0 152.4 217.7 150.8 216.0 151.1 216.3 151.4 215.1 152.4zM223.2 152.7 224.1 151.9 224.3 152.1 224.8 150.8 223.4 151.0 223.6 151.3 222.6 152.0zM266.3 152.4 268.0 150.8 268.4 151.2 269.5 149.0 267.1 149.8 267.5 150.2 265.7 151.7zM273.6 152.1 275.3 150.6 275.7 151.0 276.7 148.9 274.4 149.6 274.8 150.0 273.1 151.4zM281.3 151.6 282.6 150.5 282.9 150.8 283.7 149.0 281.8 149.5 282.1 149.8 280.7 151.0zM289.0 151.1 290.0 150.3 290.2 150.5 290.6 149.2 289.2 149.4 289.4 149.6 288.5 150.4zM216.1 160.7 217.0 159.9 217.2 160.1 217.6 158.8 216.2 159.0 216.4 159.3 215.5 160.0zM260.2 160.2 261.0 158.7 261.3 158.9 261.4 157.0 259.8 158.1 260.2 158.3 259.4 159.8zM253.3 168.0 253.8 166.7 254.2 166.8 253.9 165.2 252.7 166.2 253.1 166.4 252.6 167.7zM239.4 183.9 239.6 182.6 239.9 182.6 239.4 181.2 238.4 182.4 238.8 182.4 238.5 183.8zM246.6 184.2 246.9 182.4 247.3 182.5 246.8 180.6 245.6 182.2 246.1 182.3 245.8 184.0zM190.6 191.2 188.2 191.2 188.2 190.6 185.8 191.6 188.2 192.6 188.2 192.0 190.6 192.0zM196.9 191.0 195.5 191.0 195.5 190.6 194.1 191.4 195.5 192.2 195.5 191.8 196.9 191.8zM239.4 192.4 239.8 190.4 240.2 190.5 239.7 188.4 238.5 190.2 238.9 190.3 238.6 192.2zM254.0 191.3 254.4 190.1 254.7 190.2 254.3 188.8 253.2 189.8 253.6 189.9 253.2 191.1zM190.2 199.1 188.4 199.0 188.5 198.6 186.7 199.3 188.3 200.3 188.4 199.8 190.1 200.0zM252.6 197.7 254.0 198.2 253.9 198.6 255.5 198.3 254.4 197.1 254.3 197.4 252.9 196.9zM259.5 196.6 261.2 198.0 260.9 198.4 263.2 199.0 262.0 196.9 261.7 197.3 260.0 196.0zM281.9 196.4 283.1 197.4 282.8 197.7 284.5 198.1 283.9 196.5 283.6 196.8 282.4 195.8zM173.1 208.6 174.2 207.9 174.4 208.2 175.0 207.0 173.6 206.9 173.8 207.2 172.7 207.8zM180.2 208.5 181.5 207.8 181.7 208.1 182.6 206.6 180.9 206.7 181.1 207.0 179.7 207.8zM187.5 208.3 188.8 207.6 189.0 207.9 189.9 206.5 188.2 206.5 188.4 206.9 187.1 207.6zM195.1 208.0 196.1 207.4 196.3 207.7 196.9 206.5 195.5 206.4 195.7 206.7 194.7 207.3zM245.5 205.7 246.9 206.2 246.7 206.6 248.4 206.3 247.3 205.1 247.2 205.4 245.7 204.9zM251.9 205.0 254.1 206.0 253.9 206.5 256.6 206.6 254.7 204.7 254.5 205.2 252.2 204.3zM259.8 204.7 261.4 205.8 261.1 206.2 263.2 206.6 262.1 204.7 261.9 205.1 260.3 204.0zM281.6 204.0 283.3 205.3 282.9 205.6 285.1 206.2 284.1 204.2 283.8 204.6 282.2 203.3zM165.8 216.7 167.1 215.9 167.3 216.3 168.2 214.8 166.5 214.9 166.7 215.2 165.4 216.0zM172.2 217.0 174.4 215.8 174.7 216.3 176.3 214.2 173.7 214.5 174.0 215.0 171.8 216.3zM194.2 216.4 196.3 215.2 196.6 215.7 198.2 213.7 195.6 214.0 195.9 214.5 193.8 215.7zM202.2 215.6 203.5 215.1 203.7 215.4 204.7 214.2 203.1 214.0 203.2 214.3 201.9 214.8zM209.4 214.3 210.5 214.9 210.3 215.2 211.7 215.1 211.0 213.9 210.9 214.2 209.8 213.6zM245.5 213.5 247.0 214.0 246.9 214.4 248.7 214.2 247.5 212.9 247.3 213.2 245.8 212.7zM252.4 213.1 254.3 213.9 254.2 214.3 256.4 214.2 254.8 212.6 254.6 213.1 252.7 212.3zM259.8 213.2 261.7 213.7 261.6 214.1 263.6 213.7 262.0 212.4 261.9 212.9 260.0 212.4zM281.6 211.6 283.4 213.1 283.1 213.5 285.5 214.2 284.3 212.0 283.9 212.4 282.1 211.0zM289.6 211.5 290.6 212.8 290.3 213.1 292.0 213.9 291.6 212.0 291.3 212.3 290.2 210.9zM172.7 224.7 174.6 223.6 174.9 224.0 176.3 222.1 173.9 222.4 174.2 222.9 172.3 224.0zM194.6 224.2 196.5 223.1 196.7 223.5 198.2 221.6 195.8 221.9 196.1 222.3 194.2 223.4zM202.3 223.1 203.6 222.9 203.7 223.3 204.9 222.3 203.5 221.8 203.5 222.1 202.1 222.3zM208.9 220.9 210.6 222.6 210.2 223.0 212.5 224.1 211.6 221.7 211.2 222.1 209.5 220.3zM216.6 220.7 217.8 222.4 217.4 222.7 219.4 223.9 218.9 221.6 218.5 221.9 217.3 220.2zM253.4 221.4 254.5 221.7 254.5 222.0 255.7 221.6 254.9 220.6 254.8 220.9 253.7 220.6zM260.3 221.4 261.9 221.5 261.9 221.9 263.6 221.2 262.0 220.3 262.0 220.7 260.3 220.6zM267.2 221.3 269.2 221.3 269.2 221.8 271.3 221.0 269.3 220.0 269.3 220.5 267.2 220.4zM282.3 219.2 283.5 220.8 283.1 221.1 285.1 222.2 284.6 220.0 284.2 220.3 282.9 218.7zM209.4 228.5 210.7 230.4 210.3 230.7 212.4 232.1 211.8 229.6 211.4 229.9 210.0 228.0zM216.9 228.5 218.0 230.2 217.6 230.5 219.4 231.7 219.1 229.5 218.7 229.8 217.6 228.1zM259.9 229.3 262.1 229.3 262.1 229.9 264.4 228.9 262.1 228.0 262.1 228.5 259.9 228.5zM267.0 229.2 269.4 229.2 269.4 229.7 271.9 228.8 269.4 227.8 269.4 228.3 267.0 228.3zM282.5 227.1 283.7 228.7 283.3 228.9 285.2 230.0 284.7 227.8 284.3 228.1 283.1 226.6zM289.9 234.4 291.1 236.3 290.7 236.5 292.6 237.9 292.3 235.5 291.8 235.8 290.6 233.9zM226.3 247.3 226.4 245.5 226.9 245.5 226.2 243.6 225.1 245.4 225.6 245.4 225.4 247.2zM233.5 247.4 233.7 245.3 234.2 245.4 233.5 243.2 232.4 245.2 232.9 245.2 232.7 247.3zM226.4 255.4 226.6 253.3 227.1 253.4 226.4 251.2 225.3 253.2 225.8 253.2 225.6 255.3zM233.7 255.2 233.9 253.2 234.4 253.2 233.7 251.0 232.6 253.0 233.1 253.1 232.8 255.2zM247.2 250.4 247.6 252.8 247.1 252.9 248.5 255.2 249.0 252.6 248.5 252.7 248.0 250.2zM254.6 250.8 254.9 252.7 254.5 252.7 255.7 254.5 256.2 252.4 255.8 252.5 255.4 250.6zM254.9 266.0 255.3 268.3 254.7 268.4 256.1 270.6 256.7 268.1 256.1 268.2 255.7 265.8zM247.9 274.9 248.2 276.3 247.8 276.4 248.8 277.6 249.3 276.1 249.0 276.2 248.8 274.8zM116.6 295.0 117.8 295.4 117.7 295.7 119.0 295.5 118.2 294.4 118.1 294.7 116.9 294.3zM265.5 292.7 263.8 291.2 264.1 290.8 261.7 290.1 262.9 292.3 263.2 291.8 265.0 293.3zM272.9 292.6 271.0 291.0 271.4 290.6 268.9 289.8 270.1 292.1 270.5 291.7 272.4 293.3zM280.0 292.2 278.3 290.8 278.6 290.5 276.4 289.8 277.4 291.9 277.8 291.5 279.4 292.9zM286.8 291.6 285.6 290.7 285.8 290.4 284.2 290.0 284.8 291.6 285.1 291.3 286.2 292.3zM109.3 302.9 110.7 303.4 110.6 303.8 112.3 303.6 111.1 302.3 111.0 302.7 109.6 302.1zM116.2 302.6 118.0 303.3 117.8 303.7 119.9 303.5 118.4 302.0 118.3 302.5 116.4 301.8zM123.6 302.5 125.3 303.1 125.1 303.5 127.1 303.3 125.7 301.9 125.5 302.3 123.9 301.7zM131.4 302.5 132.5 302.9 132.4 303.2 133.8 302.9 132.9 301.8 132.8 302.1 131.7 301.7zM272.1 299.6 271.2 298.8 271.4 298.6 270.1 298.5 270.5 299.7 270.7 299.5 271.5 300.2zM109.7 310.8 110.9 311.3 110.8 311.6 112.3 311.3 111.3 310.2 111.2 310.5 110.0 310.0zM116.6 310.5 118.2 311.1 118.0 311.5 119.9 311.3 118.6 309.9 118.5 310.3 116.9 309.7zM124.0 310.4 125.5 310.9 125.3 311.3 127.1 311.1 125.9 309.8 125.8 310.1 124.3 309.6zM300.3 323.3 300.9 322.1 301.2 322.3 301.1 320.7 299.8 321.6 300.1 321.8 299.6 323.0zM307.5 323.4 308.2 321.9 308.5 322.1 308.5 320.3 307.0 321.4 307.4 321.6 306.7 323.1zM314.8 323.2 315.4 321.8 315.8 321.9 315.7 320.1 314.3 321.2 314.7 321.4 314.0 322.9zM322.2 322.8 322.7 321.6 323.0 321.7 322.9 320.2 321.6 321.1 322.0 321.2 321.4 322.4zM293.1 331.6 293.8 330.1 294.2 330.3 294.1 328.4 292.7 329.6 293.0 329.8 292.3 331.3zM329.4 330.8 330.1 329.2 330.5 329.4 330.5 327.5 329.0 328.7 329.4 328.9 328.7 330.4zM293.4 339.2 294.0 337.9 294.3 338.1 294.2 336.5 292.9 337.4 293.2 337.6 292.6 338.8zM300.3 339.7 301.2 337.8 301.7 338.0 301.8 335.6 300.0 337.2 300.5 337.4 299.5 339.4zM322.0 339.3 323.0 337.2 323.5 337.5 323.6 335.0 321.8 336.7 322.3 336.9 321.3 339.0zM329.6 338.4 330.3 337.1 330.6 337.2 330.6 335.5 329.2 336.5 329.5 336.7 328.9 338.1z" fill="#5a8fc8"/><path d="M293.7 58.3 295.4 56.2 295.9 56.5 296.8 53.8 294.3 55.2 294.7 55.6 293.1 57.8zM301.2 58.0 302.8 56.0 303.2 56.3 303.9 53.7 301.6 55.1 302.1 55.5 300.6 57.5zM379.0 53.5 375.8 53.5 375.8 52.8 372.7 53.9 375.8 55.1 375.8 54.3 379.0 54.3zM393.3 61.0 390.6 61.0 390.6 60.4 388.0 61.4 390.6 62.4 390.6 61.8 393.3 61.8zM401.2 60.8 398.0 60.8 398.0 60.1 394.8 61.2 398.0 62.4 398.0 61.6 401.2 61.6zM407.9 60.6 405.3 60.6 405.3 60.0 402.8 61.0 405.3 62.1 405.3 61.5 407.9 61.5zM162.8 77.5 163.7 74.9 164.3 75.1 164.3 72.2 162.4 74.4 162.9 74.6 162.0 77.2zM170.1 77.3 171.1 74.7 171.7 74.9 171.6 72.0 169.7 74.2 170.3 74.4 169.3 77.0zM394.2 68.8 390.8 68.8 390.8 68.0 387.3 69.2 390.8 70.4 390.8 69.6 394.2 69.6zM408.8 68.4 405.4 68.4 405.4 67.7 402.1 68.9 405.4 70.0 405.4 69.3 408.8 69.3zM155.7 85.3 156.6 82.9 157.2 83.1 157.1 80.4 155.2 82.4 155.8 82.6 154.9 85.0zM162.9 85.5 163.9 82.7 164.6 83.0 164.5 79.8 162.5 82.2 163.1 82.4 162.1 85.2zM170.2 85.3 171.3 82.5 171.9 82.8 171.9 79.6 169.8 82.0 170.5 82.3 169.5 85.1zM177.7 84.9 178.6 82.4 179.2 82.6 179.1 79.7 177.2 81.9 177.8 82.1 176.9 84.6zM271.0 79.1 273.4 80.3 273.1 80.8 276.0 81.1 274.0 79.0 273.7 79.5 271.3 78.3zM278.2 78.7 280.7 80.1 280.4 80.6 283.3 81.1 281.4 78.8 281.1 79.4 278.7 78.0zM285.8 78.4 288.0 79.9 287.6 80.4 290.4 81.1 288.8 78.7 288.5 79.2 286.3 77.7zM293.1 77.8 295.3 79.7 294.9 80.2 297.8 81.3 296.3 78.5 295.8 79.0 293.6 77.2zM300.2 77.3 302.6 79.5 302.1 80.0 305.3 81.3 303.7 78.3 303.2 78.9 300.8 76.7zM307.5 77.2 310.0 79.3 309.5 79.9 312.6 81.1 311.0 78.2 310.5 78.7 308.1 76.6zM315.3 77.5 317.3 79.2 316.9 79.6 319.6 80.5 318.2 78.0 317.8 78.5 315.8 76.9zM350.3 78.1 354.2 78.4 354.2 79.2 358.2 78.2 354.3 76.7 354.3 77.5 350.3 77.3zM358.6 78.1 361.6 78.2 361.5 78.9 364.6 77.9 361.6 76.7 361.6 77.3 358.6 77.2zM394.6 76.6 390.9 76.6 390.9 75.8 387.2 77.0 390.9 78.3 390.9 77.5 394.6 77.5zM409.1 76.3 405.6 76.3 405.6 75.5 402.0 76.7 405.6 77.9 405.6 77.1 409.1 77.1zM102.5 90.8 104.9 92.2 104.6 92.7 107.4 93.2 105.6 90.9 105.3 91.5 102.9 90.1zM109.0 90.3 112.2 92.0 111.8 92.7 115.6 93.4 113.0 90.6 112.6 91.3 109.4 89.6zM116.3 90.2 119.5 91.9 119.2 92.6 123.0 93.1 120.3 90.4 119.9 91.1 116.7 89.4zM124.3 90.6 126.9 91.7 126.7 92.3 129.7 92.4 127.5 90.3 127.2 90.9 124.6 89.9zM163.2 93.0 164.1 90.6 164.7 90.8 164.6 87.9 162.8 90.1 163.3 90.3 162.4 92.8zM170.5 92.9 171.5 90.4 172.0 90.6 172.0 87.7 170.1 89.9 170.7 90.1 169.8 92.6zM241.5 89.6 244.5 88.8 244.7 89.5 247.3 87.7 244.1 87.4 244.3 88.0 241.3 88.8zM248.1 89.6 251.8 88.7 252.0 89.5 255.4 87.4 251.4 87.1 251.6 87.9 247.9 88.8zM256.5 88.8 259.1 88.5 259.2 89.1 261.6 87.8 258.9 87.1 259.0 87.7 256.4 88.0zM278.4 86.5 280.8 87.9 280.5 88.5 283.4 89.0 281.6 86.6 281.3 87.2 278.9 85.7zM285.7 85.9 288.1 87.7 287.7 88.3 290.8 89.2 289.1 86.5 288.6 87.0 286.2 85.2zM292.6 85.0 295.4 87.5 294.9 88.1 298.6 89.7 296.5 86.3 296.0 86.9 293.1 84.4zM350.5 84.8 354.2 86.2 353.9 86.9 358.1 87.1 354.8 84.6 354.5 85.4 350.8 84.0zM394.1 84.5 391.0 84.5 391.0 83.8 388.0 84.9 391.0 86.0 391.0 85.3 394.1 85.3zM402.1 84.3 398.4 84.3 398.4 83.5 394.7 84.7 398.4 85.9 398.4 85.1 402.1 85.1zM408.7 84.1 405.7 84.1 405.7 83.4 402.7 84.5 405.7 85.6 405.7 84.9 408.7 84.9zM102.0 98.2 105.1 100.0 104.7 100.7 108.4 101.4 105.9 98.6 105.5 99.3 102.4 97.5zM123.7 97.9 127.1 99.5 126.7 100.3 130.7 100.7 127.8 98.0 127.5 98.7 124.0 97.1zM241.7 97.5 244.7 96.7 244.9 97.3 247.5 95.5 244.3 95.2 244.5 95.9 241.5 96.6zM248.4 97.4 252.0 96.5 252.2 97.3 255.5 95.2 251.6 94.9 251.8 95.7 248.2 96.6zM300.6 93.2 302.9 95.2 302.5 95.7 305.6 96.8 303.9 94.0 303.5 94.5 301.1 92.6zM307.1 92.7 310.3 95.0 309.8 95.7 313.7 97.0 311.3 93.7 310.8 94.3 307.6 92.0zM102.8 106.4 105.3 107.8 105.0 108.4 108.0 108.9 106.0 106.5 105.7 107.1 103.2 105.7zM109.3 105.7 112.6 107.7 112.2 108.4 116.2 109.2 113.5 106.2 113.0 106.9 109.7 105.0zM116.5 105.6 120.0 107.5 119.6 108.2 123.7 109.0 120.8 106.0 120.4 106.8 116.9 104.8zM124.5 105.9 127.3 107.3 127.0 108.0 130.3 108.3 128.0 105.9 127.7 106.6 124.9 105.2zM322.4 101.0 325.2 102.5 324.8 103.1 328.1 103.6 325.9 101.1 325.5 101.8 322.8 100.3zM343.7 100.2 347.1 102.0 346.8 102.7 350.8 103.3 347.9 100.5 347.5 101.2 344.1 99.5zM352.1 100.7 354.5 101.8 354.2 102.3 357.0 102.5 355.1 100.5 354.8 101.0 352.5 99.9zM344.0 109.6 347.5 109.8 347.4 110.6 350.9 109.7 347.6 108.2 347.5 109.0 344.1 108.8zM358.6 109.5 362.1 109.5 362.1 110.3 365.6 109.1 362.1 107.9 362.1 108.6 358.6 108.6zM133.8 119.6 134.8 122.6 134.2 122.8 136.3 125.4 136.3 122.0 135.6 122.3 134.5 119.3zM258.0 121.3 260.0 119.7 260.4 120.2 261.7 117.8 259.1 118.6 259.5 119.1 257.5 120.6zM265.2 121.3 267.3 119.5 267.7 120.0 269.2 117.4 266.4 118.4 266.8 118.9 264.7 120.7zM272.6 121.1 274.7 119.4 275.1 119.8 276.4 117.3 273.7 118.2 274.1 118.7 272.1 120.4zM345.0 117.7 347.6 117.7 347.6 118.3 350.2 117.2 347.6 116.2 347.6 116.8 345.0 116.8zM358.8 117.3 362.3 117.3 362.3 118.1 365.8 116.9 362.3 115.7 362.3 116.5 358.8 116.5zM127.0 128.0 127.7 130.5 127.1 130.7 128.8 132.9 129.1 130.2 128.5 130.3 127.8 127.8zM287.0 128.7 289.5 126.8 289.9 127.4 291.6 124.6 288.5 125.6 288.9 126.2 286.5 128.1zM294.0 126.9 296.5 126.7 296.6 127.3 299.1 126.2 296.5 125.3 296.5 125.9 294.0 126.0zM243.3 138.4 245.8 135.7 246.4 136.2 247.9 132.7 244.5 134.6 245.1 135.1 242.7 137.8zM286.6 137.2 289.6 134.6 290.2 135.3 292.4 131.8 288.6 133.4 289.1 134.0 286.1 136.5zM287.6 144.3 289.8 142.5 290.2 143.0 291.7 140.3 288.8 141.3 289.3 141.8 287.0 143.7zM258.7 154.0 260.8 150.9 261.4 151.4 262.5 147.6 259.4 150.0 260.1 150.4 258.0 153.5zM245.3 161.4 246.3 159.0 246.9 159.3 247.0 156.5 245.0 158.5 245.6 158.7 244.6 161.0zM246.5 192.9 247.1 190.2 247.7 190.4 247.2 187.5 245.6 189.9 246.2 190.1 245.7 192.7zM266.1 195.7 268.5 197.8 268.0 198.3 271.2 199.5 269.5 196.6 269.0 197.1 266.6 195.1zM273.6 195.7 275.8 197.6 275.4 198.1 278.3 199.1 276.7 196.4 276.3 197.0 274.1 195.1zM265.8 203.3 268.7 205.6 268.1 206.2 271.8 207.6 269.7 204.3 269.2 204.9 266.3 202.6zM178.9 217.2 181.7 215.6 182.1 216.2 184.3 213.6 180.9 214.2 181.3 214.9 178.5 216.5zM186.2 217.0 189.0 215.4 189.4 216.0 191.5 213.5 188.2 214.1 188.6 214.7 185.8 216.3zM179.4 224.8 181.9 223.4 182.2 224.0 184.2 221.6 181.1 222.1 181.5 222.7 179.0 224.1zM186.7 224.7 189.2 223.2 189.5 223.8 191.4 221.4 188.4 221.9 188.8 222.5 186.3 223.9zM296.3 218.2 298.1 220.5 297.6 220.9 300.3 222.5 299.3 219.5 298.8 220.0 297.0 217.6zM296.4 225.8 298.3 228.3 297.7 228.7 300.4 230.5 299.5 227.4 298.9 227.8 297.1 225.3zM283.9 241.2 283.9 244.0 283.3 244.0 284.3 246.9 285.4 244.0 284.8 244.0 284.8 241.2zM247.2 256.9 247.8 260.7 247.0 260.8 248.9 264.4 249.5 260.4 248.6 260.5 248.0 256.7zM254.6 257.6 255.1 260.5 254.5 260.6 256.0 263.3 256.6 260.2 255.9 260.3 255.4 257.5zM247.4 265.4 248.0 268.5 247.3 268.6 249.0 271.5 249.5 268.2 248.8 268.3 248.3 265.2zM300.0 332.3 301.1 329.9 301.6 330.2 301.8 327.4 299.8 329.3 300.3 329.6 299.2 331.9zM307.0 332.7 308.3 329.8 309.0 330.1 309.3 326.6 306.9 329.1 307.6 329.4 306.2 332.4zM314.2 332.6 315.6 329.6 316.3 329.9 316.6 326.4 314.2 328.9 314.8 329.2 313.5 332.2zM321.8 331.8 322.9 329.4 323.4 329.7 323.6 326.8 321.6 328.8 322.1 329.1 321.0 331.5zM307.3 340.1 308.5 337.6 309.1 337.9 309.3 334.9 307.2 337.0 307.7 337.2 306.6 339.7zM314.6 340.0 315.8 337.4 316.3 337.7 316.6 334.7 314.4 336.8 315.0 337.1 313.8 339.6z" fill="#7fb8dc"/><path d="M387.6 53.3 383.2 53.3 383.2 52.5 378.7 53.7 383.2 55.0 383.2 54.2 387.6 54.2zM395.9 53.2 389.7 53.2 389.7 52.3 385.2 53.6 389.7 54.8 389.7 54.0 395.9 54.0zM403.1 53.0 397.1 53.0 397.1 52.1 392.6 53.4 397.1 54.6 397.1 53.8 403.1 53.8zM409.2 52.8 405.2 52.8 405.2 52.0 401.1 53.2 405.2 54.5 405.2 53.6 409.2 53.6zM402.3 68.6 398.1 68.6 398.1 67.8 393.9 69.0 398.1 70.3 398.1 69.5 402.3 69.5zM402.7 76.4 398.2 76.4 398.2 75.6 393.8 76.9 398.2 78.1 398.2 77.3 402.7 77.3zM299.2 84.2 303.0 87.5 302.4 88.1 306.6 90.1 304.1 86.2 303.5 86.9 299.7 83.6zM306.1 83.9 310.6 87.6 310.1 88.2 314.4 90.1 311.7 86.3 311.2 86.9 306.6 83.3zM313.1 83.9 318.2 87.5 317.7 88.2 322.1 89.7 319.1 86.1 318.6 86.8 313.6 83.2zM342.2 84.1 347.4 86.6 347.1 87.4 351.7 88.2 348.2 85.1 347.8 85.9 342.6 83.3zM108.3 97.5 112.6 100.0 112.2 100.7 116.8 101.8 113.4 98.5 113.0 99.2 108.7 96.8zM115.5 97.4 120.1 99.8 119.7 100.6 124.2 101.6 120.9 98.4 120.5 99.1 115.9 96.6zM313.1 92.0 318.3 95.3 317.9 96.0 322.4 97.3 319.2 93.9 318.8 94.6 313.6 91.3zM349.8 91.7 354.8 94.2 354.4 94.9 359.0 95.9 355.6 92.7 355.2 93.5 350.2 90.9zM328.7 100.4 332.5 102.3 332.1 103.1 336.5 103.9 333.3 100.8 332.9 101.6 329.1 99.6zM335.7 100.1 339.9 102.2 339.5 102.9 344.1 103.9 340.6 100.7 340.3 101.4 336.1 99.3zM349.8 109.5 355.3 109.7 355.3 110.5 359.8 109.4 355.3 108.0 355.3 108.8 349.8 108.7zM299.9 116.3 303.5 118.7 303.0 119.4 307.2 120.7 304.4 117.3 303.9 118.0 300.4 115.6zM350.6 117.5 355.0 117.5 355.0 118.3 359.3 117.1 355.0 115.8 355.0 116.6 350.6 116.6zM134.0 126.5 135.0 130.3 134.2 130.6 136.5 134.1 136.6 129.9 135.8 130.1 134.8 126.3zM249.9 130.5 252.9 127.7 253.4 128.3 255.5 124.6 251.7 126.5 252.3 127.1 249.4 129.8zM256.2 131.0 260.8 127.0 261.3 127.7 263.9 123.8 259.7 125.8 260.2 126.4 255.7 130.3zM278.6 130.0 282.2 126.9 282.8 127.6 285.4 123.7 281.2 125.6 281.7 126.3 278.1 129.3zM300.0 124.6 303.6 126.5 303.3 127.3 307.5 128.0 304.4 125.0 304.0 125.8 300.4 123.9zM243.6 147.1 246.0 143.4 246.7 143.9 248.0 139.6 244.6 142.5 245.3 143.0 242.9 146.6zM263.8 146.4 268.5 142.5 269.0 143.1 271.6 139.3 267.4 141.2 267.9 141.8 263.2 145.8zM271.2 146.2 275.7 142.4 276.2 143.0 278.9 139.1 274.6 141.1 275.2 141.7 270.6 145.5zM279.2 145.4 282.5 142.6 283.0 143.3 285.5 139.6 281.4 141.4 281.9 142.0 278.7 144.7zM244.4 154.9 246.2 151.2 246.9 151.6 247.6 147.4 244.7 150.5 245.4 150.9 243.6 154.5zM252.0 162.8 253.7 158.8 254.4 159.2 254.9 154.7 252.1 158.2 252.9 158.5 251.3 162.5zM272.5 202.7 276.0 205.4 275.4 206.1 279.7 207.8 277.0 204.1 276.5 204.8 273.0 202.1zM263.8 211.7 269.9 213.8 269.6 214.6 274.3 214.9 270.4 212.2 270.2 213.0 264.0 210.9zM287.7 224.2 291.5 229.2 290.9 229.7 294.6 232.5 292.8 228.2 292.2 228.7 288.3 223.7zM296.6 231.9 298.4 236.1 297.6 236.4 300.5 240.0 299.9 235.4 299.2 235.7 297.4 231.5zM297.1 240.1 298.5 243.8 297.7 244.1 300.3 247.5 300.1 243.3 299.3 243.5 297.9 239.8zM284.1 246.4 284.1 252.9 283.3 252.9 284.5 257.4 285.8 252.9 284.9 252.9 284.9 246.4z" fill="#b5dcea"/><path d="M319.8 83.8 326.0 87.6 325.6 88.3 330.1 89.5 326.9 86.1 326.5 86.8 320.2 83.1zM326.4 83.5 334.0 87.7 333.6 88.4 338.1 89.4 334.8 86.2 334.4 86.9 326.8 82.8zM333.8 83.5 341.2 87.4 340.8 88.1 345.4 89.1 342.0 85.9 341.6 86.6 334.2 82.8zM262.9 131.2 268.6 126.4 269.2 127.0 271.8 123.2 267.5 125.1 268.1 125.8 262.4 130.5zM270.4 130.9 275.8 126.4 276.3 127.0 279.0 123.1 274.7 125.1 275.3 125.7 269.9 130.2zM249.0 140.2 254.2 134.2 254.8 134.7 256.8 130.5 252.9 133.1 253.6 133.6 248.4 139.6zM255.3 140.0 262.1 133.7 262.7 134.3 265.1 130.3 261.0 132.5 261.5 133.1 254.7 139.4zM262.0 139.9 269.9 133.3 270.4 134.0 273.1 130.1 268.8 132.0 269.3 132.7 261.5 139.3zM269.5 139.6 277.1 133.3 277.6 133.9 280.2 130.0 276.0 132.0 276.5 132.6 268.9 139.0zM277.8 138.6 283.3 134.0 283.9 134.6 286.5 130.8 282.2 132.7 282.8 133.3 277.3 137.9zM256.6 147.5 261.5 142.1 262.1 142.6 264.2 138.5 260.3 141.0 260.9 141.5 256.0 147.0zM250.5 157.4 254.6 148.7 255.3 149.1 256.1 144.5 253.1 148.0 253.8 148.4 249.7 157.0zM270.8 210.4 277.6 214.1 277.2 214.8 281.8 215.8 278.4 212.6 278.0 213.3 271.2 209.7zM287.3 216.2 291.5 221.6 290.9 222.1 294.6 224.8 292.8 220.5 292.2 221.0 288.0 215.7z" fill="#eef6ee"/><path d="M318.4 91.0 327.6 96.1 327.2 96.9 331.8 97.9 328.4 94.7 328.0 95.4 318.8 90.3zM339.8 90.5 350.2 95.8 349.8 96.5 354.4 97.4 350.9 94.3 350.5 95.0 340.2 89.7zM249.3 149.6 254.9 140.7 255.6 141.1 256.9 136.6 253.5 139.8 254.2 140.2 248.6 149.2z" fill="#fffbd0"/><path d="M323.9 90.1 336.8 96.9 336.4 97.6 341.0 98.6 337.6 95.4 337.2 96.1 324.2 89.3zM330.8 89.8 344.5 96.8 344.1 97.6 348.7 98.5 345.3 95.3 344.9 96.1 331.2 89.0z" fill="#fee8a0"/>
</g>
<rect x="100.5" y="49.5" width="321" height="305.8" fill="none" stroke="#000" stroke-width="1.1"/>
<rect x="441.5" y="125.5" width="8" height="153.6" fill="url(#cb)" stroke="#000" stroke-width="1.1"/>
<path d="M449.5 279.1h5M449.5 248.4h5M449.5 217.7h5M449.5 186.9h5M449.5 156.2h5M449.5 125.5h5" stroke="#000" stroke-width="1.1" fill="none"/>
<text x="460" y="283.9" font-size="14.3" textLength="19.2" lengthAdjust="spacing" text-anchor="start">0.0</text>
<text x="460" y="253.2" font-size="14.3" textLength="19.2" lengthAdjust="spacing" text-anchor="start">0.2</text>
<text x="460" y="222.5" font-size="14.3" textLength="19.2" lengthAdjust="spacing" text-anchor="start">0.4</text>
<text x="460" y="191.7" font-size="14.3" textLength="19.2" lengthAdjust="spacing" text-anchor="start">0.6</text>
<text x="460" y="161.0" font-size="14.3" textLength="19.2" lengthAdjust="spacing" text-anchor="start">0.8</text>
<text x="460" y="130.3" font-size="14.3" textLength="19.2" lengthAdjust="spacing" text-anchor="start">1.0</text>
<text x="164.3" y="19.9" font-size="18" textLength="190.6" lengthAdjust="spacing" text-anchor="start">2026-03-30T18:00:00Z</text>
<path d="M277 0.6h9M309.5 0.6h8M331.5 0.6h8.5M287 0v2.4" stroke="#000" stroke-width="1.1" fill="none"/>
<text x="75.0" y="39.3" font-size="14.3" textLength="52.5" lengthAdjust="spacing" text-anchor="start">112.5°E</text>
<text x="173.7" y="39.3" font-size="14.3" textLength="39.6" lengthAdjust="spacing" text-anchor="start">113°E</text>
<text x="258.8" y="39.3" font-size="14.3" textLength="52.5" lengthAdjust="spacing" text-anchor="start">113.5°E</text>
<text x="356.8" y="39.3" font-size="14.3" textLength="39.6" lengthAdjust="spacing" text-anchor="start">114°E</text>
<text x="85.2" y="373" font-size="14.3" textLength="52.5" lengthAdjust="spacing" text-anchor="start">112.5°E</text>
<text x="182.1" y="373" font-size="14.3" textLength="39.6" lengthAdjust="spacing" text-anchor="start">113°E</text>
<text x="266.2" y="373" font-size="14.3" textLength="52.5" lengthAdjust="spacing" text-anchor="start">113.5°E</text>
<text x="363.0" y="373" font-size="14.3" textLength="39.6" lengthAdjust="spacing" text-anchor="start">114°E</text>
<text x="46.4" y="82.1" font-size="14.3" textLength="46" lengthAdjust="spacing" text-anchor="start">21.6°S</text>
<text x="46.4" y="121.4" font-size="14.3" textLength="46" lengthAdjust="spacing" text-anchor="start">21.8°S</text>
<text x="60.0" y="160.7" font-size="14.3" textLength="32.4" lengthAdjust="spacing" text-anchor="start">22°S</text>
<text x="46.4" y="200.0" font-size="14.3" textLength="46" lengthAdjust="spacing" text-anchor="start">22.2°S</text>
<text x="46.4" y="239.3" font-size="14.3" textLength="46" lengthAdjust="spacing" text-anchor="start">22.4°S</text>
<text x="46.4" y="278.6" font-size="14.3" textLength="46" lengthAdjust="spacing" text-anchor="start">22.6°S</text>
<text x="46.4" y="317.9" font-size="14.3" textLength="46" lengthAdjust="spacing" text-anchor="start">22.8°S</text>
<text x="60.0" y="357.2" font-size="14.3" textLength="32.4" lengthAdjust="spacing" text-anchor="start">23°S</text>
<text x="547.5" y="33" font-size="14.3" textLength="100.5" lengthAdjust="spacing" text-anchor="start">Iterations: 200</text>
<text x="547.5" y="65.2" font-size="14.3" textLength="173.8" lengthAdjust="spacing" text-anchor="start">nll: -7485.423968075472</text>
<text x="547.5" y="97.7" font-size="14.3" textLength="89.5" lengthAdjust="spacing" text-anchor="start">σ = 9.44e-07</text>
<text x="547.5" y="130.2" font-size="14.3" textLength="106.2" lengthAdjust="spacing" text-anchor="start">,η_ψ = 4901.76</text>
<text x="547.5" y="162.8" font-size="14.3" textLength="107.0" lengthAdjust="spacing" text-anchor="start">ℓ_ψ = 26248.53</text>
<text x="547.5" y="195.2" font-size="14.3" textLength="113.8" lengthAdjust="spacing" text-anchor="start">η_uv = 1.58e-01</text>
<text x="547.5" y="227.7" font-size="14.3" textLength="114.5" lengthAdjust="spacing" text-anchor="start">ℓ_uv = 10554.42</text>
<text x="547.5" y="260.2" font-size="14.3" textLength="105.5" lengthAdjust="spacing" text-anchor="start">η_q = 1.95e-05</text>
<text x="547.5" y="292.7" font-size="14.3" textLength="107.0" lengthAdjust="spacing" text-anchor="start">ℓ_q = 20056.38</text>
</svg></body></html>
